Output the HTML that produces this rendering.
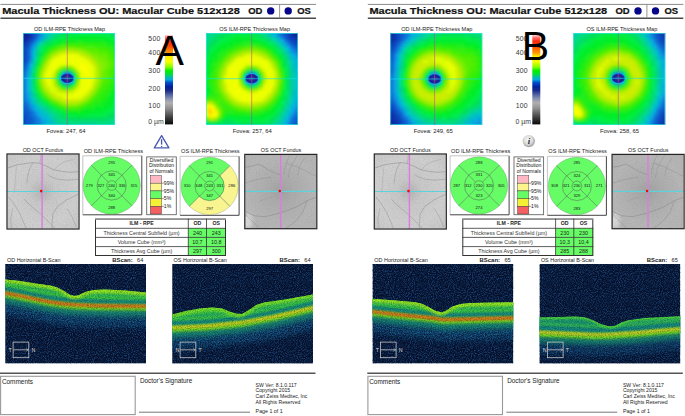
<!DOCTYPE html>
<html><head><meta charset="utf-8"><style>
html,body{margin:0;padding:0;background:#fff;width:685px;height:416px;overflow:hidden}
svg{display:block;font-family:"Liberation Sans", sans-serif}
</style></head><body>
<svg width="685" height="416" viewBox="0 0 685 416">
<rect width="685" height="416" fill="#fff"/>
<g transform="translate(0,0)">
<line x1="0.5" y1="4.4" x2="316" y2="4.4" stroke="#8a8a8a" stroke-width="1"/>
<line x1="0.5" y1="18.3" x2="316" y2="18.3" stroke="#4a4a4a" stroke-width="1.5"/>
<line x1="279.6" y1="4.4" x2="279.6" y2="18.3" stroke="#8a8a8a" stroke-width="0.9"/>
<text x="2.2" y="13.9" font-size="9.7" font-weight="bold" fill="#111" stroke="#111" stroke-width="0.22" textLength="237.6" lengthAdjust="spacingAndGlyphs">Macula Thickness OU: Macular Cube 512x128</text>
<text x="248.2" y="13.9" font-size="9.7" font-weight="bold" fill="#111" stroke="#111" stroke-width="0.22" textLength="14.2" lengthAdjust="spacingAndGlyphs">OD</text>
<circle cx="270.7" cy="10.9" r="3.7" fill="#06068a"/>
<circle cx="288.2" cy="10.9" r="3.7" fill="#06068a"/>
<text x="297.2" y="13.9" font-size="9.7" font-weight="bold" fill="#111" stroke="#111" stroke-width="0.22" textLength="13.6" lengthAdjust="spacingAndGlyphs">OS</text>
<text x="69.5" y="31.1" font-size="5.55" text-anchor="middle" font-weight="normal" fill="#222" >OD ILM-RPE Thickness Map</text>
<text x="254.6" y="31.1" font-size="5.55" text-anchor="middle" font-weight="normal" fill="#222" >OS ILM-RPE Thickness Map</text>
<g transform="translate(23,33)"><defs><clipPath id="cpAa"><rect width="92" height="92"/></clipPath><filter id="blAa" x="-5%" y="-5%" width="110%" height="110%"><feGaussianBlur stdDeviation="1.6"/></filter><filter id="bsAa" x="-50%" y="-50%" width="200%" height="200%"><feGaussianBlur stdDeviation="1.1"/></filter><filter id="btAa" x="-50%" y="-50%" width="200%" height="200%"><feGaussianBlur stdDeviation="0.6"/></filter></defs><g clip-path="url(#cpAa)"><g filter="url(#blAa)" shape-rendering="crispEdges"><rect x="-3" y="-3" width="3" height="3" fill="#13a"/><rect x="0" y="-3" width="3" height="3" fill="#12a"/><rect x="3" y="-3" width="3" height="3" fill="#13a"/><rect x="6" y="-3" width="3" height="3" fill="#14b"/><rect x="9" y="-3" width="3" height="3" fill="#15c"/><rect x="12" y="-3" width="3" height="3" fill="#16c"/><rect x="15" y="-3" width="3" height="3" fill="#17d"/><rect x="18" y="-3" width="3" height="3" fill="#1ad"/><rect x="21" y="-3" width="3" height="3" fill="#0bc"/><rect x="24" y="-3" width="3" height="3" fill="#0bb"/><rect x="27" y="-3" width="3" height="3" fill="#0ca"/><rect x="30" y="-3" width="3" height="3" fill="#0c9"/><rect x="33" y="-3" width="3" height="3" fill="#0d8"/><rect x="36" y="-3" width="3" height="3" fill="#0d7"/><rect x="39" y="-3" width="6" height="3" fill="#0d6"/><rect x="45" y="-3" width="9" height="3" fill="#0d5"/><rect x="54" y="-3" width="18" height="3" fill="#0e5"/><rect x="72" y="-3" width="12" height="3" fill="#0d5"/><rect x="84" y="-3" width="12" height="3" fill="#0d6"/><rect x="-3" y="0" width="9" height="3" fill="#129"/><rect x="6" y="0" width="3" height="3" fill="#13a"/><rect x="9" y="0" width="3" height="3" fill="#14b"/><rect x="12" y="0" width="3" height="3" fill="#15c"/><rect x="15" y="0" width="3" height="3" fill="#17d"/><rect x="18" y="0" width="3" height="3" fill="#19d"/><rect x="21" y="0" width="3" height="3" fill="#0bc"/><rect x="24" y="0" width="3" height="3" fill="#0cb"/><rect x="27" y="0" width="3" height="3" fill="#0ca"/><rect x="30" y="0" width="3" height="3" fill="#0d8"/><rect x="33" y="0" width="3" height="3" fill="#0d7"/><rect x="36" y="0" width="3" height="3" fill="#0d6"/><rect x="39" y="0" width="6" height="3" fill="#0d5"/><rect x="45" y="0" width="39" height="3" fill="#0e4"/><rect x="84" y="0" width="3" height="3" fill="#0e5"/><rect x="87" y="0" width="3" height="3" fill="#0d5"/><rect x="90" y="0" width="6" height="3" fill="#0d6"/><rect x="-3" y="3" width="9" height="3" fill="#129"/><rect x="6" y="3" width="3" height="3" fill="#13a"/><rect x="9" y="3" width="3" height="3" fill="#14b"/><rect x="12" y="3" width="3" height="3" fill="#16c"/><rect x="15" y="3" width="3" height="3" fill="#18d"/><rect x="18" y="3" width="3" height="3" fill="#0ad"/><rect x="21" y="3" width="3" height="3" fill="#0bb"/><rect x="24" y="3" width="3" height="3" fill="#0ca"/><rect x="27" y="3" width="3" height="3" fill="#0d8"/><rect x="30" y="3" width="3" height="3" fill="#0d6"/><rect x="33" y="3" width="3" height="3" fill="#0d5"/><rect x="36" y="3" width="3" height="3" fill="#0e5"/><rect x="39" y="3" width="6" height="3" fill="#0e4"/><rect x="45" y="3" width="12" height="3" fill="#0e3"/><rect x="57" y="3" width="15" height="3" fill="#0e2"/><rect x="72" y="3" width="15" height="3" fill="#0e3"/><rect x="87" y="3" width="3" height="3" fill="#0e4"/><rect x="90" y="3" width="3" height="3" fill="#0e5"/><rect x="93" y="3" width="3" height="3" fill="#0d5"/><rect x="-3" y="6" width="3" height="3" fill="#13a"/><rect x="0" y="6" width="3" height="3" fill="#12a"/><rect x="3" y="6" width="3" height="3" fill="#13a"/><rect x="6" y="6" width="3" height="3" fill="#14b"/><rect x="9" y="6" width="3" height="3" fill="#15c"/><rect x="12" y="6" width="3" height="3" fill="#17d"/><rect x="15" y="6" width="3" height="3" fill="#0ad"/><rect x="18" y="6" width="3" height="3" fill="#0bb"/><rect x="21" y="6" width="3" height="3" fill="#0c9"/><rect x="24" y="6" width="3" height="3" fill="#0d7"/><rect x="27" y="6" width="3" height="3" fill="#0d6"/><rect x="30" y="6" width="3" height="3" fill="#0e5"/><rect x="33" y="6" width="3" height="3" fill="#0e4"/><rect x="36" y="6" width="3" height="3" fill="#0e3"/><rect x="39" y="6" width="6" height="3" fill="#0e2"/><rect x="45" y="6" width="36" height="3" fill="#1e2"/><rect x="81" y="6" width="6" height="3" fill="#0e2"/><rect x="87" y="6" width="6" height="3" fill="#0e3"/><rect x="93" y="6" width="3" height="3" fill="#0e4"/><rect x="-3" y="9" width="6" height="3" fill="#13a"/><rect x="3" y="9" width="3" height="3" fill="#14b"/><rect x="6" y="9" width="3" height="3" fill="#15c"/><rect x="9" y="9" width="3" height="3" fill="#17d"/><rect x="12" y="9" width="3" height="3" fill="#0ad"/><rect x="15" y="9" width="3" height="3" fill="#0cb"/><rect x="18" y="9" width="3" height="3" fill="#0d8"/><rect x="21" y="9" width="3" height="3" fill="#0d6"/><rect x="24" y="9" width="3" height="3" fill="#0d5"/><rect x="27" y="9" width="3" height="3" fill="#0e4"/><rect x="30" y="9" width="3" height="3" fill="#0e3"/><rect x="33" y="9" width="3" height="3" fill="#0e2"/><rect x="36" y="9" width="3" height="3" fill="#1e2"/><rect x="39" y="9" width="3" height="3" fill="#2e2"/><rect x="42" y="9" width="12" height="3" fill="#2e1"/><rect x="54" y="9" width="6" height="3" fill="#3e1"/><rect x="60" y="9" width="21" height="3" fill="#2e1"/><rect x="81" y="9" width="3" height="3" fill="#2e2"/><rect x="84" y="9" width="6" height="3" fill="#1e2"/><rect x="90" y="9" width="3" height="3" fill="#0e2"/><rect x="93" y="9" width="3" height="3" fill="#0e3"/><rect x="-3" y="12" width="9" height="3" fill="#14b"/><rect x="6" y="12" width="3" height="3" fill="#16c"/><rect x="9" y="12" width="3" height="3" fill="#19d"/><rect x="12" y="12" width="3" height="3" fill="#0bb"/><rect x="15" y="12" width="3" height="3" fill="#0d8"/><rect x="18" y="12" width="3" height="3" fill="#0d6"/><rect x="21" y="12" width="3" height="3" fill="#0e4"/><rect x="24" y="12" width="3" height="3" fill="#0e3"/><rect x="27" y="12" width="3" height="3" fill="#0e2"/><rect x="30" y="12" width="3" height="3" fill="#2e1"/><rect x="33" y="12" width="3" height="3" fill="#3e1"/><rect x="36" y="12" width="3" height="3" fill="#4e0"/><rect x="39" y="12" width="15" height="3" fill="#5e0"/><rect x="54" y="12" width="9" height="3" fill="#4e0"/><rect x="63" y="12" width="9" height="3" fill="#4e1"/><rect x="72" y="12" width="12" height="3" fill="#3e1"/><rect x="84" y="12" width="3" height="3" fill="#2e1"/><rect x="87" y="12" width="3" height="3" fill="#2e2"/><rect x="90" y="12" width="3" height="3" fill="#1e2"/><rect x="93" y="12" width="3" height="3" fill="#0e2"/><rect x="-3" y="15" width="6" height="3" fill="#14b"/><rect x="3" y="15" width="3" height="3" fill="#15c"/><rect x="6" y="15" width="3" height="3" fill="#17d"/><rect x="9" y="15" width="3" height="3" fill="#0ad"/><rect x="12" y="15" width="3" height="3" fill="#0ca"/><rect x="15" y="15" width="3" height="3" fill="#0d7"/><rect x="18" y="15" width="3" height="3" fill="#0e5"/><rect x="21" y="15" width="3" height="3" fill="#0e3"/><rect x="24" y="15" width="3" height="3" fill="#1e2"/><rect x="27" y="15" width="3" height="3" fill="#3e1"/><rect x="30" y="15" width="3" height="3" fill="#4e0"/><rect x="33" y="15" width="3" height="3" fill="#6e0"/><rect x="36" y="15" width="3" height="3" fill="#7e0"/><rect x="39" y="15" width="3" height="3" fill="#8e0"/><rect x="42" y="15" width="9" height="3" fill="#9e0"/><rect x="51" y="15" width="6" height="3" fill="#8e0"/><rect x="57" y="15" width="3" height="3" fill="#7e0"/><rect x="60" y="15" width="3" height="3" fill="#6e0"/><rect x="63" y="15" width="12" height="3" fill="#5e0"/><rect x="75" y="15" width="9" height="3" fill="#4e0"/><rect x="84" y="15" width="6" height="3" fill="#3e1"/><rect x="90" y="15" width="3" height="3" fill="#2e2"/><rect x="93" y="15" width="3" height="3" fill="#1e2"/><rect x="-3" y="18" width="6" height="3" fill="#14b"/><rect x="3" y="18" width="3" height="3" fill="#15c"/><rect x="6" y="18" width="3" height="3" fill="#17d"/><rect x="9" y="18" width="3" height="3" fill="#0bd"/><rect x="12" y="18" width="3" height="3" fill="#0c9"/><rect x="15" y="18" width="3" height="3" fill="#0d6"/><rect x="18" y="18" width="3" height="3" fill="#0e4"/><rect x="21" y="18" width="3" height="3" fill="#1e2"/><rect x="24" y="18" width="3" height="3" fill="#3e1"/><rect x="27" y="18" width="3" height="3" fill="#6e0"/><rect x="30" y="18" width="3" height="3" fill="#8e0"/><rect x="33" y="18" width="3" height="3" fill="#9e0"/><rect x="36" y="18" width="6" height="3" fill="#be0"/><rect x="42" y="18" width="9" height="3" fill="#ce0"/><rect x="51" y="18" width="6" height="3" fill="#be0"/><rect x="57" y="18" width="3" height="3" fill="#ae0"/><rect x="60" y="18" width="3" height="3" fill="#9e0"/><rect x="63" y="18" width="3" height="3" fill="#8e0"/><rect x="66" y="18" width="9" height="3" fill="#6e0"/><rect x="75" y="18" width="9" height="3" fill="#5e0"/><rect x="84" y="18" width="3" height="3" fill="#4e0"/><rect x="87" y="18" width="3" height="3" fill="#3e1"/><rect x="90" y="18" width="3" height="3" fill="#2e1"/><rect x="93" y="18" width="3" height="3" fill="#1e2"/><rect x="-3" y="21" width="6" height="3" fill="#14b"/><rect x="3" y="21" width="3" height="3" fill="#15c"/><rect x="6" y="21" width="3" height="3" fill="#17d"/><rect x="9" y="21" width="3" height="3" fill="#0bd"/><rect x="12" y="21" width="3" height="3" fill="#0c9"/><rect x="15" y="21" width="3" height="3" fill="#0d5"/><rect x="18" y="21" width="3" height="3" fill="#0e2"/><rect x="21" y="21" width="3" height="3" fill="#3e1"/><rect x="24" y="21" width="3" height="3" fill="#6e0"/><rect x="27" y="21" width="3" height="3" fill="#9e0"/><rect x="30" y="21" width="3" height="3" fill="#be0"/><rect x="33" y="21" width="3" height="3" fill="#ce0"/><rect x="36" y="21" width="3" height="3" fill="#df0"/><rect x="39" y="21" width="15" height="3" fill="#ef0"/><rect x="54" y="21" width="3" height="3" fill="#df0"/><rect x="57" y="21" width="3" height="3" fill="#ce0"/><rect x="60" y="21" width="3" height="3" fill="#be0"/><rect x="63" y="21" width="3" height="3" fill="#ae0"/><rect x="66" y="21" width="3" height="3" fill="#9e0"/><rect x="69" y="21" width="6" height="3" fill="#7e0"/><rect x="75" y="21" width="9" height="3" fill="#6e0"/><rect x="84" y="21" width="3" height="3" fill="#5e0"/><rect x="87" y="21" width="3" height="3" fill="#4e0"/><rect x="90" y="21" width="3" height="3" fill="#3e1"/><rect x="93" y="21" width="3" height="3" fill="#2e1"/><rect x="-3" y="24" width="6" height="3" fill="#14b"/><rect x="3" y="24" width="3" height="3" fill="#15c"/><rect x="6" y="24" width="3" height="3" fill="#17d"/><rect x="9" y="24" width="3" height="3" fill="#0bc"/><rect x="12" y="24" width="3" height="3" fill="#0d8"/><rect x="15" y="24" width="3" height="3" fill="#0e4"/><rect x="18" y="24" width="3" height="3" fill="#2e2"/><rect x="21" y="24" width="3" height="3" fill="#5e0"/><rect x="24" y="24" width="3" height="3" fill="#8e0"/><rect x="27" y="24" width="3" height="3" fill="#be0"/><rect x="30" y="24" width="3" height="3" fill="#df0"/><rect x="33" y="24" width="27" height="3" fill="#ef0"/><rect x="60" y="24" width="3" height="3" fill="#df0"/><rect x="63" y="24" width="3" height="3" fill="#ce0"/><rect x="66" y="24" width="3" height="3" fill="#be0"/><rect x="69" y="24" width="3" height="3" fill="#9e0"/><rect x="72" y="24" width="3" height="3" fill="#8e0"/><rect x="75" y="24" width="6" height="3" fill="#7e0"/><rect x="81" y="24" width="3" height="3" fill="#6e0"/><rect x="84" y="24" width="3" height="3" fill="#5e0"/><rect x="87" y="24" width="3" height="3" fill="#4e0"/><rect x="90" y="24" width="3" height="3" fill="#3e1"/><rect x="93" y="24" width="3" height="3" fill="#2e1"/><rect x="-3" y="27" width="6" height="3" fill="#14b"/><rect x="3" y="27" width="3" height="3" fill="#15c"/><rect x="6" y="27" width="3" height="3" fill="#18d"/><rect x="9" y="27" width="3" height="3" fill="#0bb"/><rect x="12" y="27" width="3" height="3" fill="#0d7"/><rect x="15" y="27" width="3" height="3" fill="#0e3"/><rect x="18" y="27" width="3" height="3" fill="#3e1"/><rect x="21" y="27" width="3" height="3" fill="#7e0"/><rect x="24" y="27" width="3" height="3" fill="#be0"/><rect x="27" y="27" width="3" height="3" fill="#df0"/><rect x="30" y="27" width="36" height="3" fill="#ef0"/><rect x="66" y="27" width="3" height="3" fill="#ce0"/><rect x="69" y="27" width="3" height="3" fill="#be0"/><rect x="72" y="27" width="3" height="3" fill="#9e0"/><rect x="75" y="27" width="3" height="3" fill="#8e0"/><rect x="78" y="27" width="6" height="3" fill="#7e0"/><rect x="84" y="27" width="3" height="3" fill="#6e0"/><rect x="87" y="27" width="3" height="3" fill="#5e0"/><rect x="90" y="27" width="3" height="3" fill="#4e1"/><rect x="93" y="27" width="3" height="3" fill="#2e1"/><rect x="-3" y="30" width="3" height="3" fill="#14b"/><rect x="0" y="30" width="3" height="3" fill="#15c"/><rect x="3" y="30" width="3" height="3" fill="#16c"/><rect x="6" y="30" width="3" height="3" fill="#1ad"/><rect x="9" y="30" width="3" height="3" fill="#0ca"/><rect x="12" y="30" width="3" height="3" fill="#0d5"/><rect x="15" y="30" width="3" height="3" fill="#1e2"/><rect x="18" y="30" width="3" height="3" fill="#5e0"/><rect x="21" y="30" width="3" height="3" fill="#ae0"/><rect x="24" y="30" width="3" height="3" fill="#ce0"/><rect x="27" y="30" width="12" height="3" fill="#ef0"/><rect x="39" y="30" width="9" height="3" fill="#df0"/><rect x="48" y="30" width="9" height="3" fill="#ef0"/><rect x="57" y="30" width="3" height="3" fill="#ff0"/><rect x="60" y="30" width="9" height="3" fill="#ef0"/><rect x="69" y="30" width="3" height="3" fill="#ce0"/><rect x="72" y="30" width="3" height="3" fill="#ae0"/><rect x="75" y="30" width="6" height="3" fill="#8e0"/><rect x="81" y="30" width="3" height="3" fill="#7e0"/><rect x="84" y="30" width="3" height="3" fill="#6e0"/><rect x="87" y="30" width="3" height="3" fill="#5e0"/><rect x="90" y="30" width="3" height="3" fill="#4e1"/><rect x="93" y="30" width="3" height="3" fill="#2e1"/><rect x="-3" y="33" width="6" height="3" fill="#15c"/><rect x="3" y="33" width="3" height="3" fill="#17d"/><rect x="6" y="33" width="3" height="3" fill="#0bd"/><rect x="9" y="33" width="3" height="3" fill="#0c9"/><rect x="12" y="33" width="3" height="3" fill="#0e4"/><rect x="15" y="33" width="3" height="3" fill="#3e1"/><rect x="18" y="33" width="3" height="3" fill="#7e0"/><rect x="21" y="33" width="3" height="3" fill="#be0"/><rect x="24" y="33" width="3" height="3" fill="#df0"/><rect x="27" y="33" width="6" height="3" fill="#ef0"/><rect x="33" y="33" width="3" height="3" fill="#df0"/><rect x="36" y="33" width="3" height="3" fill="#ae0"/><rect x="39" y="33" width="3" height="3" fill="#7e0"/><rect x="42" y="33" width="3" height="3" fill="#5e0"/><rect x="45" y="33" width="3" height="3" fill="#6e0"/><rect x="48" y="33" width="3" height="3" fill="#9e0"/><rect x="51" y="33" width="3" height="3" fill="#df0"/><rect x="54" y="33" width="3" height="3" fill="#ef0"/><rect x="57" y="33" width="6" height="3" fill="#ff0"/><rect x="63" y="33" width="6" height="3" fill="#ef0"/><rect x="69" y="33" width="3" height="3" fill="#df0"/><rect x="72" y="33" width="3" height="3" fill="#be0"/><rect x="75" y="33" width="3" height="3" fill="#9e0"/><rect x="78" y="33" width="3" height="3" fill="#8e0"/><rect x="81" y="33" width="3" height="3" fill="#7e0"/><rect x="84" y="33" width="3" height="3" fill="#6e0"/><rect x="87" y="33" width="3" height="3" fill="#5e0"/><rect x="90" y="33" width="3" height="3" fill="#4e1"/><rect x="93" y="33" width="3" height="3" fill="#2e1"/><rect x="-3" y="36" width="3" height="3" fill="#15c"/><rect x="0" y="36" width="3" height="3" fill="#16c"/><rect x="3" y="36" width="3" height="3" fill="#18d"/><rect x="6" y="36" width="3" height="3" fill="#0bc"/><rect x="9" y="36" width="3" height="3" fill="#0d8"/><rect x="12" y="36" width="3" height="3" fill="#0e3"/><rect x="15" y="36" width="3" height="3" fill="#4e0"/><rect x="18" y="36" width="3" height="3" fill="#9e0"/><rect x="21" y="36" width="3" height="3" fill="#ce0"/><rect x="24" y="36" width="6" height="3" fill="#ef0"/><rect x="30" y="36" width="3" height="3" fill="#df0"/><rect x="33" y="36" width="3" height="3" fill="#9e0"/><rect x="36" y="36" width="3" height="3" fill="#3e1"/><rect x="39" y="36" width="3" height="3" fill="#1e2"/><rect x="42" y="36" width="3" height="3" fill="#0e3"/><rect x="45" y="36" width="3" height="3" fill="#0e2"/><rect x="48" y="36" width="3" height="3" fill="#2e1"/><rect x="51" y="36" width="3" height="3" fill="#7e0"/><rect x="54" y="36" width="3" height="3" fill="#df0"/><rect x="57" y="36" width="3" height="3" fill="#ef0"/><rect x="60" y="36" width="3" height="3" fill="#ff0"/><rect x="63" y="36" width="6" height="3" fill="#ef0"/><rect x="69" y="36" width="3" height="3" fill="#df0"/><rect x="72" y="36" width="3" height="3" fill="#be0"/><rect x="75" y="36" width="3" height="3" fill="#9e0"/><rect x="78" y="36" width="3" height="3" fill="#7e0"/><rect x="81" y="36" width="3" height="3" fill="#6e0"/><rect x="84" y="36" width="3" height="3" fill="#5e0"/><rect x="87" y="36" width="3" height="3" fill="#4e0"/><rect x="90" y="36" width="3" height="3" fill="#3e1"/><rect x="93" y="36" width="3" height="3" fill="#2e1"/><rect x="-3" y="39" width="6" height="3" fill="#16c"/><rect x="3" y="39" width="3" height="3" fill="#19d"/><rect x="6" y="39" width="3" height="3" fill="#0bb"/><rect x="9" y="39" width="3" height="3" fill="#0d7"/><rect x="12" y="39" width="3" height="3" fill="#1e2"/><rect x="15" y="39" width="3" height="3" fill="#5e0"/><rect x="18" y="39" width="3" height="3" fill="#ae0"/><rect x="21" y="39" width="3" height="3" fill="#df0"/><rect x="24" y="39" width="6" height="3" fill="#ef0"/><rect x="30" y="39" width="3" height="3" fill="#ce0"/><rect x="33" y="39" width="3" height="3" fill="#4e0"/><rect x="36" y="39" width="3" height="3" fill="#0e3"/><rect x="39" y="39" width="3" height="3" fill="#19d"/><rect x="42" y="39" width="3" height="3" fill="#15c"/><rect x="45" y="39" width="3" height="3" fill="#16c"/><rect x="48" y="39" width="3" height="3" fill="#0d6"/><rect x="51" y="39" width="3" height="3" fill="#2e1"/><rect x="54" y="39" width="3" height="3" fill="#ae0"/><rect x="57" y="39" width="6" height="3" fill="#ef0"/><rect x="63" y="39" width="3" height="3" fill="#ff0"/><rect x="66" y="39" width="3" height="3" fill="#ef0"/><rect x="69" y="39" width="3" height="3" fill="#df0"/><rect x="72" y="39" width="3" height="3" fill="#be0"/><rect x="75" y="39" width="3" height="3" fill="#9e0"/><rect x="78" y="39" width="3" height="3" fill="#7e0"/><rect x="81" y="39" width="3" height="3" fill="#6e0"/><rect x="84" y="39" width="3" height="3" fill="#5e0"/><rect x="87" y="39" width="3" height="3" fill="#4e0"/><rect x="90" y="39" width="3" height="3" fill="#3e1"/><rect x="93" y="39" width="3" height="3" fill="#2e1"/><rect x="-3" y="42" width="3" height="3" fill="#16c"/><rect x="0" y="42" width="3" height="3" fill="#17d"/><rect x="3" y="42" width="3" height="3" fill="#19d"/><rect x="6" y="42" width="3" height="3" fill="#0cb"/><rect x="9" y="42" width="3" height="3" fill="#0d6"/><rect x="12" y="42" width="3" height="3" fill="#1e2"/><rect x="15" y="42" width="3" height="3" fill="#6e0"/><rect x="18" y="42" width="3" height="3" fill="#be0"/><rect x="21" y="42" width="3" height="3" fill="#df0"/><rect x="24" y="42" width="3" height="3" fill="#ef0"/><rect x="27" y="42" width="3" height="3" fill="#df0"/><rect x="30" y="42" width="3" height="3" fill="#ae0"/><rect x="33" y="42" width="3" height="3" fill="#1e2"/><rect x="36" y="42" width="3" height="3" fill="#0d7"/><rect x="39" y="42" width="3" height="3" fill="#13a"/><rect x="42" y="42" width="3" height="3" fill="#12a"/><rect x="45" y="42" width="3" height="3" fill="#13a"/><rect x="48" y="42" width="3" height="3" fill="#17c"/><rect x="51" y="42" width="3" height="3" fill="#1e2"/><rect x="54" y="42" width="3" height="3" fill="#7e0"/><rect x="57" y="42" width="12" height="3" fill="#ef0"/><rect x="69" y="42" width="3" height="3" fill="#df0"/><rect x="72" y="42" width="3" height="3" fill="#be0"/><rect x="75" y="42" width="3" height="3" fill="#9e0"/><rect x="78" y="42" width="6" height="3" fill="#6e0"/><rect x="84" y="42" width="3" height="3" fill="#5e0"/><rect x="87" y="42" width="3" height="3" fill="#4e1"/><rect x="90" y="42" width="3" height="3" fill="#3e1"/><rect x="93" y="42" width="3" height="3" fill="#1e2"/><rect x="-3" y="45" width="3" height="3" fill="#16c"/><rect x="0" y="45" width="3" height="3" fill="#17d"/><rect x="3" y="45" width="3" height="3" fill="#1ad"/><rect x="6" y="45" width="3" height="3" fill="#0cb"/><rect x="9" y="45" width="3" height="3" fill="#0d6"/><rect x="12" y="45" width="3" height="3" fill="#1e2"/><rect x="15" y="45" width="3" height="3" fill="#6e0"/><rect x="18" y="45" width="3" height="3" fill="#be0"/><rect x="21" y="45" width="3" height="3" fill="#df0"/><rect x="24" y="45" width="3" height="3" fill="#ef0"/><rect x="27" y="45" width="3" height="3" fill="#df0"/><rect x="30" y="45" width="3" height="3" fill="#ae0"/><rect x="33" y="45" width="3" height="3" fill="#1e2"/><rect x="36" y="45" width="3" height="3" fill="#0c9"/><rect x="39" y="45" width="3" height="3" fill="#13a"/><rect x="42" y="45" width="3" height="3" fill="#129"/><rect x="45" y="45" width="3" height="3" fill="#13a"/><rect x="48" y="45" width="3" height="3" fill="#16c"/><rect x="51" y="45" width="3" height="3" fill="#0e2"/><rect x="54" y="45" width="3" height="3" fill="#7e0"/><rect x="57" y="45" width="12" height="3" fill="#ef0"/><rect x="69" y="45" width="3" height="3" fill="#df0"/><rect x="72" y="45" width="3" height="3" fill="#be0"/><rect x="75" y="45" width="3" height="3" fill="#8e0"/><rect x="78" y="45" width="3" height="3" fill="#6e0"/><rect x="81" y="45" width="3" height="3" fill="#5e0"/><rect x="84" y="45" width="3" height="3" fill="#4e0"/><rect x="87" y="45" width="3" height="3" fill="#3e1"/><rect x="90" y="45" width="3" height="3" fill="#2e1"/><rect x="93" y="45" width="3" height="3" fill="#1e2"/><rect x="-3" y="48" width="3" height="3" fill="#16c"/><rect x="0" y="48" width="3" height="3" fill="#17d"/><rect x="3" y="48" width="3" height="3" fill="#1ad"/><rect x="6" y="48" width="3" height="3" fill="#0cb"/><rect x="9" y="48" width="3" height="3" fill="#0d6"/><rect x="12" y="48" width="3" height="3" fill="#1e2"/><rect x="15" y="48" width="3" height="3" fill="#5e0"/><rect x="18" y="48" width="3" height="3" fill="#ae0"/><rect x="21" y="48" width="3" height="3" fill="#ce0"/><rect x="24" y="48" width="3" height="3" fill="#ef0"/><rect x="27" y="48" width="3" height="3" fill="#df0"/><rect x="30" y="48" width="3" height="3" fill="#be0"/><rect x="33" y="48" width="3" height="3" fill="#3e1"/><rect x="36" y="48" width="3" height="3" fill="#0e4"/><rect x="39" y="48" width="3" height="3" fill="#16c"/><rect x="42" y="48" width="3" height="3" fill="#13a"/><rect x="45" y="48" width="3" height="3" fill="#14b"/><rect x="48" y="48" width="3" height="3" fill="#0ca"/><rect x="51" y="48" width="3" height="3" fill="#1e2"/><rect x="54" y="48" width="3" height="3" fill="#9e0"/><rect x="57" y="48" width="12" height="3" fill="#ef0"/><rect x="69" y="48" width="3" height="3" fill="#cf0"/><rect x="72" y="48" width="3" height="3" fill="#ae0"/><rect x="75" y="48" width="3" height="3" fill="#8e0"/><rect x="78" y="48" width="3" height="3" fill="#5e0"/><rect x="81" y="48" width="3" height="3" fill="#4e0"/><rect x="84" y="48" width="3" height="3" fill="#4e1"/><rect x="87" y="48" width="3" height="3" fill="#3e1"/><rect x="90" y="48" width="3" height="3" fill="#2e2"/><rect x="93" y="48" width="3" height="3" fill="#0e2"/><rect x="-3" y="51" width="3" height="3" fill="#16c"/><rect x="0" y="51" width="3" height="3" fill="#17d"/><rect x="3" y="51" width="3" height="3" fill="#1ad"/><rect x="6" y="51" width="3" height="3" fill="#0cb"/><rect x="9" y="51" width="3" height="3" fill="#0d7"/><rect x="12" y="51" width="3" height="3" fill="#0e2"/><rect x="15" y="51" width="3" height="3" fill="#4e0"/><rect x="18" y="51" width="3" height="3" fill="#9e0"/><rect x="21" y="51" width="3" height="3" fill="#ce0"/><rect x="24" y="51" width="6" height="3" fill="#df0"/><rect x="30" y="51" width="3" height="3" fill="#ce0"/><rect x="33" y="51" width="3" height="3" fill="#7e0"/><rect x="36" y="51" width="3" height="3" fill="#1e2"/><rect x="39" y="51" width="3" height="3" fill="#0e3"/><rect x="42" y="51" width="3" height="3" fill="#0d7"/><rect x="45" y="51" width="3" height="3" fill="#0d5"/><rect x="48" y="51" width="3" height="3" fill="#0e2"/><rect x="51" y="51" width="3" height="3" fill="#4e0"/><rect x="54" y="51" width="3" height="3" fill="#ce0"/><rect x="57" y="51" width="12" height="3" fill="#ef0"/><rect x="69" y="51" width="3" height="3" fill="#ce0"/><rect x="72" y="51" width="3" height="3" fill="#9e0"/><rect x="75" y="51" width="3" height="3" fill="#7e0"/><rect x="78" y="51" width="6" height="3" fill="#4e0"/><rect x="84" y="51" width="3" height="3" fill="#3e1"/><rect x="87" y="51" width="3" height="3" fill="#2e1"/><rect x="90" y="51" width="3" height="3" fill="#1e2"/><rect x="93" y="51" width="3" height="3" fill="#0e2"/><rect x="-3" y="54" width="6" height="3" fill="#17d"/><rect x="3" y="54" width="3" height="3" fill="#1ad"/><rect x="6" y="54" width="3" height="3" fill="#0cb"/><rect x="9" y="54" width="3" height="3" fill="#0d7"/><rect x="12" y="54" width="3" height="3" fill="#0e3"/><rect x="15" y="54" width="3" height="3" fill="#3e1"/><rect x="18" y="54" width="3" height="3" fill="#7e0"/><rect x="21" y="54" width="3" height="3" fill="#be0"/><rect x="24" y="54" width="3" height="3" fill="#ce0"/><rect x="27" y="54" width="3" height="3" fill="#df0"/><rect x="30" y="54" width="3" height="3" fill="#cf0"/><rect x="33" y="54" width="3" height="3" fill="#ce0"/><rect x="36" y="54" width="3" height="3" fill="#7e0"/><rect x="39" y="54" width="3" height="3" fill="#3e1"/><rect x="42" y="54" width="3" height="3" fill="#2e2"/><rect x="45" y="54" width="3" height="3" fill="#2e1"/><rect x="48" y="54" width="3" height="3" fill="#6e0"/><rect x="51" y="54" width="3" height="3" fill="#be0"/><rect x="54" y="54" width="3" height="3" fill="#df0"/><rect x="57" y="54" width="9" height="3" fill="#ef0"/><rect x="66" y="54" width="3" height="3" fill="#df0"/><rect x="69" y="54" width="3" height="3" fill="#be0"/><rect x="72" y="54" width="3" height="3" fill="#8e0"/><rect x="75" y="54" width="3" height="3" fill="#5e0"/><rect x="78" y="54" width="3" height="3" fill="#4e0"/><rect x="81" y="54" width="6" height="3" fill="#3e1"/><rect x="87" y="54" width="3" height="3" fill="#2e1"/><rect x="90" y="54" width="3" height="3" fill="#1e2"/><rect x="93" y="54" width="3" height="3" fill="#0e3"/><rect x="-3" y="57" width="6" height="3" fill="#17d"/><rect x="3" y="57" width="3" height="3" fill="#1ad"/><rect x="6" y="57" width="3" height="3" fill="#0bb"/><rect x="9" y="57" width="3" height="3" fill="#0d8"/><rect x="12" y="57" width="3" height="3" fill="#0e4"/><rect x="15" y="57" width="3" height="3" fill="#2e2"/><rect x="18" y="57" width="3" height="3" fill="#5e0"/><rect x="21" y="57" width="3" height="3" fill="#9e0"/><rect x="24" y="57" width="3" height="3" fill="#be0"/><rect x="27" y="57" width="3" height="3" fill="#cf0"/><rect x="30" y="57" width="3" height="3" fill="#df0"/><rect x="33" y="57" width="6" height="3" fill="#ce0"/><rect x="39" y="57" width="3" height="3" fill="#be0"/><rect x="42" y="57" width="3" height="3" fill="#ae0"/><rect x="45" y="57" width="3" height="3" fill="#be0"/><rect x="48" y="57" width="3" height="3" fill="#ce0"/><rect x="51" y="57" width="3" height="3" fill="#df0"/><rect x="54" y="57" width="9" height="3" fill="#ef0"/><rect x="63" y="57" width="3" height="3" fill="#df0"/><rect x="66" y="57" width="3" height="3" fill="#be0"/><rect x="69" y="57" width="3" height="3" fill="#9e0"/><rect x="72" y="57" width="3" height="3" fill="#6e0"/><rect x="75" y="57" width="3" height="3" fill="#4e0"/><rect x="78" y="57" width="6" height="3" fill="#3e1"/><rect x="84" y="57" width="3" height="3" fill="#2e1"/><rect x="87" y="57" width="3" height="3" fill="#1e2"/><rect x="90" y="57" width="3" height="3" fill="#0e2"/><rect x="93" y="57" width="3" height="3" fill="#0e3"/><rect x="-3" y="60" width="6" height="3" fill="#17d"/><rect x="3" y="60" width="3" height="3" fill="#19d"/><rect x="6" y="60" width="3" height="3" fill="#0bc"/><rect x="9" y="60" width="3" height="3" fill="#0c9"/><rect x="12" y="60" width="3" height="3" fill="#0d6"/><rect x="15" y="60" width="3" height="3" fill="#0e3"/><rect x="18" y="60" width="3" height="3" fill="#3e1"/><rect x="21" y="60" width="3" height="3" fill="#6e0"/><rect x="24" y="60" width="3" height="3" fill="#9e0"/><rect x="27" y="60" width="3" height="3" fill="#be0"/><rect x="30" y="60" width="3" height="3" fill="#ce0"/><rect x="33" y="60" width="18" height="3" fill="#df0"/><rect x="51" y="60" width="9" height="3" fill="#ef0"/><rect x="60" y="60" width="3" height="3" fill="#df0"/><rect x="63" y="60" width="3" height="3" fill="#ce0"/><rect x="66" y="60" width="3" height="3" fill="#ae0"/><rect x="69" y="60" width="3" height="3" fill="#7e0"/><rect x="72" y="60" width="3" height="3" fill="#5e0"/><rect x="75" y="60" width="6" height="3" fill="#3e1"/><rect x="81" y="60" width="3" height="3" fill="#2e1"/><rect x="84" y="60" width="3" height="3" fill="#2e2"/><rect x="87" y="60" width="3" height="3" fill="#1e2"/><rect x="90" y="60" width="3" height="3" fill="#0e2"/><rect x="93" y="60" width="3" height="3" fill="#0e3"/><rect x="-3" y="63" width="3" height="3" fill="#16c"/><rect x="0" y="63" width="3" height="3" fill="#17d"/><rect x="3" y="63" width="3" height="3" fill="#19d"/><rect x="6" y="63" width="3" height="3" fill="#0bc"/><rect x="9" y="63" width="3" height="3" fill="#0ca"/><rect x="12" y="63" width="3" height="3" fill="#0d7"/><rect x="15" y="63" width="3" height="3" fill="#0e4"/><rect x="18" y="63" width="3" height="3" fill="#1e2"/><rect x="21" y="63" width="3" height="3" fill="#3e1"/><rect x="24" y="63" width="3" height="3" fill="#6e0"/><rect x="27" y="63" width="3" height="3" fill="#9e0"/><rect x="30" y="63" width="3" height="3" fill="#be0"/><rect x="33" y="63" width="6" height="3" fill="#ce0"/><rect x="39" y="63" width="3" height="3" fill="#df0"/><rect x="42" y="63" width="12" height="3" fill="#ef0"/><rect x="54" y="63" width="6" height="3" fill="#df0"/><rect x="60" y="63" width="3" height="3" fill="#be0"/><rect x="63" y="63" width="3" height="3" fill="#ae0"/><rect x="66" y="63" width="3" height="3" fill="#7e0"/><rect x="69" y="63" width="3" height="3" fill="#5e0"/><rect x="72" y="63" width="6" height="3" fill="#3e1"/><rect x="78" y="63" width="6" height="3" fill="#2e1"/><rect x="84" y="63" width="3" height="3" fill="#1e2"/><rect x="87" y="63" width="3" height="3" fill="#0e2"/><rect x="90" y="63" width="3" height="3" fill="#0e3"/><rect x="93" y="63" width="3" height="3" fill="#0e4"/><rect x="-3" y="66" width="3" height="3" fill="#16c"/><rect x="0" y="66" width="3" height="3" fill="#17c"/><rect x="3" y="66" width="3" height="3" fill="#18d"/><rect x="6" y="66" width="3" height="3" fill="#0ad"/><rect x="9" y="66" width="3" height="3" fill="#0cb"/><rect x="12" y="66" width="3" height="3" fill="#0c9"/><rect x="15" y="66" width="3" height="3" fill="#0d6"/><rect x="18" y="66" width="3" height="3" fill="#0e4"/><rect x="21" y="66" width="3" height="3" fill="#0e2"/><rect x="24" y="66" width="3" height="3" fill="#2e1"/><rect x="27" y="66" width="3" height="3" fill="#5e0"/><rect x="30" y="66" width="3" height="3" fill="#7e0"/><rect x="33" y="66" width="3" height="3" fill="#9e0"/><rect x="36" y="66" width="6" height="3" fill="#be0"/><rect x="42" y="66" width="15" height="3" fill="#ce0"/><rect x="57" y="66" width="3" height="3" fill="#be0"/><rect x="60" y="66" width="3" height="3" fill="#9e0"/><rect x="63" y="66" width="3" height="3" fill="#7e0"/><rect x="66" y="66" width="3" height="3" fill="#5e0"/><rect x="69" y="66" width="6" height="3" fill="#3e1"/><rect x="75" y="66" width="6" height="3" fill="#2e1"/><rect x="81" y="66" width="6" height="3" fill="#1e2"/><rect x="87" y="66" width="3" height="3" fill="#0e2"/><rect x="90" y="66" width="3" height="3" fill="#0e3"/><rect x="93" y="66" width="3" height="3" fill="#0e4"/><rect x="-3" y="69" width="6" height="3" fill="#16c"/><rect x="3" y="69" width="3" height="3" fill="#17d"/><rect x="6" y="69" width="3" height="3" fill="#19d"/><rect x="9" y="69" width="3" height="3" fill="#0bc"/><rect x="12" y="69" width="3" height="3" fill="#0ca"/><rect x="15" y="69" width="3" height="3" fill="#0d8"/><rect x="18" y="69" width="3" height="3" fill="#0d7"/><rect x="21" y="69" width="3" height="3" fill="#0e5"/><rect x="24" y="69" width="3" height="3" fill="#0e3"/><rect x="27" y="69" width="3" height="3" fill="#2e2"/><rect x="30" y="69" width="3" height="3" fill="#3e1"/><rect x="33" y="69" width="3" height="3" fill="#5e0"/><rect x="36" y="69" width="3" height="3" fill="#7e0"/><rect x="39" y="69" width="3" height="3" fill="#9e0"/><rect x="42" y="69" width="12" height="3" fill="#ae0"/><rect x="54" y="69" width="3" height="3" fill="#9e0"/><rect x="57" y="69" width="3" height="3" fill="#7e0"/><rect x="60" y="69" width="3" height="3" fill="#6e0"/><rect x="63" y="69" width="3" height="3" fill="#4e0"/><rect x="66" y="69" width="3" height="3" fill="#3e1"/><rect x="69" y="69" width="6" height="3" fill="#2e1"/><rect x="75" y="69" width="3" height="3" fill="#2e2"/><rect x="78" y="69" width="6" height="3" fill="#1e2"/><rect x="84" y="69" width="3" height="3" fill="#0e2"/><rect x="87" y="69" width="3" height="3" fill="#0e3"/><rect x="90" y="69" width="6" height="3" fill="#0e4"/><rect x="-3" y="72" width="3" height="3" fill="#15c"/><rect x="0" y="72" width="6" height="3" fill="#16c"/><rect x="6" y="72" width="3" height="3" fill="#18d"/><rect x="9" y="72" width="3" height="3" fill="#0ad"/><rect x="12" y="72" width="3" height="3" fill="#0bc"/><rect x="15" y="72" width="3" height="3" fill="#0ca"/><rect x="18" y="72" width="3" height="3" fill="#0d9"/><rect x="21" y="72" width="3" height="3" fill="#0d7"/><rect x="24" y="72" width="3" height="3" fill="#0d5"/><rect x="27" y="72" width="3" height="3" fill="#0e4"/><rect x="30" y="72" width="3" height="3" fill="#0e2"/><rect x="33" y="72" width="3" height="3" fill="#2e1"/><rect x="36" y="72" width="3" height="3" fill="#3e1"/><rect x="39" y="72" width="3" height="3" fill="#4e0"/><rect x="42" y="72" width="12" height="3" fill="#6e0"/><rect x="54" y="72" width="3" height="3" fill="#5e0"/><rect x="57" y="72" width="3" height="3" fill="#4e0"/><rect x="60" y="72" width="3" height="3" fill="#3e1"/><rect x="63" y="72" width="6" height="3" fill="#2e1"/><rect x="69" y="72" width="3" height="3" fill="#2e2"/><rect x="72" y="72" width="9" height="3" fill="#1e2"/><rect x="81" y="72" width="3" height="3" fill="#0e2"/><rect x="84" y="72" width="6" height="3" fill="#0e3"/><rect x="90" y="72" width="3" height="3" fill="#0e4"/><rect x="93" y="72" width="3" height="3" fill="#0e5"/><rect x="-3" y="75" width="6" height="3" fill="#15c"/><rect x="3" y="75" width="3" height="3" fill="#16c"/><rect x="6" y="75" width="3" height="3" fill="#17d"/><rect x="9" y="75" width="3" height="3" fill="#19d"/><rect x="12" y="75" width="3" height="3" fill="#0bd"/><rect x="15" y="75" width="3" height="3" fill="#0bc"/><rect x="18" y="75" width="3" height="3" fill="#0ca"/><rect x="21" y="75" width="3" height="3" fill="#0c9"/><rect x="24" y="75" width="3" height="3" fill="#0d8"/><rect x="27" y="75" width="3" height="3" fill="#0d6"/><rect x="30" y="75" width="3" height="3" fill="#0e5"/><rect x="33" y="75" width="3" height="3" fill="#0e3"/><rect x="36" y="75" width="3" height="3" fill="#0e2"/><rect x="39" y="75" width="3" height="3" fill="#2e2"/><rect x="42" y="75" width="3" height="3" fill="#2e1"/><rect x="45" y="75" width="12" height="3" fill="#3e1"/><rect x="57" y="75" width="3" height="3" fill="#2e1"/><rect x="60" y="75" width="12" height="3" fill="#1e2"/><rect x="72" y="75" width="6" height="3" fill="#0e2"/><rect x="78" y="75" width="9" height="3" fill="#0e3"/><rect x="87" y="75" width="3" height="3" fill="#0e4"/><rect x="90" y="75" width="3" height="3" fill="#0e5"/><rect x="93" y="75" width="3" height="3" fill="#0d5"/><rect x="-3" y="78" width="9" height="3" fill="#15c"/><rect x="6" y="78" width="3" height="3" fill="#16c"/><rect x="9" y="78" width="3" height="3" fill="#17d"/><rect x="12" y="78" width="3" height="3" fill="#19d"/><rect x="15" y="78" width="3" height="3" fill="#0bd"/><rect x="18" y="78" width="3" height="3" fill="#0bc"/><rect x="21" y="78" width="3" height="3" fill="#0cb"/><rect x="24" y="78" width="3" height="3" fill="#0c9"/><rect x="27" y="78" width="3" height="3" fill="#0d8"/><rect x="30" y="78" width="3" height="3" fill="#0d7"/><rect x="33" y="78" width="3" height="3" fill="#0d6"/><rect x="36" y="78" width="3" height="3" fill="#0e5"/><rect x="39" y="78" width="6" height="3" fill="#0e3"/><rect x="45" y="78" width="9" height="3" fill="#0e2"/><rect x="54" y="78" width="3" height="3" fill="#1e2"/><rect x="57" y="78" width="12" height="3" fill="#0e2"/><rect x="69" y="78" width="12" height="3" fill="#0e3"/><rect x="81" y="78" width="6" height="3" fill="#0e4"/><rect x="87" y="78" width="3" height="3" fill="#0e5"/><rect x="90" y="78" width="3" height="3" fill="#0d5"/><rect x="93" y="78" width="3" height="3" fill="#0d6"/><rect x="-3" y="81" width="3" height="3" fill="#14b"/><rect x="0" y="81" width="3" height="3" fill="#14c"/><rect x="3" y="81" width="3" height="3" fill="#15c"/><rect x="6" y="81" width="3" height="3" fill="#16c"/><rect x="9" y="81" width="3" height="3" fill="#17d"/><rect x="12" y="81" width="3" height="3" fill="#18d"/><rect x="15" y="81" width="3" height="3" fill="#1ad"/><rect x="18" y="81" width="3" height="3" fill="#0bd"/><rect x="21" y="81" width="3" height="3" fill="#0bc"/><rect x="24" y="81" width="3" height="3" fill="#0cb"/><rect x="27" y="81" width="3" height="3" fill="#0ca"/><rect x="30" y="81" width="3" height="3" fill="#0d8"/><rect x="33" y="81" width="3" height="3" fill="#0d7"/><rect x="36" y="81" width="3" height="3" fill="#0d6"/><rect x="39" y="81" width="3" height="3" fill="#0d5"/><rect x="42" y="81" width="9" height="3" fill="#0e4"/><rect x="51" y="81" width="12" height="3" fill="#0e3"/><rect x="63" y="81" width="18" height="3" fill="#0e4"/><rect x="81" y="81" width="3" height="3" fill="#0e5"/><rect x="84" y="81" width="6" height="3" fill="#0d5"/><rect x="90" y="81" width="3" height="3" fill="#0d6"/><rect x="93" y="81" width="3" height="3" fill="#0d7"/><rect x="-3" y="84" width="6" height="3" fill="#14b"/><rect x="3" y="84" width="6" height="3" fill="#15c"/><rect x="9" y="84" width="3" height="3" fill="#16c"/><rect x="12" y="84" width="3" height="3" fill="#17d"/><rect x="15" y="84" width="3" height="3" fill="#18d"/><rect x="18" y="84" width="3" height="3" fill="#1ad"/><rect x="21" y="84" width="3" height="3" fill="#0bd"/><rect x="24" y="84" width="3" height="3" fill="#0bc"/><rect x="27" y="84" width="3" height="3" fill="#0cb"/><rect x="30" y="84" width="3" height="3" fill="#0c9"/><rect x="33" y="84" width="3" height="3" fill="#0d8"/><rect x="36" y="84" width="3" height="3" fill="#0d7"/><rect x="39" y="84" width="6" height="3" fill="#0d6"/><rect x="45" y="84" width="36" height="3" fill="#0d5"/><rect x="81" y="84" width="9" height="3" fill="#0d6"/><rect x="90" y="84" width="3" height="3" fill="#0d7"/><rect x="93" y="84" width="3" height="3" fill="#0d8"/><rect x="-3" y="87" width="6" height="3" fill="#14b"/><rect x="3" y="87" width="6" height="3" fill="#15c"/><rect x="9" y="87" width="3" height="3" fill="#16c"/><rect x="12" y="87" width="3" height="3" fill="#17d"/><rect x="15" y="87" width="3" height="3" fill="#18d"/><rect x="18" y="87" width="3" height="3" fill="#19d"/><rect x="21" y="87" width="3" height="3" fill="#0ad"/><rect x="24" y="87" width="3" height="3" fill="#0bc"/><rect x="27" y="87" width="3" height="3" fill="#0bb"/><rect x="30" y="87" width="3" height="3" fill="#0ca"/><rect x="33" y="87" width="3" height="3" fill="#0c9"/><rect x="36" y="87" width="6" height="3" fill="#0d8"/><rect x="42" y="87" width="45" height="3" fill="#0d7"/><rect x="87" y="87" width="9" height="3" fill="#0d8"/><rect x="-3" y="90" width="3" height="3" fill="#14c"/><rect x="0" y="90" width="3" height="3" fill="#14b"/><rect x="3" y="90" width="6" height="3" fill="#15c"/><rect x="9" y="90" width="3" height="3" fill="#16c"/><rect x="12" y="90" width="3" height="3" fill="#17c"/><rect x="15" y="90" width="3" height="3" fill="#17d"/><rect x="18" y="90" width="3" height="3" fill="#19d"/><rect x="21" y="90" width="3" height="3" fill="#1ad"/><rect x="24" y="90" width="3" height="3" fill="#0bd"/><rect x="27" y="90" width="3" height="3" fill="#0bc"/><rect x="30" y="90" width="3" height="3" fill="#0cb"/><rect x="33" y="90" width="3" height="3" fill="#0ca"/><rect x="36" y="90" width="6" height="3" fill="#0c9"/><rect x="42" y="90" width="15" height="3" fill="#0d8"/><rect x="57" y="90" width="15" height="3" fill="#0c9"/><rect x="72" y="90" width="15" height="3" fill="#0d8"/><rect x="87" y="90" width="3" height="3" fill="#0c9"/><rect x="90" y="90" width="3" height="3" fill="#0d9"/><rect x="93" y="90" width="3" height="3" fill="#0d8"/><rect x="-3" y="93" width="12" height="3" fill="#15c"/><rect x="9" y="93" width="3" height="3" fill="#16c"/><rect x="12" y="93" width="3" height="3" fill="#17d"/><rect x="15" y="93" width="3" height="3" fill="#18d"/><rect x="18" y="93" width="3" height="3" fill="#19d"/><rect x="21" y="93" width="3" height="3" fill="#1ad"/><rect x="24" y="93" width="3" height="3" fill="#0bd"/><rect x="27" y="93" width="3" height="3" fill="#0bc"/><rect x="30" y="93" width="3" height="3" fill="#0bb"/><rect x="33" y="93" width="3" height="3" fill="#0cb"/><rect x="36" y="93" width="3" height="3" fill="#0ca"/><rect x="39" y="93" width="21" height="3" fill="#0c9"/><rect x="60" y="93" width="9" height="3" fill="#0ca"/><rect x="69" y="93" width="27" height="3" fill="#0c9"/></g><ellipse cx="44.3" cy="45.3" rx="7.3" ry="5.8" fill="#10c8e0" filter="url(#btAa)"/><ellipse cx="44.3" cy="45.3" rx="6.5" ry="5.0" fill="#1448c0" filter="url(#btAa)"/><ellipse cx="44.3" cy="45.3" rx="5.7" ry="4.1" fill="#1c2290" filter="url(#btAa)"/><ellipse cx="44.3" cy="45.3" rx="3" ry="2.2" fill="#3a3aa0" opacity="0.6" filter="url(#btAa)"/><rect x="0.4" y="0.4" width="91.2" height="91.2" fill="none" stroke="#30f0e0" stroke-width="0.8" opacity="0.8"/></g><line x1="44.3" y1="0" x2="44.3" y2="92" stroke="#c03cc0" stroke-width="1" opacity="0.55"/><line x1="0" y1="45.3" x2="92" y2="45.3" stroke="#10e0f0" stroke-width="1" opacity="0.6"/></g>
<g transform="translate(206,33)"><defs><clipPath id="cpAb"><rect width="92" height="92"/></clipPath><filter id="blAb" x="-5%" y="-5%" width="110%" height="110%"><feGaussianBlur stdDeviation="1.6"/></filter><filter id="bsAb" x="-50%" y="-50%" width="200%" height="200%"><feGaussianBlur stdDeviation="1.1"/></filter><filter id="btAb" x="-50%" y="-50%" width="200%" height="200%"><feGaussianBlur stdDeviation="0.6"/></filter></defs><g clip-path="url(#cpAb)"><g filter="url(#blAb)" shape-rendering="crispEdges"><rect x="-3" y="-3" width="6" height="3" fill="#0ca"/><rect x="3" y="-3" width="6" height="3" fill="#0c9"/><rect x="9" y="-3" width="3" height="3" fill="#0d8"/><rect x="12" y="-3" width="6" height="3" fill="#0d7"/><rect x="18" y="-3" width="9" height="3" fill="#0d6"/><rect x="27" y="-3" width="18" height="3" fill="#0d5"/><rect x="45" y="-3" width="6" height="3" fill="#0d6"/><rect x="51" y="-3" width="3" height="3" fill="#0d7"/><rect x="54" y="-3" width="3" height="3" fill="#0d8"/><rect x="57" y="-3" width="3" height="3" fill="#0ca"/><rect x="60" y="-3" width="3" height="3" fill="#0cb"/><rect x="63" y="-3" width="3" height="3" fill="#0bc"/><rect x="66" y="-3" width="3" height="3" fill="#1ad"/><rect x="69" y="-3" width="3" height="3" fill="#18d"/><rect x="72" y="-3" width="3" height="3" fill="#17c"/><rect x="75" y="-3" width="3" height="3" fill="#15c"/><rect x="78" y="-3" width="3" height="3" fill="#14b"/><rect x="81" y="-3" width="6" height="3" fill="#13a"/><rect x="87" y="-3" width="9" height="3" fill="#129"/><rect x="-3" y="0" width="3" height="3" fill="#0ca"/><rect x="0" y="0" width="3" height="3" fill="#0c9"/><rect x="3" y="0" width="6" height="3" fill="#0d8"/><rect x="9" y="0" width="3" height="3" fill="#0d7"/><rect x="12" y="0" width="6" height="3" fill="#0d6"/><rect x="18" y="0" width="6" height="3" fill="#0d5"/><rect x="24" y="0" width="3" height="3" fill="#0e5"/><rect x="27" y="0" width="18" height="3" fill="#0e4"/><rect x="45" y="0" width="3" height="3" fill="#0e5"/><rect x="48" y="0" width="3" height="3" fill="#0d5"/><rect x="51" y="0" width="3" height="3" fill="#0d6"/><rect x="54" y="0" width="3" height="3" fill="#0d7"/><rect x="57" y="0" width="3" height="3" fill="#0d8"/><rect x="60" y="0" width="3" height="3" fill="#0ca"/><rect x="63" y="0" width="3" height="3" fill="#0bb"/><rect x="66" y="0" width="3" height="3" fill="#0bd"/><rect x="69" y="0" width="3" height="3" fill="#19d"/><rect x="72" y="0" width="3" height="3" fill="#17d"/><rect x="75" y="0" width="3" height="3" fill="#16c"/><rect x="78" y="0" width="3" height="3" fill="#15c"/><rect x="81" y="0" width="3" height="3" fill="#14b"/><rect x="84" y="0" width="3" height="3" fill="#13a"/><rect x="87" y="0" width="9" height="3" fill="#129"/><rect x="-3" y="3" width="3" height="3" fill="#0c9"/><rect x="0" y="3" width="6" height="3" fill="#0d8"/><rect x="6" y="3" width="3" height="3" fill="#0d7"/><rect x="9" y="3" width="3" height="3" fill="#0d6"/><rect x="12" y="3" width="6" height="3" fill="#0d5"/><rect x="18" y="3" width="9" height="3" fill="#0e4"/><rect x="27" y="3" width="21" height="3" fill="#0e3"/><rect x="48" y="3" width="3" height="3" fill="#0e4"/><rect x="51" y="3" width="3" height="3" fill="#0e5"/><rect x="54" y="3" width="3" height="3" fill="#0d5"/><rect x="57" y="3" width="3" height="3" fill="#0d6"/><rect x="60" y="3" width="3" height="3" fill="#0d8"/><rect x="63" y="3" width="3" height="3" fill="#0c9"/><rect x="66" y="3" width="3" height="3" fill="#0cb"/><rect x="69" y="3" width="3" height="3" fill="#0bc"/><rect x="72" y="3" width="3" height="3" fill="#19d"/><rect x="75" y="3" width="3" height="3" fill="#17d"/><rect x="78" y="3" width="3" height="3" fill="#15c"/><rect x="81" y="3" width="3" height="3" fill="#14b"/><rect x="84" y="3" width="3" height="3" fill="#13b"/><rect x="87" y="3" width="3" height="3" fill="#13a"/><rect x="90" y="3" width="6" height="3" fill="#129"/><rect x="-3" y="6" width="3" height="3" fill="#0c9"/><rect x="0" y="6" width="3" height="3" fill="#0d8"/><rect x="3" y="6" width="3" height="3" fill="#0d7"/><rect x="6" y="6" width="3" height="3" fill="#0d6"/><rect x="9" y="6" width="3" height="3" fill="#0d5"/><rect x="12" y="6" width="3" height="3" fill="#0e5"/><rect x="15" y="6" width="6" height="3" fill="#0e4"/><rect x="21" y="6" width="6" height="3" fill="#0e3"/><rect x="27" y="6" width="21" height="3" fill="#0e2"/><rect x="48" y="6" width="6" height="3" fill="#0e3"/><rect x="54" y="6" width="3" height="3" fill="#0e4"/><rect x="57" y="6" width="3" height="3" fill="#0e5"/><rect x="60" y="6" width="3" height="3" fill="#0d5"/><rect x="63" y="6" width="3" height="3" fill="#0d7"/><rect x="66" y="6" width="3" height="3" fill="#0d9"/><rect x="69" y="6" width="3" height="3" fill="#0ca"/><rect x="72" y="6" width="3" height="3" fill="#0bc"/><rect x="75" y="6" width="3" height="3" fill="#1ad"/><rect x="78" y="6" width="3" height="3" fill="#17d"/><rect x="81" y="6" width="3" height="3" fill="#15c"/><rect x="84" y="6" width="6" height="3" fill="#14b"/><rect x="90" y="6" width="6" height="3" fill="#13a"/><rect x="-3" y="9" width="3" height="3" fill="#0d8"/><rect x="0" y="9" width="3" height="3" fill="#0d7"/><rect x="3" y="9" width="3" height="3" fill="#0d6"/><rect x="6" y="9" width="3" height="3" fill="#0d5"/><rect x="9" y="9" width="6" height="3" fill="#0e4"/><rect x="15" y="9" width="6" height="3" fill="#0e3"/><rect x="21" y="9" width="6" height="3" fill="#0e2"/><rect x="27" y="9" width="9" height="3" fill="#1e2"/><rect x="36" y="9" width="9" height="3" fill="#2e2"/><rect x="45" y="9" width="9" height="3" fill="#1e2"/><rect x="54" y="9" width="3" height="3" fill="#0e2"/><rect x="57" y="9" width="3" height="3" fill="#0e3"/><rect x="60" y="9" width="3" height="3" fill="#0e4"/><rect x="63" y="9" width="3" height="3" fill="#0e5"/><rect x="66" y="9" width="3" height="3" fill="#0d6"/><rect x="69" y="9" width="3" height="3" fill="#0d8"/><rect x="72" y="9" width="3" height="3" fill="#0ca"/><rect x="75" y="9" width="3" height="3" fill="#0bc"/><rect x="78" y="9" width="3" height="3" fill="#19d"/><rect x="81" y="9" width="3" height="3" fill="#17d"/><rect x="84" y="9" width="3" height="3" fill="#15c"/><rect x="87" y="9" width="9" height="3" fill="#14b"/><rect x="-3" y="12" width="3" height="3" fill="#0d7"/><rect x="0" y="12" width="3" height="3" fill="#0d6"/><rect x="3" y="12" width="3" height="3" fill="#0d5"/><rect x="6" y="12" width="6" height="3" fill="#0e4"/><rect x="12" y="12" width="3" height="3" fill="#0e3"/><rect x="15" y="12" width="6" height="3" fill="#0e2"/><rect x="21" y="12" width="6" height="3" fill="#1e2"/><rect x="27" y="12" width="6" height="3" fill="#2e1"/><rect x="33" y="12" width="6" height="3" fill="#3e1"/><rect x="39" y="12" width="9" height="3" fill="#4e0"/><rect x="48" y="12" width="3" height="3" fill="#4e1"/><rect x="51" y="12" width="3" height="3" fill="#3e1"/><rect x="54" y="12" width="3" height="3" fill="#2e1"/><rect x="57" y="12" width="3" height="3" fill="#1e2"/><rect x="60" y="12" width="3" height="3" fill="#0e2"/><rect x="63" y="12" width="3" height="3" fill="#0e3"/><rect x="66" y="12" width="3" height="3" fill="#0e4"/><rect x="69" y="12" width="3" height="3" fill="#0d6"/><rect x="72" y="12" width="3" height="3" fill="#0d8"/><rect x="75" y="12" width="3" height="3" fill="#0ca"/><rect x="78" y="12" width="3" height="3" fill="#0bc"/><rect x="81" y="12" width="3" height="3" fill="#19d"/><rect x="84" y="12" width="3" height="3" fill="#17d"/><rect x="87" y="12" width="6" height="3" fill="#15c"/><rect x="93" y="12" width="3" height="3" fill="#14b"/><rect x="-3" y="15" width="3" height="3" fill="#0d6"/><rect x="0" y="15" width="3" height="3" fill="#0d5"/><rect x="3" y="15" width="3" height="3" fill="#0e5"/><rect x="6" y="15" width="3" height="3" fill="#0e4"/><rect x="9" y="15" width="3" height="3" fill="#0e3"/><rect x="12" y="15" width="3" height="3" fill="#0e2"/><rect x="15" y="15" width="6" height="3" fill="#1e2"/><rect x="21" y="15" width="6" height="3" fill="#2e1"/><rect x="27" y="15" width="3" height="3" fill="#3e1"/><rect x="30" y="15" width="3" height="3" fill="#4e0"/><rect x="33" y="15" width="3" height="3" fill="#5e0"/><rect x="36" y="15" width="3" height="3" fill="#6e0"/><rect x="39" y="15" width="12" height="3" fill="#7e0"/><rect x="51" y="15" width="3" height="3" fill="#6e0"/><rect x="54" y="15" width="3" height="3" fill="#5e0"/><rect x="57" y="15" width="3" height="3" fill="#4e0"/><rect x="60" y="15" width="3" height="3" fill="#2e1"/><rect x="63" y="15" width="3" height="3" fill="#1e2"/><rect x="66" y="15" width="3" height="3" fill="#0e3"/><rect x="69" y="15" width="3" height="3" fill="#0e4"/><rect x="72" y="15" width="3" height="3" fill="#0d6"/><rect x="75" y="15" width="3" height="3" fill="#0d8"/><rect x="78" y="15" width="3" height="3" fill="#0cb"/><rect x="81" y="15" width="3" height="3" fill="#0bd"/><rect x="84" y="15" width="3" height="3" fill="#18d"/><rect x="87" y="15" width="3" height="3" fill="#17d"/><rect x="90" y="15" width="3" height="3" fill="#16c"/><rect x="93" y="15" width="3" height="3" fill="#15c"/><rect x="-3" y="18" width="3" height="3" fill="#0d6"/><rect x="0" y="18" width="3" height="3" fill="#0d5"/><rect x="3" y="18" width="3" height="3" fill="#0e4"/><rect x="6" y="18" width="3" height="3" fill="#0e3"/><rect x="9" y="18" width="3" height="3" fill="#0e2"/><rect x="12" y="18" width="3" height="3" fill="#1e2"/><rect x="15" y="18" width="3" height="3" fill="#2e2"/><rect x="18" y="18" width="3" height="3" fill="#2e1"/><rect x="21" y="18" width="3" height="3" fill="#3e1"/><rect x="24" y="18" width="3" height="3" fill="#4e0"/><rect x="27" y="18" width="3" height="3" fill="#6e0"/><rect x="30" y="18" width="3" height="3" fill="#7e0"/><rect x="33" y="18" width="3" height="3" fill="#8e0"/><rect x="36" y="18" width="6" height="3" fill="#ae0"/><rect x="42" y="18" width="6" height="3" fill="#be0"/><rect x="48" y="18" width="6" height="3" fill="#ae0"/><rect x="54" y="18" width="3" height="3" fill="#8e0"/><rect x="57" y="18" width="3" height="3" fill="#7e0"/><rect x="60" y="18" width="3" height="3" fill="#5e0"/><rect x="63" y="18" width="3" height="3" fill="#3e1"/><rect x="66" y="18" width="3" height="3" fill="#1e2"/><rect x="69" y="18" width="3" height="3" fill="#0e3"/><rect x="72" y="18" width="3" height="3" fill="#0e5"/><rect x="75" y="18" width="3" height="3" fill="#0d6"/><rect x="78" y="18" width="3" height="3" fill="#0c9"/><rect x="81" y="18" width="3" height="3" fill="#0bb"/><rect x="84" y="18" width="3" height="3" fill="#0ad"/><rect x="87" y="18" width="3" height="3" fill="#18d"/><rect x="90" y="18" width="3" height="3" fill="#17d"/><rect x="93" y="18" width="3" height="3" fill="#16c"/><rect x="-3" y="21" width="3" height="3" fill="#0d5"/><rect x="0" y="21" width="3" height="3" fill="#0e4"/><rect x="3" y="21" width="3" height="3" fill="#0e3"/><rect x="6" y="21" width="3" height="3" fill="#0e2"/><rect x="9" y="21" width="3" height="3" fill="#1e2"/><rect x="12" y="21" width="3" height="3" fill="#2e2"/><rect x="15" y="21" width="3" height="3" fill="#2e1"/><rect x="18" y="21" width="3" height="3" fill="#3e1"/><rect x="21" y="21" width="3" height="3" fill="#5e0"/><rect x="24" y="21" width="3" height="3" fill="#7e0"/><rect x="27" y="21" width="3" height="3" fill="#8e0"/><rect x="30" y="21" width="3" height="3" fill="#ae0"/><rect x="33" y="21" width="3" height="3" fill="#be0"/><rect x="36" y="21" width="3" height="3" fill="#ce0"/><rect x="39" y="21" width="12" height="3" fill="#df0"/><rect x="51" y="21" width="3" height="3" fill="#ce0"/><rect x="54" y="21" width="3" height="3" fill="#be0"/><rect x="57" y="21" width="3" height="3" fill="#ae0"/><rect x="60" y="21" width="3" height="3" fill="#8e0"/><rect x="63" y="21" width="3" height="3" fill="#5e0"/><rect x="66" y="21" width="3" height="3" fill="#3e1"/><rect x="69" y="21" width="3" height="3" fill="#1e2"/><rect x="72" y="21" width="3" height="3" fill="#0e3"/><rect x="75" y="21" width="3" height="3" fill="#0d5"/><rect x="78" y="21" width="3" height="3" fill="#0d7"/><rect x="81" y="21" width="3" height="3" fill="#0ca"/><rect x="84" y="21" width="3" height="3" fill="#0bc"/><rect x="87" y="21" width="3" height="3" fill="#1ad"/><rect x="90" y="21" width="3" height="3" fill="#18d"/><rect x="93" y="21" width="3" height="3" fill="#17d"/><rect x="-3" y="24" width="3" height="3" fill="#0d5"/><rect x="0" y="24" width="3" height="3" fill="#0e4"/><rect x="3" y="24" width="3" height="3" fill="#0e3"/><rect x="6" y="24" width="6" height="3" fill="#1e2"/><rect x="12" y="24" width="3" height="3" fill="#2e1"/><rect x="15" y="24" width="3" height="3" fill="#3e1"/><rect x="18" y="24" width="3" height="3" fill="#5e0"/><rect x="21" y="24" width="3" height="3" fill="#7e0"/><rect x="24" y="24" width="3" height="3" fill="#9e0"/><rect x="27" y="24" width="3" height="3" fill="#be0"/><rect x="30" y="24" width="6" height="3" fill="#df0"/><rect x="36" y="24" width="18" height="3" fill="#ef0"/><rect x="54" y="24" width="3" height="3" fill="#df0"/><rect x="57" y="24" width="3" height="3" fill="#ce0"/><rect x="60" y="24" width="3" height="3" fill="#be0"/><rect x="63" y="24" width="3" height="3" fill="#8e0"/><rect x="66" y="24" width="3" height="3" fill="#5e0"/><rect x="69" y="24" width="3" height="3" fill="#3e1"/><rect x="72" y="24" width="3" height="3" fill="#0e2"/><rect x="75" y="24" width="3" height="3" fill="#0e4"/><rect x="78" y="24" width="3" height="3" fill="#0d6"/><rect x="81" y="24" width="3" height="3" fill="#0c9"/><rect x="84" y="24" width="3" height="3" fill="#0bb"/><rect x="87" y="24" width="3" height="3" fill="#0bd"/><rect x="90" y="24" width="3" height="3" fill="#19d"/><rect x="93" y="24" width="3" height="3" fill="#18d"/><rect x="-3" y="27" width="3" height="3" fill="#0e4"/><rect x="0" y="27" width="3" height="3" fill="#0e3"/><rect x="3" y="27" width="3" height="3" fill="#0e2"/><rect x="6" y="27" width="3" height="3" fill="#1e2"/><rect x="9" y="27" width="3" height="3" fill="#2e1"/><rect x="12" y="27" width="3" height="3" fill="#3e1"/><rect x="15" y="27" width="3" height="3" fill="#4e0"/><rect x="18" y="27" width="3" height="3" fill="#7e0"/><rect x="21" y="27" width="3" height="3" fill="#9e0"/><rect x="24" y="27" width="3" height="3" fill="#be0"/><rect x="27" y="27" width="3" height="3" fill="#df0"/><rect x="30" y="27" width="30" height="3" fill="#ef0"/><rect x="60" y="27" width="3" height="3" fill="#df0"/><rect x="63" y="27" width="3" height="3" fill="#be0"/><rect x="66" y="27" width="3" height="3" fill="#8e0"/><rect x="69" y="27" width="3" height="3" fill="#5e0"/><rect x="72" y="27" width="3" height="3" fill="#2e1"/><rect x="75" y="27" width="3" height="3" fill="#0e3"/><rect x="78" y="27" width="3" height="3" fill="#0d5"/><rect x="81" y="27" width="3" height="3" fill="#0d8"/><rect x="84" y="27" width="3" height="3" fill="#0cb"/><rect x="87" y="27" width="3" height="3" fill="#0bc"/><rect x="90" y="27" width="3" height="3" fill="#1ad"/><rect x="93" y="27" width="3" height="3" fill="#19d"/><rect x="-3" y="30" width="3" height="3" fill="#0e4"/><rect x="0" y="30" width="3" height="3" fill="#0e3"/><rect x="3" y="30" width="3" height="3" fill="#0e2"/><rect x="6" y="30" width="3" height="3" fill="#2e2"/><rect x="9" y="30" width="3" height="3" fill="#3e1"/><rect x="12" y="30" width="3" height="3" fill="#4e1"/><rect x="15" y="30" width="3" height="3" fill="#6e0"/><rect x="18" y="30" width="3" height="3" fill="#9e0"/><rect x="21" y="30" width="3" height="3" fill="#be0"/><rect x="24" y="30" width="3" height="3" fill="#df0"/><rect x="27" y="30" width="12" height="3" fill="#ef0"/><rect x="39" y="30" width="15" height="3" fill="#df0"/><rect x="54" y="30" width="9" height="3" fill="#ef0"/><rect x="63" y="30" width="3" height="3" fill="#cf0"/><rect x="66" y="30" width="3" height="3" fill="#ae0"/><rect x="69" y="30" width="3" height="3" fill="#7e0"/><rect x="72" y="30" width="3" height="3" fill="#3e1"/><rect x="75" y="30" width="3" height="3" fill="#0e2"/><rect x="78" y="30" width="3" height="3" fill="#0d5"/><rect x="81" y="30" width="3" height="3" fill="#0d7"/><rect x="84" y="30" width="3" height="3" fill="#0ca"/><rect x="87" y="30" width="3" height="3" fill="#0bc"/><rect x="90" y="30" width="3" height="3" fill="#0ad"/><rect x="93" y="30" width="3" height="3" fill="#1ad"/><rect x="-3" y="33" width="3" height="3" fill="#0e4"/><rect x="0" y="33" width="3" height="3" fill="#0e3"/><rect x="3" y="33" width="3" height="3" fill="#1e2"/><rect x="6" y="33" width="3" height="3" fill="#2e1"/><rect x="9" y="33" width="3" height="3" fill="#3e1"/><rect x="12" y="33" width="3" height="3" fill="#5e0"/><rect x="15" y="33" width="3" height="3" fill="#7e0"/><rect x="18" y="33" width="3" height="3" fill="#ae0"/><rect x="21" y="33" width="3" height="3" fill="#df0"/><rect x="24" y="33" width="12" height="3" fill="#ef0"/><rect x="36" y="33" width="3" height="3" fill="#df0"/><rect x="39" y="33" width="3" height="3" fill="#9e0"/><rect x="42" y="33" width="3" height="3" fill="#6e0"/><rect x="45" y="33" width="3" height="3" fill="#5e0"/><rect x="48" y="33" width="3" height="3" fill="#7e0"/><rect x="51" y="33" width="3" height="3" fill="#be0"/><rect x="54" y="33" width="3" height="3" fill="#df0"/><rect x="57" y="33" width="6" height="3" fill="#ef0"/><rect x="63" y="33" width="3" height="3" fill="#df0"/><rect x="66" y="33" width="3" height="3" fill="#ce0"/><rect x="69" y="33" width="3" height="3" fill="#8e0"/><rect x="72" y="33" width="3" height="3" fill="#4e0"/><rect x="75" y="33" width="3" height="3" fill="#1e2"/><rect x="78" y="33" width="3" height="3" fill="#0e4"/><rect x="81" y="33" width="3" height="3" fill="#0d7"/><rect x="84" y="33" width="3" height="3" fill="#0ca"/><rect x="87" y="33" width="3" height="3" fill="#0bb"/><rect x="90" y="33" width="3" height="3" fill="#0bd"/><rect x="93" y="33" width="3" height="3" fill="#1ad"/><rect x="-3" y="36" width="3" height="3" fill="#0e4"/><rect x="0" y="36" width="3" height="3" fill="#0e2"/><rect x="3" y="36" width="3" height="3" fill="#1e2"/><rect x="6" y="36" width="3" height="3" fill="#2e1"/><rect x="9" y="36" width="3" height="3" fill="#4e1"/><rect x="12" y="36" width="3" height="3" fill="#6e0"/><rect x="15" y="36" width="3" height="3" fill="#9e0"/><rect x="18" y="36" width="3" height="3" fill="#be0"/><rect x="21" y="36" width="12" height="3" fill="#ef0"/><rect x="33" y="36" width="3" height="3" fill="#df0"/><rect x="36" y="36" width="3" height="3" fill="#7e0"/><rect x="39" y="36" width="3" height="3" fill="#2e1"/><rect x="42" y="36" width="3" height="3" fill="#0e2"/><rect x="45" y="36" width="3" height="3" fill="#0e3"/><rect x="48" y="36" width="3" height="3" fill="#0e2"/><rect x="51" y="36" width="3" height="3" fill="#3e1"/><rect x="54" y="36" width="3" height="3" fill="#ae0"/><rect x="57" y="36" width="3" height="3" fill="#df0"/><rect x="60" y="36" width="6" height="3" fill="#ef0"/><rect x="66" y="36" width="3" height="3" fill="#cf0"/><rect x="69" y="36" width="3" height="3" fill="#ae0"/><rect x="72" y="36" width="3" height="3" fill="#5e0"/><rect x="75" y="36" width="3" height="3" fill="#2e1"/><rect x="78" y="36" width="3" height="3" fill="#0e4"/><rect x="81" y="36" width="3" height="3" fill="#0d6"/><rect x="84" y="36" width="3" height="3" fill="#0c9"/><rect x="87" y="36" width="3" height="3" fill="#0bb"/><rect x="90" y="36" width="3" height="3" fill="#0bd"/><rect x="93" y="36" width="3" height="3" fill="#0ad"/><rect x="-3" y="39" width="3" height="3" fill="#0e3"/><rect x="0" y="39" width="3" height="3" fill="#0e2"/><rect x="3" y="39" width="3" height="3" fill="#1e2"/><rect x="6" y="39" width="3" height="3" fill="#3e1"/><rect x="9" y="39" width="3" height="3" fill="#4e0"/><rect x="12" y="39" width="3" height="3" fill="#6e0"/><rect x="15" y="39" width="3" height="3" fill="#ae0"/><rect x="18" y="39" width="3" height="3" fill="#ce0"/><rect x="21" y="39" width="12" height="3" fill="#ef0"/><rect x="33" y="39" width="3" height="3" fill="#ae0"/><rect x="36" y="39" width="3" height="3" fill="#2e1"/><rect x="39" y="39" width="3" height="3" fill="#0d5"/><rect x="42" y="39" width="3" height="3" fill="#17d"/><rect x="45" y="39" width="3" height="3" fill="#15c"/><rect x="48" y="39" width="3" height="3" fill="#0bc"/><rect x="51" y="39" width="3" height="3" fill="#0e2"/><rect x="54" y="39" width="3" height="3" fill="#4e0"/><rect x="57" y="39" width="3" height="3" fill="#ce0"/><rect x="60" y="39" width="6" height="3" fill="#ef0"/><rect x="66" y="39" width="3" height="3" fill="#df0"/><rect x="69" y="39" width="3" height="3" fill="#be0"/><rect x="72" y="39" width="3" height="3" fill="#6e0"/><rect x="75" y="39" width="3" height="3" fill="#3e1"/><rect x="78" y="39" width="3" height="3" fill="#0e3"/><rect x="81" y="39" width="3" height="3" fill="#0d6"/><rect x="84" y="39" width="3" height="3" fill="#0c9"/><rect x="87" y="39" width="3" height="3" fill="#0cb"/><rect x="90" y="39" width="3" height="3" fill="#0bc"/><rect x="93" y="39" width="3" height="3" fill="#0ad"/><rect x="-3" y="42" width="3" height="3" fill="#0e3"/><rect x="0" y="42" width="3" height="3" fill="#0e2"/><rect x="3" y="42" width="3" height="3" fill="#2e2"/><rect x="6" y="42" width="3" height="3" fill="#3e1"/><rect x="9" y="42" width="3" height="3" fill="#4e0"/><rect x="12" y="42" width="3" height="3" fill="#7e0"/><rect x="15" y="42" width="3" height="3" fill="#ae0"/><rect x="18" y="42" width="3" height="3" fill="#df0"/><rect x="21" y="42" width="12" height="3" fill="#ef0"/><rect x="33" y="42" width="3" height="3" fill="#7e0"/><rect x="36" y="42" width="3" height="3" fill="#1e2"/><rect x="39" y="42" width="3" height="3" fill="#17d"/><rect x="42" y="42" width="6" height="3" fill="#13a"/><rect x="48" y="42" width="3" height="3" fill="#14b"/><rect x="51" y="42" width="3" height="3" fill="#0d7"/><rect x="54" y="42" width="3" height="3" fill="#2e2"/><rect x="57" y="42" width="3" height="3" fill="#ae0"/><rect x="60" y="42" width="3" height="3" fill="#df0"/><rect x="63" y="42" width="3" height="3" fill="#ef0"/><rect x="66" y="42" width="3" height="3" fill="#df0"/><rect x="69" y="42" width="3" height="3" fill="#be0"/><rect x="72" y="42" width="3" height="3" fill="#7e0"/><rect x="75" y="42" width="3" height="3" fill="#3e1"/><rect x="78" y="42" width="3" height="3" fill="#0e3"/><rect x="81" y="42" width="3" height="3" fill="#0d6"/><rect x="84" y="42" width="3" height="3" fill="#0c9"/><rect x="87" y="42" width="3" height="3" fill="#0cb"/><rect x="90" y="42" width="3" height="3" fill="#0bc"/><rect x="93" y="42" width="3" height="3" fill="#0ad"/><rect x="-3" y="45" width="3" height="3" fill="#0e3"/><rect x="0" y="45" width="3" height="3" fill="#0e2"/><rect x="3" y="45" width="3" height="3" fill="#2e1"/><rect x="6" y="45" width="3" height="3" fill="#3e1"/><rect x="9" y="45" width="3" height="3" fill="#4e0"/><rect x="12" y="45" width="3" height="3" fill="#7e0"/><rect x="15" y="45" width="3" height="3" fill="#ae0"/><rect x="18" y="45" width="3" height="3" fill="#df0"/><rect x="21" y="45" width="12" height="3" fill="#ef0"/><rect x="33" y="45" width="3" height="3" fill="#7e0"/><rect x="36" y="45" width="3" height="3" fill="#1e2"/><rect x="39" y="45" width="3" height="3" fill="#16c"/><rect x="42" y="45" width="3" height="3" fill="#13a"/><rect x="45" y="45" width="3" height="3" fill="#129"/><rect x="48" y="45" width="3" height="3" fill="#13a"/><rect x="51" y="45" width="3" height="3" fill="#0c9"/><rect x="54" y="45" width="3" height="3" fill="#1e2"/><rect x="57" y="45" width="3" height="3" fill="#ae0"/><rect x="60" y="45" width="3" height="3" fill="#df0"/><rect x="63" y="45" width="3" height="3" fill="#ef0"/><rect x="66" y="45" width="3" height="3" fill="#df0"/><rect x="69" y="45" width="3" height="3" fill="#be0"/><rect x="72" y="45" width="3" height="3" fill="#7e0"/><rect x="75" y="45" width="3" height="3" fill="#3e1"/><rect x="78" y="45" width="3" height="3" fill="#0e3"/><rect x="81" y="45" width="3" height="3" fill="#0d6"/><rect x="84" y="45" width="3" height="3" fill="#0c9"/><rect x="87" y="45" width="3" height="3" fill="#0cb"/><rect x="90" y="45" width="3" height="3" fill="#0bc"/><rect x="93" y="45" width="3" height="3" fill="#0ad"/><rect x="-3" y="48" width="3" height="3" fill="#0e3"/><rect x="0" y="48" width="3" height="3" fill="#0e2"/><rect x="3" y="48" width="3" height="3" fill="#2e1"/><rect x="6" y="48" width="3" height="3" fill="#3e1"/><rect x="9" y="48" width="3" height="3" fill="#4e0"/><rect x="12" y="48" width="3" height="3" fill="#7e0"/><rect x="15" y="48" width="3" height="3" fill="#ae0"/><rect x="18" y="48" width="3" height="3" fill="#df0"/><rect x="21" y="48" width="12" height="3" fill="#ef0"/><rect x="33" y="48" width="3" height="3" fill="#9e0"/><rect x="36" y="48" width="3" height="3" fill="#2e2"/><rect x="39" y="48" width="3" height="3" fill="#0bb"/><rect x="42" y="48" width="3" height="3" fill="#14b"/><rect x="45" y="48" width="3" height="3" fill="#13a"/><rect x="48" y="48" width="3" height="3" fill="#16c"/><rect x="51" y="48" width="3" height="3" fill="#0e4"/><rect x="54" y="48" width="3" height="3" fill="#3e1"/><rect x="57" y="48" width="3" height="3" fill="#be0"/><rect x="60" y="48" width="3" height="3" fill="#df0"/><rect x="63" y="48" width="3" height="3" fill="#ef0"/><rect x="66" y="48" width="3" height="3" fill="#df0"/><rect x="69" y="48" width="3" height="3" fill="#be0"/><rect x="72" y="48" width="3" height="3" fill="#7e0"/><rect x="75" y="48" width="3" height="3" fill="#3e1"/><rect x="78" y="48" width="3" height="3" fill="#0e3"/><rect x="81" y="48" width="3" height="3" fill="#0d6"/><rect x="84" y="48" width="3" height="3" fill="#0c9"/><rect x="87" y="48" width="3" height="3" fill="#0cb"/><rect x="90" y="48" width="3" height="3" fill="#0bc"/><rect x="93" y="48" width="3" height="3" fill="#0ad"/><rect x="-3" y="51" width="3" height="3" fill="#0e3"/><rect x="0" y="51" width="3" height="3" fill="#0e2"/><rect x="3" y="51" width="3" height="3" fill="#2e2"/><rect x="6" y="51" width="3" height="3" fill="#3e1"/><rect x="9" y="51" width="3" height="3" fill="#4e0"/><rect x="12" y="51" width="3" height="3" fill="#7e0"/><rect x="15" y="51" width="3" height="3" fill="#ae0"/><rect x="18" y="51" width="3" height="3" fill="#ce0"/><rect x="21" y="51" width="6" height="3" fill="#ef0"/><rect x="27" y="51" width="3" height="3" fill="#ff0"/><rect x="30" y="51" width="3" height="3" fill="#ef0"/><rect x="33" y="51" width="3" height="3" fill="#ce0"/><rect x="36" y="51" width="3" height="3" fill="#5e0"/><rect x="39" y="51" width="3" height="3" fill="#1e2"/><rect x="42" y="51" width="3" height="3" fill="#0d6"/><rect x="45" y="51" width="3" height="3" fill="#0d8"/><rect x="48" y="51" width="3" height="3" fill="#0e4"/><rect x="51" y="51" width="3" height="3" fill="#1e2"/><rect x="54" y="51" width="3" height="3" fill="#7e0"/><rect x="57" y="51" width="3" height="3" fill="#df0"/><rect x="60" y="51" width="6" height="3" fill="#ef0"/><rect x="66" y="51" width="3" height="3" fill="#df0"/><rect x="69" y="51" width="3" height="3" fill="#ae0"/><rect x="72" y="51" width="3" height="3" fill="#6e0"/><rect x="75" y="51" width="3" height="3" fill="#2e1"/><rect x="78" y="51" width="3" height="3" fill="#0e4"/><rect x="81" y="51" width="3" height="3" fill="#0d6"/><rect x="84" y="51" width="3" height="3" fill="#0c9"/><rect x="87" y="51" width="3" height="3" fill="#0cb"/><rect x="90" y="51" width="3" height="3" fill="#0bc"/><rect x="93" y="51" width="3" height="3" fill="#0ad"/><rect x="-3" y="54" width="3" height="3" fill="#0e3"/><rect x="0" y="54" width="3" height="3" fill="#0e2"/><rect x="3" y="54" width="3" height="3" fill="#1e2"/><rect x="6" y="54" width="3" height="3" fill="#3e1"/><rect x="9" y="54" width="3" height="3" fill="#4e0"/><rect x="12" y="54" width="3" height="3" fill="#6e0"/><rect x="15" y="54" width="3" height="3" fill="#9e0"/><rect x="18" y="54" width="3" height="3" fill="#ce0"/><rect x="21" y="54" width="15" height="3" fill="#ef0"/><rect x="36" y="54" width="3" height="3" fill="#be0"/><rect x="39" y="54" width="3" height="3" fill="#6e0"/><rect x="42" y="54" width="6" height="3" fill="#2e1"/><rect x="48" y="54" width="3" height="3" fill="#3e1"/><rect x="51" y="54" width="3" height="3" fill="#8e0"/><rect x="54" y="54" width="3" height="3" fill="#ce0"/><rect x="57" y="54" width="3" height="3" fill="#df0"/><rect x="60" y="54" width="6" height="3" fill="#ef0"/><rect x="66" y="54" width="3" height="3" fill="#ce0"/><rect x="69" y="54" width="3" height="3" fill="#9e0"/><rect x="72" y="54" width="3" height="3" fill="#5e0"/><rect x="75" y="54" width="3" height="3" fill="#2e1"/><rect x="78" y="54" width="3" height="3" fill="#0e4"/><rect x="81" y="54" width="3" height="3" fill="#0d6"/><rect x="84" y="54" width="3" height="3" fill="#0c9"/><rect x="87" y="54" width="3" height="3" fill="#0cb"/><rect x="90" y="54" width="3" height="3" fill="#0bc"/><rect x="93" y="54" width="3" height="3" fill="#0ad"/><rect x="-3" y="57" width="3" height="3" fill="#0e4"/><rect x="0" y="57" width="3" height="3" fill="#0e2"/><rect x="3" y="57" width="3" height="3" fill="#1e2"/><rect x="6" y="57" width="3" height="3" fill="#2e1"/><rect x="9" y="57" width="3" height="3" fill="#4e1"/><rect x="12" y="57" width="3" height="3" fill="#5e0"/><rect x="15" y="57" width="3" height="3" fill="#8e0"/><rect x="18" y="57" width="3" height="3" fill="#be0"/><rect x="21" y="57" width="3" height="3" fill="#df0"/><rect x="24" y="57" width="6" height="3" fill="#ef0"/><rect x="30" y="57" width="3" height="3" fill="#ff0"/><rect x="33" y="57" width="6" height="3" fill="#ef0"/><rect x="39" y="57" width="3" height="3" fill="#df0"/><rect x="42" y="57" width="6" height="3" fill="#be0"/><rect x="48" y="57" width="3" height="3" fill="#ce0"/><rect x="51" y="57" width="3" height="3" fill="#df0"/><rect x="54" y="57" width="9" height="3" fill="#ef0"/><rect x="63" y="57" width="3" height="3" fill="#df0"/><rect x="66" y="57" width="3" height="3" fill="#be0"/><rect x="69" y="57" width="3" height="3" fill="#8e0"/><rect x="72" y="57" width="3" height="3" fill="#4e0"/><rect x="75" y="57" width="3" height="3" fill="#1e2"/><rect x="78" y="57" width="3" height="3" fill="#0e4"/><rect x="81" y="57" width="3" height="3" fill="#0d7"/><rect x="84" y="57" width="3" height="3" fill="#0c9"/><rect x="87" y="57" width="3" height="3" fill="#0bb"/><rect x="90" y="57" width="3" height="3" fill="#0bc"/><rect x="93" y="57" width="3" height="3" fill="#0ad"/><rect x="-3" y="60" width="3" height="3" fill="#0e3"/><rect x="0" y="60" width="3" height="3" fill="#0e2"/><rect x="3" y="60" width="3" height="3" fill="#2e2"/><rect x="6" y="60" width="3" height="3" fill="#2e1"/><rect x="9" y="60" width="3" height="3" fill="#3e1"/><rect x="12" y="60" width="3" height="3" fill="#4e0"/><rect x="15" y="60" width="3" height="3" fill="#6e0"/><rect x="18" y="60" width="3" height="3" fill="#9e0"/><rect x="21" y="60" width="3" height="3" fill="#be0"/><rect x="24" y="60" width="3" height="3" fill="#df0"/><rect x="27" y="60" width="33" height="3" fill="#ef0"/><rect x="60" y="60" width="3" height="3" fill="#df0"/><rect x="63" y="60" width="3" height="3" fill="#ce0"/><rect x="66" y="60" width="3" height="3" fill="#9e0"/><rect x="69" y="60" width="3" height="3" fill="#6e0"/><rect x="72" y="60" width="3" height="3" fill="#3e1"/><rect x="75" y="60" width="3" height="3" fill="#0e3"/><rect x="78" y="60" width="3" height="3" fill="#0e5"/><rect x="81" y="60" width="3" height="3" fill="#0d7"/><rect x="84" y="60" width="3" height="3" fill="#0ca"/><rect x="87" y="60" width="3" height="3" fill="#0bb"/><rect x="90" y="60" width="3" height="3" fill="#0bd"/><rect x="93" y="60" width="3" height="3" fill="#0ad"/><rect x="-3" y="63" width="3" height="3" fill="#0e2"/><rect x="0" y="63" width="3" height="3" fill="#2e1"/><rect x="3" y="63" width="9" height="3" fill="#3e1"/><rect x="12" y="63" width="3" height="3" fill="#4e0"/><rect x="15" y="63" width="3" height="3" fill="#5e0"/><rect x="18" y="63" width="3" height="3" fill="#7e0"/><rect x="21" y="63" width="3" height="3" fill="#ae0"/><rect x="24" y="63" width="3" height="3" fill="#ce0"/><rect x="27" y="63" width="3" height="3" fill="#df0"/><rect x="30" y="63" width="27" height="3" fill="#ef0"/><rect x="57" y="63" width="3" height="3" fill="#df0"/><rect x="60" y="63" width="3" height="3" fill="#ce0"/><rect x="63" y="63" width="3" height="3" fill="#ae0"/><rect x="66" y="63" width="3" height="3" fill="#7e0"/><rect x="69" y="63" width="3" height="3" fill="#4e0"/><rect x="72" y="63" width="3" height="3" fill="#1e2"/><rect x="75" y="63" width="3" height="3" fill="#0e3"/><rect x="78" y="63" width="3" height="3" fill="#0d5"/><rect x="81" y="63" width="3" height="3" fill="#0d7"/><rect x="84" y="63" width="3" height="3" fill="#0ca"/><rect x="87" y="63" width="3" height="3" fill="#0bc"/><rect x="90" y="63" width="3" height="3" fill="#0bd"/><rect x="93" y="63" width="3" height="3" fill="#1ad"/><rect x="-3" y="66" width="3" height="3" fill="#3e1"/><rect x="0" y="66" width="6" height="3" fill="#6e0"/><rect x="6" y="66" width="3" height="3" fill="#5e0"/><rect x="9" y="66" width="3" height="3" fill="#4e0"/><rect x="12" y="66" width="3" height="3" fill="#4e1"/><rect x="15" y="66" width="3" height="3" fill="#4e0"/><rect x="18" y="66" width="3" height="3" fill="#5e0"/><rect x="21" y="66" width="3" height="3" fill="#7e0"/><rect x="24" y="66" width="3" height="3" fill="#ae0"/><rect x="27" y="66" width="3" height="3" fill="#be0"/><rect x="30" y="66" width="3" height="3" fill="#cf0"/><rect x="33" y="66" width="3" height="3" fill="#df0"/><rect x="36" y="66" width="15" height="3" fill="#ef0"/><rect x="51" y="66" width="6" height="3" fill="#df0"/><rect x="57" y="66" width="3" height="3" fill="#ce0"/><rect x="60" y="66" width="3" height="3" fill="#ae0"/><rect x="63" y="66" width="3" height="3" fill="#7e0"/><rect x="66" y="66" width="3" height="3" fill="#5e0"/><rect x="69" y="66" width="3" height="3" fill="#2e1"/><rect x="72" y="66" width="3" height="3" fill="#0e2"/><rect x="75" y="66" width="3" height="3" fill="#0e4"/><rect x="78" y="66" width="3" height="3" fill="#0d6"/><rect x="81" y="66" width="3" height="3" fill="#0d8"/><rect x="84" y="66" width="3" height="3" fill="#0cb"/><rect x="87" y="66" width="3" height="3" fill="#0bc"/><rect x="90" y="66" width="3" height="3" fill="#0ad"/><rect x="93" y="66" width="3" height="3" fill="#19d"/><rect x="-3" y="69" width="3" height="3" fill="#7e0"/><rect x="0" y="69" width="6" height="3" fill="#ce0"/><rect x="6" y="69" width="3" height="3" fill="#9e0"/><rect x="9" y="69" width="3" height="3" fill="#5e0"/><rect x="12" y="69" width="3" height="3" fill="#4e1"/><rect x="15" y="69" width="3" height="3" fill="#3e1"/><rect x="18" y="69" width="3" height="3" fill="#4e0"/><rect x="21" y="69" width="3" height="3" fill="#5e0"/><rect x="24" y="69" width="3" height="3" fill="#7e0"/><rect x="27" y="69" width="3" height="3" fill="#9e0"/><rect x="30" y="69" width="3" height="3" fill="#ae0"/><rect x="33" y="69" width="3" height="3" fill="#be0"/><rect x="36" y="69" width="6" height="3" fill="#ce0"/><rect x="42" y="69" width="3" height="3" fill="#cf0"/><rect x="45" y="69" width="6" height="3" fill="#ce0"/><rect x="51" y="69" width="3" height="3" fill="#be0"/><rect x="54" y="69" width="3" height="3" fill="#ae0"/><rect x="57" y="69" width="3" height="3" fill="#9e0"/><rect x="60" y="69" width="3" height="3" fill="#7e0"/><rect x="63" y="69" width="3" height="3" fill="#5e0"/><rect x="66" y="69" width="3" height="3" fill="#3e1"/><rect x="69" y="69" width="3" height="3" fill="#1e2"/><rect x="72" y="69" width="3" height="3" fill="#0e3"/><rect x="75" y="69" width="3" height="3" fill="#0e5"/><rect x="78" y="69" width="3" height="3" fill="#0d7"/><rect x="81" y="69" width="3" height="3" fill="#0c9"/><rect x="84" y="69" width="3" height="3" fill="#0cb"/><rect x="87" y="69" width="3" height="3" fill="#0bd"/><rect x="90" y="69" width="6" height="3" fill="#19d"/><rect x="-3" y="72" width="3" height="3" fill="#ce0"/><rect x="0" y="72" width="6" height="3" fill="#ff0"/><rect x="6" y="72" width="3" height="3" fill="#df0"/><rect x="9" y="72" width="3" height="3" fill="#8e0"/><rect x="12" y="72" width="3" height="3" fill="#5e0"/><rect x="15" y="72" width="9" height="3" fill="#3e1"/><rect x="24" y="72" width="3" height="3" fill="#4e0"/><rect x="27" y="72" width="3" height="3" fill="#6e0"/><rect x="30" y="72" width="3" height="3" fill="#7e0"/><rect x="33" y="72" width="3" height="3" fill="#8e0"/><rect x="36" y="72" width="6" height="3" fill="#9e0"/><rect x="42" y="72" width="3" height="3" fill="#ae0"/><rect x="45" y="72" width="6" height="3" fill="#9e0"/><rect x="51" y="72" width="3" height="3" fill="#8e0"/><rect x="54" y="72" width="3" height="3" fill="#7e0"/><rect x="57" y="72" width="3" height="3" fill="#6e0"/><rect x="60" y="72" width="3" height="3" fill="#4e0"/><rect x="63" y="72" width="3" height="3" fill="#3e1"/><rect x="66" y="72" width="3" height="3" fill="#1e2"/><rect x="69" y="72" width="3" height="3" fill="#0e3"/><rect x="72" y="72" width="3" height="3" fill="#0e4"/><rect x="75" y="72" width="3" height="3" fill="#0d5"/><rect x="78" y="72" width="3" height="3" fill="#0d8"/><rect x="81" y="72" width="3" height="3" fill="#0ca"/><rect x="84" y="72" width="3" height="3" fill="#0bc"/><rect x="87" y="72" width="3" height="3" fill="#1ad"/><rect x="90" y="72" width="3" height="3" fill="#19d"/><rect x="93" y="72" width="3" height="3" fill="#18d"/><rect x="-3" y="75" width="3" height="3" fill="#ef0"/><rect x="0" y="75" width="6" height="3" fill="#fd0"/><rect x="6" y="75" width="3" height="3" fill="#ff0"/><rect x="9" y="75" width="3" height="3" fill="#ce0"/><rect x="12" y="75" width="3" height="3" fill="#7e0"/><rect x="15" y="75" width="3" height="3" fill="#4e0"/><rect x="18" y="75" width="12" height="3" fill="#3e1"/><rect x="30" y="75" width="3" height="3" fill="#4e0"/><rect x="33" y="75" width="6" height="3" fill="#5e0"/><rect x="39" y="75" width="9" height="3" fill="#6e0"/><rect x="48" y="75" width="6" height="3" fill="#5e0"/><rect x="54" y="75" width="3" height="3" fill="#4e0"/><rect x="57" y="75" width="3" height="3" fill="#3e1"/><rect x="60" y="75" width="3" height="3" fill="#2e1"/><rect x="63" y="75" width="3" height="3" fill="#1e2"/><rect x="66" y="75" width="3" height="3" fill="#0e2"/><rect x="69" y="75" width="3" height="3" fill="#0e3"/><rect x="72" y="75" width="3" height="3" fill="#0e5"/><rect x="75" y="75" width="3" height="3" fill="#0d6"/><rect x="78" y="75" width="3" height="3" fill="#0c9"/><rect x="81" y="75" width="3" height="3" fill="#0cb"/><rect x="84" y="75" width="3" height="3" fill="#0bd"/><rect x="87" y="75" width="3" height="3" fill="#19d"/><rect x="90" y="75" width="3" height="3" fill="#18d"/><rect x="93" y="75" width="3" height="3" fill="#17d"/><rect x="-3" y="78" width="3" height="3" fill="#df0"/><rect x="0" y="78" width="3" height="3" fill="#fe0"/><rect x="3" y="78" width="3" height="3" fill="#fc0"/><rect x="6" y="78" width="3" height="3" fill="#fe0"/><rect x="9" y="78" width="3" height="3" fill="#ef0"/><rect x="12" y="78" width="3" height="3" fill="#9e0"/><rect x="15" y="78" width="3" height="3" fill="#4e0"/><rect x="18" y="78" width="3" height="3" fill="#2e1"/><rect x="21" y="78" width="6" height="3" fill="#2e2"/><rect x="27" y="78" width="12" height="3" fill="#2e1"/><rect x="39" y="78" width="12" height="3" fill="#3e1"/><rect x="51" y="78" width="3" height="3" fill="#2e1"/><rect x="54" y="78" width="3" height="3" fill="#2e2"/><rect x="57" y="78" width="6" height="3" fill="#1e2"/><rect x="63" y="78" width="3" height="3" fill="#0e2"/><rect x="66" y="78" width="3" height="3" fill="#0e3"/><rect x="69" y="78" width="3" height="3" fill="#0e4"/><rect x="72" y="78" width="3" height="3" fill="#0d6"/><rect x="75" y="78" width="3" height="3" fill="#0d8"/><rect x="78" y="78" width="3" height="3" fill="#0ca"/><rect x="81" y="78" width="3" height="3" fill="#0bc"/><rect x="84" y="78" width="3" height="3" fill="#1ad"/><rect x="87" y="78" width="3" height="3" fill="#18d"/><rect x="90" y="78" width="3" height="3" fill="#17d"/><rect x="93" y="78" width="3" height="3" fill="#16c"/><rect x="-3" y="81" width="3" height="3" fill="#9e0"/><rect x="0" y="81" width="3" height="3" fill="#ef0"/><rect x="3" y="81" width="3" height="3" fill="#fe0"/><rect x="6" y="81" width="3" height="3" fill="#ff0"/><rect x="9" y="81" width="3" height="3" fill="#ef0"/><rect x="12" y="81" width="3" height="3" fill="#8e0"/><rect x="15" y="81" width="3" height="3" fill="#3e1"/><rect x="18" y="81" width="3" height="3" fill="#1e2"/><rect x="21" y="81" width="9" height="3" fill="#0e2"/><rect x="30" y="81" width="24" height="3" fill="#1e2"/><rect x="54" y="81" width="6" height="3" fill="#0e2"/><rect x="60" y="81" width="6" height="3" fill="#0e3"/><rect x="66" y="81" width="3" height="3" fill="#0e4"/><rect x="69" y="81" width="3" height="3" fill="#0d5"/><rect x="72" y="81" width="3" height="3" fill="#0d7"/><rect x="75" y="81" width="3" height="3" fill="#0c9"/><rect x="78" y="81" width="3" height="3" fill="#0cb"/><rect x="81" y="81" width="3" height="3" fill="#0bd"/><rect x="84" y="81" width="3" height="3" fill="#19d"/><rect x="87" y="81" width="3" height="3" fill="#17d"/><rect x="90" y="81" width="6" height="3" fill="#16c"/><rect x="-3" y="84" width="3" height="3" fill="#2e1"/><rect x="0" y="84" width="3" height="3" fill="#8e0"/><rect x="3" y="84" width="6" height="3" fill="#ce0"/><rect x="9" y="84" width="3" height="3" fill="#9e0"/><rect x="12" y="84" width="3" height="3" fill="#4e0"/><rect x="15" y="84" width="3" height="3" fill="#1e2"/><rect x="18" y="84" width="3" height="3" fill="#0e3"/><rect x="21" y="84" width="6" height="3" fill="#0e4"/><rect x="27" y="84" width="33" height="3" fill="#0e3"/><rect x="60" y="84" width="6" height="3" fill="#0e4"/><rect x="66" y="84" width="3" height="3" fill="#0d5"/><rect x="69" y="84" width="3" height="3" fill="#0d7"/><rect x="72" y="84" width="3" height="3" fill="#0d8"/><rect x="75" y="84" width="3" height="3" fill="#0ca"/><rect x="78" y="84" width="3" height="3" fill="#0bc"/><rect x="81" y="84" width="3" height="3" fill="#1ad"/><rect x="84" y="84" width="3" height="3" fill="#17d"/><rect x="87" y="84" width="3" height="3" fill="#16c"/><rect x="90" y="84" width="6" height="3" fill="#15c"/><rect x="-3" y="87" width="3" height="3" fill="#0d5"/><rect x="0" y="87" width="3" height="3" fill="#0e2"/><rect x="3" y="87" width="3" height="3" fill="#2e1"/><rect x="6" y="87" width="3" height="3" fill="#3e1"/><rect x="9" y="87" width="3" height="3" fill="#1e2"/><rect x="12" y="87" width="3" height="3" fill="#0e3"/><rect x="15" y="87" width="3" height="3" fill="#0e4"/><rect x="18" y="87" width="9" height="3" fill="#0d5"/><rect x="27" y="87" width="3" height="3" fill="#0e5"/><rect x="30" y="87" width="30" height="3" fill="#0e4"/><rect x="60" y="87" width="3" height="3" fill="#0e5"/><rect x="63" y="87" width="3" height="3" fill="#0d5"/><rect x="66" y="87" width="3" height="3" fill="#0d6"/><rect x="69" y="87" width="3" height="3" fill="#0d8"/><rect x="72" y="87" width="3" height="3" fill="#0c9"/><rect x="75" y="87" width="3" height="3" fill="#0cb"/><rect x="78" y="87" width="3" height="3" fill="#0bd"/><rect x="81" y="87" width="3" height="3" fill="#19d"/><rect x="84" y="87" width="3" height="3" fill="#17d"/><rect x="87" y="87" width="3" height="3" fill="#16c"/><rect x="90" y="87" width="6" height="3" fill="#15c"/><rect x="-3" y="90" width="3" height="3" fill="#0c9"/><rect x="0" y="90" width="3" height="3" fill="#0d7"/><rect x="3" y="90" width="3" height="3" fill="#0d6"/><rect x="6" y="90" width="3" height="3" fill="#0d5"/><rect x="9" y="90" width="24" height="3" fill="#0d6"/><rect x="33" y="90" width="27" height="3" fill="#0d5"/><rect x="60" y="90" width="6" height="3" fill="#0d6"/><rect x="66" y="90" width="3" height="3" fill="#0d8"/><rect x="69" y="90" width="3" height="3" fill="#0c9"/><rect x="72" y="90" width="3" height="3" fill="#0ca"/><rect x="75" y="90" width="3" height="3" fill="#0bc"/><rect x="78" y="90" width="3" height="3" fill="#1ad"/><rect x="81" y="90" width="3" height="3" fill="#18d"/><rect x="84" y="90" width="3" height="3" fill="#16c"/><rect x="87" y="90" width="9" height="3" fill="#15c"/><rect x="-3" y="93" width="9" height="3" fill="#0ca"/><rect x="6" y="93" width="6" height="3" fill="#0c9"/><rect x="12" y="93" width="12" height="3" fill="#0d8"/><rect x="24" y="93" width="9" height="3" fill="#0d7"/><rect x="33" y="93" width="27" height="3" fill="#0d6"/><rect x="60" y="93" width="3" height="3" fill="#0d7"/><rect x="63" y="93" width="3" height="3" fill="#0d8"/><rect x="66" y="93" width="3" height="3" fill="#0d9"/><rect x="69" y="93" width="3" height="3" fill="#0ca"/><rect x="72" y="93" width="3" height="3" fill="#0cb"/><rect x="75" y="93" width="3" height="3" fill="#0bc"/><rect x="78" y="93" width="3" height="3" fill="#19d"/><rect x="81" y="93" width="3" height="3" fill="#17d"/><rect x="84" y="93" width="3" height="3" fill="#16c"/><rect x="87" y="93" width="9" height="3" fill="#15c"/></g><ellipse cx="45.7" cy="45.7" rx="7.3" ry="5.8" fill="#10c8e0" filter="url(#btAb)"/><ellipse cx="45.7" cy="45.7" rx="6.5" ry="5.0" fill="#1448c0" filter="url(#btAb)"/><ellipse cx="45.7" cy="45.7" rx="5.7" ry="4.1" fill="#1c2290" filter="url(#btAb)"/><ellipse cx="45.7" cy="45.7" rx="3" ry="2.2" fill="#3a3aa0" opacity="0.6" filter="url(#btAb)"/><rect x="0.4" y="0.4" width="91.2" height="91.2" fill="none" stroke="#30f0e0" stroke-width="0.8" opacity="0.8"/></g><line x1="45.7" y1="0" x2="45.7" y2="92" stroke="#c03cc0" stroke-width="1" opacity="0.55"/><line x1="0" y1="45.7" x2="92" y2="45.7" stroke="#10e0f0" stroke-width="1" opacity="0.6"/></g>
<text x="66" y="132.8" font-size="5.85" text-anchor="middle" font-weight="normal" fill="#222" >Fovea: 247, 64</text>
<text x="252.2" y="132.8" font-size="5.85" text-anchor="middle" font-weight="normal" fill="#222" >Fovea: 257, 64</text>
<defs><linearGradient id="cbA" x1="0" y1="0" x2="0" y2="1"><stop offset="0" stop-color="#ffd8d8"/><stop offset="0.03" stop-color="#ff7070"/><stop offset="0.07" stop-color="#ff2a10"/><stop offset="0.12" stop-color="#ff4400"/><stop offset="0.2" stop-color="#ff9800"/><stop offset="0.24" stop-color="#ffee00"/><stop offset="0.3" stop-color="#f4ff00"/><stop offset="0.36" stop-color="#80ff00"/><stop offset="0.4" stop-color="#00f000"/><stop offset="0.44" stop-color="#00dd40"/><stop offset="0.47" stop-color="#00c0a0"/><stop offset="0.5" stop-color="#00a8e0"/><stop offset="0.53" stop-color="#0050c8"/><stop offset="0.58" stop-color="#0020a0"/><stop offset="0.62" stop-color="#1a2a88"/><stop offset="0.68" stop-color="#6070a8"/><stop offset="0.72" stop-color="#9098b0"/><stop offset="0.76" stop-color="#b0b0b0"/><stop offset="0.82" stop-color="#909090"/><stop offset="0.92" stop-color="#404040"/><stop offset="1" stop-color="#080808"/></linearGradient></defs>
<rect x="165" y="35" width="8" height="89.4" fill="url(#cbA)"/>
<text x="160.6" y="41" font-size="6.9" text-anchor="end" font-weight="normal" fill="#383838" letter-spacing="0.25">500</text>
<text x="160.6" y="55" font-size="6.9" text-anchor="end" font-weight="normal" fill="#383838" letter-spacing="0.25">400</text>
<text x="160.6" y="72.5" font-size="6.9" text-anchor="end" font-weight="normal" fill="#383838" letter-spacing="0.25">300</text>
<text x="160.6" y="90.6" font-size="6.9" text-anchor="end" font-weight="normal" fill="#383838" letter-spacing="0.25">200</text>
<text x="160.6" y="108" font-size="6.9" text-anchor="end" font-weight="normal" fill="#383838" letter-spacing="0.25">100</text>
<text x="148.3" y="123.6" font-size="6.9" text-anchor="start" font-weight="normal" fill="#383838" >0 µm</text>
<text x="155.4" y="64.6" font-size="42.6" fill="#000">A</text>
<path d="M161.6,135.6 L168.9,147.9 L154.3,147.9 Z" fill="#fff" stroke="#4a5ab2" stroke-width="1.35" stroke-linejoin="round"/><line x1="161.6" y1="139.2" x2="161.6" y2="144.6" stroke="#4a5ab2" stroke-width="1.35"/><circle cx="161.6" cy="146.4" r="0.7" fill="#4a5ab2"/>
<text x="43" y="151.8" font-size="5.45" text-anchor="middle" font-weight="normal" fill="#222" >OD OCT Fundus</text>
<g transform="translate(7.5,154.5)"><defs><radialGradient id="fgAfa" cx="34.6" cy="37" r="56.800000000000004" gradientUnits="userSpaceOnUse"><stop offset="0" stop-color="#b4b4b4"/><stop offset="0.22" stop-color="#c8c8c8"/><stop offset="0.6" stop-color="#cfcfcf"/><stop offset="1" stop-color="#c4c4c4"/></radialGradient><clipPath id="fcAfa"><rect width="71" height="74"/></clipPath><filter id="fnAfa" x="0" y="0" width="100%" height="100%" color-interpolation-filters="sRGB"><feTurbulence type="fractalNoise" baseFrequency="0.8" numOctaves="2" seed="5"/><feColorMatrix type="matrix" values="0 0 0 0 0.45  0 0 0 0 0.45  0 0 0 0 0.45  0 0 1.4 0 -0.6"/></filter><filter id="fbAfa" x="-50%" y="-50%" width="200%" height="200%"><feGaussianBlur stdDeviation="2"/></filter></defs><g clip-path="url(#fcAfa)"><rect width="71" height="74" fill="url(#fgAfa)"/><rect width="71" height="74" filter="url(#fnAfa)" opacity="0.22"/><path d="M0,13.6 L0.3,13.4 L8.8,10.6 L16.3,9.1 L25.6,8.2 L32.2,8.8 L40.7,12.5 L46.3,15.3 L53.8,16.8 L63.2,17.8 L71,17.2" fill="none" stroke="#848484" stroke-width="0.60" stroke-linejoin="round" opacity="0.8"/><path d="M25.6,8.2 L22.8,12.5 L21,18.1 L19.6,25.6 L19.4,29" fill="none" stroke="#848484" stroke-width="0.48" stroke-linejoin="round" opacity="0.8"/><path d="M32.2,8.8 L33.1,5 L33.5,0" fill="none" stroke="#848484" stroke-width="0.44" stroke-linejoin="round" opacity="0.8"/><path d="M40,20 L42.5,21.9 L50,24.7 L59.4,25.6 L71,24.7" fill="none" stroke="#848484" stroke-width="0.48" stroke-linejoin="round" opacity="0.8"/><path d="M1.3,42.5 L6.9,50 L12.5,59.4 L18.1,72.5 L18.5,74" fill="none" stroke="#848484" stroke-width="0.48" stroke-linejoin="round" opacity="0.8"/><path d="M16.3,44.4 L23.8,51.9 L33.1,59.4 L40.7,66.9 L46.3,72.5 L47,74" fill="none" stroke="#848484" stroke-width="0.48" stroke-linejoin="round" opacity="0.8"/><path d="M71,39.7 L59.4,45.3 L50,51.9 L45.3,59.4 L44.4,72.5 L44.4,74" fill="none" stroke="#848484" stroke-width="0.52" stroke-linejoin="round" opacity="0.8"/><path d="M5,53.8 L3.1,65 L4.1,72.5 L4.3,74" fill="none" stroke="#848484" stroke-width="0.40" stroke-linejoin="round" opacity="0.8"/><path d="M59.4,53.8 L65,63.2 L68.8,72.5" fill="none" stroke="#848484" stroke-width="0.40" stroke-linejoin="round" opacity="0.8"/><path d="M9,12 L8.2,20 L7.5,30 L7,38" fill="none" stroke="#848484" stroke-width="0.32" stroke-linejoin="round" opacity="0.8"/><path d="M46,15.5 L52,10 L58,7 L66,5" fill="none" stroke="#848484" stroke-width="0.32" stroke-linejoin="round" opacity="0.8"/></g><line x1="34.6" y1="0" x2="34.6" y2="74" stroke="#dc7ce0" stroke-width="1.45"/><line x1="0" y1="37" x2="71" y2="37" stroke="#5ed2da" stroke-width="1.15"/><circle cx="33.7" cy="36.6" r="1.3" fill="#ff0000"/><rect x="-0.5" y="-0.5" width="72" height="75" fill="none" stroke="#262626" stroke-width="1.25"/></g>
<text x="113.4" y="152.5" font-size="5.6" text-anchor="middle" font-weight="normal" fill="#222" >OD ILM-RPE Thickness</text>
<rect x="82.8" y="155.8" width="59" height="59" fill="#fff" stroke="none"/><path d="M82.8,214.8 V155.8 H141.8" fill="none" stroke="#c4c4c4" stroke-width="1"/><path d="M141.8,155.8 V214.8 H82.8" fill="none" stroke="#444" stroke-width="1"/><path d="M91.41,165.21 A28.7,28.7 0 0 1 131.99,165.21 L122.02,175.18 A14.6,14.6 0 0 0 101.38,175.18 Z" fill="#66fc66"/><path d="M101.38,175.18 A14.6,14.6 0 0 1 122.02,175.18 L115.16,182.04 A4.9,4.9 0 0 0 108.24,182.04 Z" fill="#66fc66"/><path d="M131.99,165.21 A28.7,28.7 0 0 1 131.99,205.79 L122.02,195.82 A14.6,14.6 0 0 0 122.02,175.18 Z" fill="#66fc66"/><path d="M122.02,175.18 A14.6,14.6 0 0 1 122.02,195.82 L115.16,188.96 A4.9,4.9 0 0 0 115.16,182.04 Z" fill="#66fc66"/><path d="M131.99,205.79 A28.7,28.7 0 0 1 91.41,205.79 L101.38,195.82 A14.6,14.6 0 0 0 122.02,195.82 Z" fill="#66fc66"/><path d="M122.02,195.82 A14.6,14.6 0 0 1 101.38,195.82 L108.24,188.96 A4.9,4.9 0 0 0 115.16,188.96 Z" fill="#66fc66"/><path d="M91.41,205.79 A28.7,28.7 0 0 1 91.41,165.21 L101.38,175.18 A14.6,14.6 0 0 0 101.38,195.82 Z" fill="#66fc66"/><path d="M101.38,195.82 A14.6,14.6 0 0 1 101.38,175.18 L108.24,182.04 A4.9,4.9 0 0 0 108.24,188.96 Z" fill="#66fc66"/><circle cx="111.69999999999999" cy="185.5" r="4.9" fill="#66fc66"/><circle cx="111.69999999999999" cy="185.5" r="28.7" fill="none" stroke="#2a4a2a" stroke-width="0.35" opacity="0.6"/><circle cx="111.69999999999999" cy="185.5" r="14.6" fill="none" stroke="#2a4a2a" stroke-width="0.45"/><circle cx="111.69999999999999" cy="185.5" r="4.9" fill="none" stroke="#2a4a2a" stroke-width="0.45"/><line x1="115.16" y1="188.96" x2="131.99" y2="205.79" stroke="#2a4a2a" stroke-width="0.45"/><line x1="108.24" y1="188.96" x2="91.41" y2="205.79" stroke="#2a4a2a" stroke-width="0.45"/><line x1="108.24" y1="182.04" x2="91.41" y2="165.21" stroke="#2a4a2a" stroke-width="0.45"/><line x1="115.16" y1="182.04" x2="131.99" y2="165.21" stroke="#2a4a2a" stroke-width="0.45"/><text x="111.70" y="186.95" font-size="4.15" text-anchor="middle" font-weight="normal" fill="#111" >240</text><text x="111.70" y="176.35" font-size="4.15" text-anchor="middle" font-weight="normal" fill="#111" >345</text><text x="122.10" y="186.95" font-size="4.15" text-anchor="middle" font-weight="normal" fill="#111" >336</text><text x="111.70" y="196.95" font-size="4.15" text-anchor="middle" font-weight="normal" fill="#111" >340</text><text x="100.90" y="186.95" font-size="4.15" text-anchor="middle" font-weight="normal" fill="#111" >327</text><text x="111.70" y="163.95" font-size="4.15" text-anchor="middle" font-weight="normal" fill="#111" >295</text><text x="133.90" y="186.95" font-size="4.15" text-anchor="middle" font-weight="normal" fill="#111" >315</text><text x="111.70" y="209.35" font-size="4.15" text-anchor="middle" font-weight="normal" fill="#111" >288</text><text x="89.30" y="186.95" font-size="4.15" text-anchor="middle" font-weight="normal" fill="#111" >279</text>
<rect x="146.7" y="156.9" width="29.6" height="57.8" fill="#fff" stroke="#666" stroke-width="0.9"/><text x="161.5" y="162.0" font-size="5.0" text-anchor="middle" font-weight="normal" fill="#151515" >Diversified</text><text x="161.5" y="167.4" font-size="5.0" text-anchor="middle" font-weight="normal" fill="#151515" >Distribution</text><text x="161.5" y="172.8" font-size="5.0" text-anchor="middle" font-weight="normal" fill="#151515" >of Normals</text><rect x="150.29999999999998" y="175.50" width="11.2" height="7.70" fill="#ffb8c4" stroke="#3a3a3a" stroke-width="0.45"/><rect x="150.29999999999998" y="183.20" width="11.2" height="7.70" fill="#fbf58c" stroke="#3a3a3a" stroke-width="0.45"/><rect x="150.29999999999998" y="190.90" width="11.2" height="7.70" fill="#66fc66" stroke="#3a3a3a" stroke-width="0.45"/><rect x="150.29999999999998" y="198.60" width="11.2" height="7.70" fill="#f4f034" stroke="#3a3a3a" stroke-width="0.45"/><rect x="150.29999999999998" y="206.30" width="11.2" height="7.70" fill="#f46060" stroke="#3a3a3a" stroke-width="0.45"/><line x1="161.49999999999997" y1="183.20" x2="163.89999999999998" y2="183.20" stroke="#333" stroke-width="0.5"/><text x="163.80" y="185.00" font-size="5.1" text-anchor="start" font-weight="normal" fill="#151515" >99%</text><line x1="161.49999999999997" y1="190.90" x2="163.89999999999998" y2="190.90" stroke="#333" stroke-width="0.5"/><text x="163.80" y="192.70" font-size="5.1" text-anchor="start" font-weight="normal" fill="#151515" >95%</text><line x1="161.49999999999997" y1="198.60" x2="163.89999999999998" y2="198.60" stroke="#333" stroke-width="0.5"/><text x="163.80" y="200.40" font-size="5.1" text-anchor="start" font-weight="normal" fill="#151515" >5%</text><line x1="161.49999999999997" y1="206.30" x2="163.89999999999998" y2="206.30" stroke="#333" stroke-width="0.5"/><text x="163.80" y="208.10" font-size="5.1" text-anchor="start" font-weight="normal" fill="#151515" >1%</text>
<text x="210.3" y="152.5" font-size="5.55" text-anchor="middle" font-weight="normal" fill="#222" >OS ILM-RPE Thickness</text>
<rect x="180.1" y="156.3" width="59" height="59" fill="#fff" stroke="none"/><path d="M180.1,215.3 V156.3 H239.1" fill="none" stroke="#c4c4c4" stroke-width="1"/><path d="M239.1,156.3 V215.3 H180.1" fill="none" stroke="#444" stroke-width="1"/><path d="M189.31,165.71 A28.7,28.7 0 0 1 229.89,165.71 L219.92,175.68 A14.6,14.6 0 0 0 199.28,175.68 Z" fill="#66fc66"/><path d="M199.28,175.68 A14.6,14.6 0 0 1 219.92,175.68 L213.06,182.54 A4.9,4.9 0 0 0 206.14,182.54 Z" fill="#66fc66"/><path d="M229.89,165.71 A28.7,28.7 0 0 1 229.89,206.29 L219.92,196.32 A14.6,14.6 0 0 0 219.92,175.68 Z" fill="#f8f490"/><path d="M219.92,175.68 A14.6,14.6 0 0 1 219.92,196.32 L213.06,189.46 A4.9,4.9 0 0 0 213.06,182.54 Z" fill="#66fc66"/><path d="M229.89,206.29 A28.7,28.7 0 0 1 189.31,206.29 L199.28,196.32 A14.6,14.6 0 0 0 219.92,196.32 Z" fill="#f8f490"/><path d="M219.92,196.32 A14.6,14.6 0 0 1 199.28,196.32 L206.14,189.46 A4.9,4.9 0 0 0 213.06,189.46 Z" fill="#66fc66"/><path d="M189.31,206.29 A28.7,28.7 0 0 1 189.31,165.71 L199.28,175.68 A14.6,14.6 0 0 0 199.28,196.32 Z" fill="#66fc66"/><path d="M199.28,196.32 A14.6,14.6 0 0 1 199.28,175.68 L206.14,182.54 A4.9,4.9 0 0 0 206.14,189.46 Z" fill="#66fc66"/><circle cx="209.6" cy="186.0" r="4.9" fill="#66fc66"/><circle cx="209.6" cy="186.0" r="28.7" fill="none" stroke="#2a4a2a" stroke-width="0.35" opacity="0.6"/><circle cx="209.6" cy="186.0" r="14.6" fill="none" stroke="#2a4a2a" stroke-width="0.45"/><circle cx="209.6" cy="186.0" r="4.9" fill="none" stroke="#2a4a2a" stroke-width="0.45"/><line x1="213.06" y1="189.46" x2="229.89" y2="206.29" stroke="#2a4a2a" stroke-width="0.45"/><line x1="206.14" y1="189.46" x2="189.31" y2="206.29" stroke="#2a4a2a" stroke-width="0.45"/><line x1="206.14" y1="182.54" x2="189.31" y2="165.71" stroke="#2a4a2a" stroke-width="0.45"/><line x1="213.06" y1="182.54" x2="229.89" y2="165.71" stroke="#2a4a2a" stroke-width="0.45"/><text x="209.60" y="187.45" font-size="4.15" text-anchor="middle" font-weight="normal" fill="#111" >243</text><text x="209.60" y="176.85" font-size="4.15" text-anchor="middle" font-weight="normal" fill="#111" >341</text><text x="220.00" y="187.45" font-size="4.15" text-anchor="middle" font-weight="normal" fill="#111" >331</text><text x="209.60" y="197.45" font-size="4.15" text-anchor="middle" font-weight="normal" fill="#111" >347</text><text x="198.80" y="187.45" font-size="4.15" text-anchor="middle" font-weight="normal" fill="#111" >348</text><text x="209.60" y="164.45" font-size="4.15" text-anchor="middle" font-weight="normal" fill="#111" >291</text><text x="231.80" y="187.45" font-size="4.15" text-anchor="middle" font-weight="normal" fill="#111" >286</text><text x="209.60" y="209.85" font-size="4.15" text-anchor="middle" font-weight="normal" fill="#111" >297</text><text x="187.20" y="187.45" font-size="4.15" text-anchor="middle" font-weight="normal" fill="#111" >310</text>
<text x="281" y="151.8" font-size="5.45" text-anchor="middle" font-weight="normal" fill="#222" >OS OCT Fundus</text>
<g transform="translate(245.3,154.9)"><defs><radialGradient id="fgAfb" cx="35.4" cy="36.5" r="56.800000000000004" gradientUnits="userSpaceOnUse"><stop offset="0" stop-color="#a2a2a2"/><stop offset="0.22" stop-color="#acacac"/><stop offset="0.6" stop-color="#b6b6b6"/><stop offset="1" stop-color="#b2b2b2"/></radialGradient><clipPath id="fcAfb"><rect width="71" height="73.3"/></clipPath><filter id="fnAfb" x="0" y="0" width="100%" height="100%" color-interpolation-filters="sRGB"><feTurbulence type="fractalNoise" baseFrequency="0.8" numOctaves="2" seed="5"/><feColorMatrix type="matrix" values="0 0 0 0 0.45  0 0 0 0 0.45  0 0 0 0 0.45  0 0 1.4 0 -0.6"/></filter><filter id="fbAfb" x="-50%" y="-50%" width="200%" height="200%"><feGaussianBlur stdDeviation="2"/></filter></defs><g clip-path="url(#fcAfb)"><rect width="71" height="73.3" fill="url(#fgAfb)"/><ellipse cx="2" cy="66" rx="5" ry="8" fill="#e0e0e0" opacity="0.85" filter="url(#fbAfb)"/><rect width="71" height="73.3" filter="url(#fnAfb)" opacity="0.22"/><path d="M0,12.2 L0.5,12.1 L7.1,11.2 L12.7,9.3 L16.5,10.6 L22.1,14.4 L28.7,17.7 L35.2,19.6" fill="none" stroke="#848484" stroke-width="0.56" stroke-linejoin="round" opacity="0.8"/><path d="M0,28.3 L0.5,28.1 L9,25.2 L18.3,23.4 L25.8,22.4" fill="none" stroke="#848484" stroke-width="0.44" stroke-linejoin="round" opacity="0.8"/><path d="M44.6,0 L40.9,8.4 L39,15.9 L38.5,20" fill="none" stroke="#848484" stroke-width="0.40" stroke-linejoin="round" opacity="0.8"/><path d="M52.1,0 L48.4,6.5 L44.6,14 L42.7,23.4" fill="none" stroke="#848484" stroke-width="0.36" stroke-linejoin="round" opacity="0.8"/><path d="M59.6,2.7 L54,12.1 L52.1,21.5" fill="none" stroke="#848484" stroke-width="0.36" stroke-linejoin="round" opacity="0.8"/><path d="M40.9,8.4 L52.1,12.1 L63.4,17.7 L71,21.5" fill="none" stroke="#848484" stroke-width="0.40" stroke-linejoin="round" opacity="0.8"/><path d="M71,42.1 L61.5,45.9 L52.1,51.5 L42.7,55.3 L31.5,59 L20.2,61.8 L9,60.9 L1.5,57.1 L0,56.5" fill="none" stroke="#848484" stroke-width="0.60" stroke-linejoin="round" opacity="0.8"/><path d="M61.5,45.9 L57.7,57.1 L50.2,66.5 L42.7,72.1 L40,73.3" fill="none" stroke="#848484" stroke-width="0.48" stroke-linejoin="round" opacity="0.8"/><path d="M0,59 L1.5,60.9 L9,68.4 L12.7,72.1 L13.5,73.3" fill="none" stroke="#848484" stroke-width="0.48" stroke-linejoin="round" opacity="0.8"/><path d="M14,46 L21,44 L27,42" fill="none" stroke="#848484" stroke-width="0.32" stroke-linejoin="round" opacity="0.8"/></g><line x1="35.4" y1="0" x2="35.4" y2="73.3" stroke="#dc7ce0" stroke-width="1.45"/><line x1="0" y1="36.5" x2="71" y2="36.5" stroke="#5ed2da" stroke-width="1.15"/><circle cx="34.5" cy="36.1" r="1.3" fill="#ff0000"/><rect x="-0.5" y="-0.5" width="72" height="74.3" fill="none" stroke="#262626" stroke-width="1.25"/></g>
<rect x="188.3" y="228.3" width="37.69999999999999" height="9.099999999999994" fill="#66fc66"/><rect x="188.3" y="237.4" width="37.69999999999999" height="9.199999999999989" fill="#66fc66"/><rect x="188.3" y="246.6" width="37.69999999999999" height="9.400000000000006" fill="#66fc66"/><rect x="95.5" y="219.1" width="130" height="36.400000000000006" fill="none" stroke="#333" stroke-width="1"/><line x1="95" y1="219.1" x2="226" y2="219.1" stroke="#999" stroke-width="1.4"/><line x1="95" y1="228.3" x2="226" y2="228.3" stroke="#333" stroke-width="0.8"/><line x1="95" y1="237.4" x2="226" y2="237.4" stroke="#333" stroke-width="0.8"/><line x1="95" y1="246.6" x2="226" y2="246.6" stroke="#333" stroke-width="0.8"/><line x1="188.3" y1="218.6" x2="188.3" y2="256.0" stroke="#333" stroke-width="0.8"/><line x1="206.5" y1="218.6" x2="206.5" y2="256.0" stroke="#333" stroke-width="0.8"/><text x="141.6" y="225.4" font-size="5.2" text-anchor="middle" font-weight="bold" fill="#222" >ILM - RPE</text><text x="197.4" y="225.4" font-size="5.2" text-anchor="middle" font-weight="bold" fill="#222" >OD</text><text x="216.25" y="225.4" font-size="5.2" text-anchor="middle" font-weight="bold" fill="#222" >OS</text><text x="141.6" y="234.70000000000002" font-size="5.35" text-anchor="middle" font-weight="normal" fill="#333" >Thickness Central Subfield (µm)</text><text x="197.4" y="234.70000000000002" font-size="5.35" text-anchor="middle" font-weight="normal" fill="#1a2a1a" >240</text><text x="216.25" y="234.70000000000002" font-size="5.35" text-anchor="middle" font-weight="normal" fill="#1a2a1a" >243</text><text x="141.6" y="243.8" font-size="5.35" text-anchor="middle" font-weight="normal" fill="#333" >Volume Cube (mm³)</text><text x="197.4" y="243.8" font-size="5.35" text-anchor="middle" font-weight="normal" fill="#1a2a1a" >10,7</text><text x="216.25" y="243.8" font-size="5.35" text-anchor="middle" font-weight="normal" fill="#1a2a1a" >10,8</text><text x="141.6" y="253.0" font-size="5.35" text-anchor="middle" font-weight="normal" fill="#333" >Thickness Avg Cube (µm)</text><text x="197.4" y="253.0" font-size="5.35" text-anchor="middle" font-weight="normal" fill="#1a2a1a" >297</text><text x="216.25" y="253.0" font-size="5.35" text-anchor="middle" font-weight="normal" fill="#1a2a1a" >300</text>
<text x="7" y="262.3" font-size="5.45" text-anchor="start" font-weight="normal" fill="#222" >OD Horizontal B-Scan</text>
<text x="112.3" y="262.3" font-size="5.6" font-weight="bold" fill="#222" textLength="20.4" lengthAdjust="spacingAndGlyphs">BScan:</text>
<text x="137.1" y="262.3" font-size="5.6" text-anchor="start" font-weight="normal" fill="#222" >64</text>
<g transform="translate(5.2,264)"><defs><clipPath id="bcAba"><rect width="140.8" height="99.4"/></clipPath><filter id="nzAba" x="0" y="0" width="100%" height="100%" color-interpolation-filters="sRGB"><feTurbulence type="fractalNoise" baseFrequency="0.95" numOctaves="2" seed="3" result="n"/><feColorMatrix type="matrix" values="0 0 0 0 0.12  0 0 0 0 0.30  0 0 0 0 0.52  2.4 0 0 0 -1.0"/></filter><filter id="dkAba" x="0" y="0" width="100%" height="100%" color-interpolation-filters="sRGB"><feTurbulence type="fractalNoise" baseFrequency="0.9" numOctaves="2" seed="14"/><feColorMatrix type="matrix" values="0 0 0 0 0.02  0 0 0 0 0.06  0 0 0 0 0.16  2.6 0 0 0 -1.0"/></filter><filter id="csAba" x="-5%" y="-60%" width="110%" height="220%" color-interpolation-filters="sRGB"><feTurbulence type="fractalNoise" baseFrequency="0.85" numOctaves="2" seed="8" result="n"/><feColorMatrix in="n" type="matrix" values="0 0 0 0 0.10  0 0 0 0 0.44  0 0 0 0 0.62  2.6 0 0 0 -0.95" result="c"/><feGaussianBlur in="SourceAlpha" stdDeviation="3" result="m"/><feComposite in="c" in2="m" operator="in"/></filter><filter id="sbAba" x="-5%" y="-50%" width="110%" height="200%"><feGaussianBlur stdDeviation="0.8"/></filter><filter id="sb2Aba" x="-5%" y="-50%" width="110%" height="200%"><feGaussianBlur stdDeviation="2.4"/></filter></defs><g clip-path="url(#bcAba)"><rect width="140.8" height="99.4" fill="#06112c"/><rect width="140.8" height="99.4" filter="url(#nzAba)"/><path d="M-4.0,34.0 L0.0,34.0 L15.0,36.8 L30.0,40.0 L45.0,43.0 L60.0,45.0 L72.0,45.8 L90.0,46.6 L110.0,47.0 L141.0,47.2 L144.8,47.2 L144.8,62.2 L141.0,62.2 L110.0,62.0 L90.0,61.6 L72.0,60.8 L60.0,60.0 L45.0,58.0 L30.0,55.0 L15.0,51.8 L0.0,49.0 L-4.0,49.0 Z" fill="#1a5a8a" opacity="0.25" filter="url(#sb2Aba)"/><path d="M-4.0,32.0 L0.0,32.0 L15.0,34.8 L30.0,38.0 L45.0,41.0 L60.0,43.0 L72.0,43.8 L90.0,44.6 L110.0,45.0 L141.0,45.2 L144.8,45.2 L144.8,64.2 L141.0,64.2 L110.0,64.0 L90.0,63.6 L72.0,62.8 L60.0,62.0 L45.0,60.0 L30.0,57.0 L15.0,53.8 L0.0,51.0 L-4.0,51.0 Z" fill="#000" opacity="0.85" filter="url(#csAba)"/><path d="M-4.0,31.5 L0.0,31.5 L15.0,34.3 L30.0,37.5 L45.0,40.5 L60.0,42.5 L72.0,43.3 L90.0,44.1 L110.0,44.5 L141.0,44.7 L144.8,44.7 L144.8,52.2 L141.0,52.2 L110.0,52.0 L90.0,51.6 L72.0,50.8 L60.0,50.0 L45.0,48.0 L30.0,45.0 L15.0,41.8 L0.0,39.0 L-4.0,39.0 Z" fill="#1aa878" opacity="0.75" filter="url(#sb2Aba)"/><path d="M-4.0,29.8 L0.0,29.8 L15.0,32.6 L30.0,35.8 L45.0,38.8 L60.0,40.8 L72.0,41.6 L90.0,42.4 L110.0,42.8 L141.0,43.0 L144.8,43.0 L144.8,46.8 L141.0,46.8 L110.0,46.6 L90.0,46.2 L72.0,45.4 L60.0,44.6 L45.0,42.6 L30.0,39.6 L15.0,36.4 L0.0,33.6 L-4.0,33.6 Z" fill="#70dc28" opacity="1" filter="url(#sbAba)"/><clipPath id="rcAba"><path d="M-4.0,15.4 L0.0,15.4 L15.0,17.0 L30.0,19.4 L45.0,21.5 L52.0,23.5 L58.0,26.5 L64.0,30.5 L69.0,32.0 L74.0,31.0 L80.0,28.0 L88.0,26.0 L100.0,25.5 L120.0,26.5 L141.0,28.4 L144.8,28.4 L144.8,43.2 L141.0,43.2 L110.0,43.0 L90.0,42.6 L72.0,41.8 L60.0,41.0 L45.0,39.0 L30.0,36.0 L15.0,32.8 L0.0,30.0 L-4.0,30.0 Z"/></clipPath><g clip-path="url(#rcAba)"><rect x="-5" y="0" width="150.8" height="99.4" fill="#3ccc40"/><path d="M-4.0,17.6 L0.0,17.6 L15.0,20.4 L30.0,23.6 L45.0,26.6 L60.0,28.6 L72.0,29.4 L90.0,30.2 L110.0,30.6 L141.0,30.8 L144.8,30.8 L144.8,33.2 L141.0,33.2 L110.0,33.0 L90.0,32.6 L72.0,31.8 L60.0,31.0 L45.0,29.0 L30.0,26.0 L15.0,22.8 L0.0,20.0 L-4.0,20.0 Z" fill="#1a9c78" opacity="0.7" filter="url(#sbAba)"/><path d="M-4.0,22.2 L0.0,22.2 L15.0,25.0 L30.0,28.2 L45.0,31.2 L60.0,33.2 L72.0,34.0 L90.0,34.8 L110.0,35.2 L141.0,35.4 L144.8,35.4 L144.8,40.8 L141.0,40.8 L110.0,40.6 L90.0,40.2 L72.0,39.4 L60.0,38.6 L45.0,36.6 L30.0,33.6 L15.0,30.4 L0.0,27.6 L-4.0,27.6 Z" fill="#12887e" opacity="0.95" filter="url(#sbAba)"/><path d="M-4.0,19.8 L0.0,19.8 L15.0,22.6 L30.0,25.8 L45.0,28.8 L60.0,30.8 L72.0,31.6 L90.0,32.4 L110.0,32.8 L141.0,33.0 L144.8,33.0 L144.8,34.8 L141.0,34.8 L110.0,34.6 L90.0,34.2 L72.0,33.4 L60.0,32.6 L45.0,30.6 L30.0,27.6 L15.0,24.4 L0.0,21.6 L-4.0,21.6 Z" fill="#48d040" opacity="0.9" filter="url(#sbAba)"/><path d="M-4.0,12.4 L0.0,12.4 L15.0,14.0 L30.0,16.4 L45.0,18.5 L52.0,20.5 L58.0,23.5 L64.0,27.5 L69.0,29.0 L74.0,28.0 L80.0,25.0 L88.0,23.0 L100.0,22.5 L120.0,23.5 L141.0,25.4 L144.8,25.4 L144.8,31.8 L141.0,31.8 L120.0,29.9 L100.0,28.9 L88.0,29.4 L80.0,31.4 L74.0,34.4 L69.0,35.4 L64.0,33.9 L58.0,29.9 L52.0,26.9 L45.0,24.9 L30.0,22.8 L15.0,20.4 L0.0,18.8 L-4.0,18.8 Z" fill="#98e820" opacity="1" filter="url(#sbAba)"/></g><path d="M-4.0,27.5 L0.0,27.5 L15.0,30.3 L30.0,33.5 L45.0,36.5 L60.0,38.5 L72.0,39.3 L90.0,40.1 L110.0,40.5 L141.0,40.7 L144.8,40.7 L144.8,43.7 L141.0,43.7 L110.0,43.5 L90.0,43.1 L72.0,42.3 L60.0,41.5 L45.0,39.5 L30.0,36.5 L15.0,33.3 L0.0,30.5 L-4.0,30.5 Z" fill="#e8c010" opacity="0.8" filter="url(#sbAba)"/><path d="M-4.0,28.1 L0.0,28.1 L15.0,30.9 L30.0,34.1 L45.0,37.1 L60.0,39.1 L72.0,39.9 L90.0,40.7 L110.0,41.1 L141.0,41.3 L144.8,41.3 L144.8,43.1 L141.0,43.1 L110.0,42.9 L90.0,42.5 L72.0,41.7 L60.0,40.9 L45.0,38.9 L30.0,35.9 L15.0,32.7 L0.0,29.9 L-4.0,29.9 Z" fill="#f04810" opacity="1" filter="url(#sbAba)"/><rect width="140.8" height="99.4" filter="url(#dkAba)" opacity="0.3"/></g><rect x="7.9" y="78.1" width="15.7" height="15.6" fill="none" stroke="#c4c4c4" stroke-width="0.8"/><line x1="7.9" y1="85.8" x2="23.6" y2="85.8" stroke="#c4c4c4" stroke-width="0.8"/><path d="M21.1,84.3 L23.1,85.8 L21.1,87.3" fill="none" stroke="#c4c4c4" stroke-width="0.6"/><text x="3.3000000000000007" y="87.69999999999999" font-size="5.3" text-anchor="start" font-weight="normal" fill="#d8d8d8" >T</text><text x="26.299999999999997" y="87.69999999999999" font-size="5.3" text-anchor="start" font-weight="normal" fill="#d8d8d8" >N</text></g>
<text x="173.6" y="262.3" font-size="5.45" text-anchor="start" font-weight="normal" fill="#222" >OS Horizontal B-Scan</text>
<text x="279.5" y="262.3" font-size="5.6" font-weight="bold" fill="#222" textLength="20.4" lengthAdjust="spacingAndGlyphs">BScan:</text>
<text x="304.3" y="262.3" font-size="5.6" text-anchor="start" font-weight="normal" fill="#222" >64</text>
<g transform="translate(172.2,264)"><defs><clipPath id="bcAbb"><rect width="140.8" height="99.6"/></clipPath><filter id="nzAbb" x="0" y="0" width="100%" height="100%" color-interpolation-filters="sRGB"><feTurbulence type="fractalNoise" baseFrequency="0.95" numOctaves="2" seed="7" result="n"/><feColorMatrix type="matrix" values="0 0 0 0 0.12  0 0 0 0 0.30  0 0 0 0 0.52  2.4 0 0 0 -1.0"/></filter><filter id="dkAbb" x="0" y="0" width="100%" height="100%" color-interpolation-filters="sRGB"><feTurbulence type="fractalNoise" baseFrequency="0.9" numOctaves="2" seed="18"/><feColorMatrix type="matrix" values="0 0 0 0 0.02  0 0 0 0 0.06  0 0 0 0 0.16  2.6 0 0 0 -1.0"/></filter><filter id="csAbb" x="-5%" y="-60%" width="110%" height="220%" color-interpolation-filters="sRGB"><feTurbulence type="fractalNoise" baseFrequency="0.85" numOctaves="2" seed="12" result="n"/><feColorMatrix in="n" type="matrix" values="0 0 0 0 0.10  0 0 0 0 0.44  0 0 0 0 0.62  2.6 0 0 0 -0.95" result="c"/><feGaussianBlur in="SourceAlpha" stdDeviation="3" result="m"/><feComposite in="c" in2="m" operator="in"/></filter><filter id="sbAbb" x="-5%" y="-50%" width="110%" height="200%"><feGaussianBlur stdDeviation="0.8"/></filter><filter id="sb2Abb" x="-5%" y="-50%" width="110%" height="200%"><feGaussianBlur stdDeviation="2.4"/></filter></defs><g clip-path="url(#bcAbb)"><rect width="140.8" height="99.6" fill="#06112c"/><rect width="140.8" height="99.6" filter="url(#nzAbb)"/><path d="M-4.0,68.6 L0.0,68.6 L35.0,67.0 L70.0,63.3 L100.0,58.0 L120.0,53.5 L141.0,48.4 L144.8,48.4 L144.8,63.4 L141.0,63.4 L120.0,68.5 L100.0,73.0 L70.0,78.3 L35.0,82.0 L0.0,83.6 L-4.0,83.6 Z" fill="#1a5a8a" opacity="0.25" filter="url(#sb2Abb)"/><path d="M-4.0,66.6 L0.0,66.6 L35.0,65.0 L70.0,61.3 L100.0,56.0 L120.0,51.5 L141.0,46.4 L144.8,46.4 L144.8,65.4 L141.0,65.4 L120.0,70.5 L100.0,75.0 L70.0,80.3 L35.0,84.0 L0.0,85.6 L-4.0,85.6 Z" fill="#000" opacity="0.85" filter="url(#csAbb)"/><path d="M-4.0,66.1 L0.0,66.1 L35.0,64.5 L70.0,60.8 L100.0,55.5 L120.0,51.0 L141.0,45.9 L144.8,45.9 L144.8,53.4 L141.0,53.4 L120.0,58.5 L100.0,63.0 L70.0,68.3 L35.0,72.0 L0.0,73.6 L-4.0,73.6 Z" fill="#1aa878" opacity="0.75" filter="url(#sb2Abb)"/><path d="M-4.0,64.4 L0.0,64.4 L35.0,62.8 L70.0,59.1 L100.0,53.8 L120.0,49.3 L141.0,44.2 L144.8,44.2 L144.8,48.0 L141.0,48.0 L120.0,53.1 L100.0,57.6 L70.0,62.9 L35.0,66.6 L0.0,68.2 L-4.0,68.2 Z" fill="#70dc28" opacity="1" filter="url(#sbAbb)"/><clipPath id="rcAbb"><path d="M-4.0,50.6 L0.0,50.6 L14.0,47.0 L28.0,44.5 L40.0,43.4 L50.0,44.5 L57.0,47.5 L64.0,49.8 L70.0,49.9 L76.0,46.5 L84.0,41.0 L92.0,38.4 L113.0,35.5 L141.0,30.4 L144.8,30.4 L144.8,44.4 L141.0,44.4 L120.0,49.5 L100.0,54.0 L70.0,59.3 L35.0,63.0 L0.0,64.6 L-4.0,64.6 Z"/></clipPath><g clip-path="url(#rcAbb)"><rect x="-5" y="0" width="150.8" height="99.6" fill="#34c448"/><path d="M-4.0,52.2 L0.0,52.2 L35.0,50.6 L70.0,46.9 L100.0,41.6 L120.0,37.1 L141.0,32.0 L144.8,32.0 L144.8,34.4 L141.0,34.4 L120.0,39.5 L100.0,44.0 L70.0,49.3 L35.0,53.0 L0.0,54.6 L-4.0,54.6 Z" fill="#1a9c78" opacity="0.7" filter="url(#sbAbb)"/><path d="M-4.0,56.8 L0.0,56.8 L35.0,55.2 L70.0,51.5 L100.0,46.2 L120.0,41.7 L141.0,36.6 L144.8,36.6 L144.8,42.0 L141.0,42.0 L120.0,47.1 L100.0,51.6 L70.0,56.9 L35.0,60.6 L0.0,62.2 L-4.0,62.2 Z" fill="#12887e" opacity="0.95" filter="url(#sbAbb)"/><path d="M-4.0,54.4 L0.0,54.4 L35.0,52.8 L70.0,49.1 L100.0,43.8 L120.0,39.3 L141.0,34.2 L144.8,34.2 L144.8,36.0 L141.0,36.0 L120.0,41.1 L100.0,45.6 L70.0,50.9 L35.0,54.6 L0.0,56.2 L-4.0,56.2 Z" fill="#48d040" opacity="0.9" filter="url(#sbAbb)"/><path d="M-4.0,47.6 L0.0,47.6 L14.0,44.0 L28.0,41.5 L40.0,40.4 L50.0,41.5 L57.0,44.5 L64.0,46.8 L70.0,46.9 L76.0,43.5 L84.0,38.0 L92.0,35.4 L113.0,32.5 L141.0,27.4 L144.8,27.4 L144.8,33.8 L141.0,33.8 L113.0,38.9 L92.0,41.8 L84.0,44.4 L76.0,49.9 L70.0,53.3 L64.0,53.2 L57.0,50.9 L50.0,47.9 L40.0,46.8 L28.0,47.9 L14.0,50.4 L0.0,54.0 L-4.0,54.0 Z" fill="#78e428" opacity="1" filter="url(#sbAbb)"/></g><path d="M-4.0,62.1 L0.0,62.1 L35.0,60.5 L70.0,56.8 L100.0,51.5 L120.0,47.0 L141.0,41.9 L144.8,41.9 L144.8,44.9 L141.0,44.9 L120.0,50.0 L100.0,54.5 L70.0,59.8 L35.0,63.5 L0.0,65.1 L-4.0,65.1 Z" fill="#c0ec20" opacity="0.8" filter="url(#sbAbb)"/><path d="M-4.0,62.7 L0.0,62.7 L35.0,61.1 L70.0,57.4 L100.0,52.1 L120.0,47.6 L141.0,42.5 L144.8,42.5 L144.8,44.3 L141.0,44.3 L120.0,49.4 L100.0,53.9 L70.0,59.2 L35.0,62.9 L0.0,64.5 L-4.0,64.5 Z" fill="#ecc810" opacity="1" filter="url(#sbAbb)"/><rect width="140.8" height="99.6" filter="url(#dkAbb)" opacity="0.3"/></g><rect x="7.9" y="78.1" width="15.7" height="15.6" fill="none" stroke="#c4c4c4" stroke-width="0.8"/><line x1="7.9" y1="85.8" x2="23.6" y2="85.8" stroke="#c4c4c4" stroke-width="0.8"/><path d="M21.1,84.3 L23.1,85.8 L21.1,87.3" fill="none" stroke="#c4c4c4" stroke-width="0.6"/><text x="3.3000000000000007" y="87.69999999999999" font-size="5.3" text-anchor="start" font-weight="normal" fill="#d8d8d8" >N</text><text x="26.299999999999997" y="87.69999999999999" font-size="5.3" text-anchor="start" font-weight="normal" fill="#d8d8d8" >T</text></g>
<line x1="0" y1="373.3" x2="315.5" y2="373.3" stroke="#555" stroke-width="1.4"/>
<rect x="0.6" y="376.3" width="134.6" height="38.3" fill="none" stroke="#999" stroke-width="1.1"/>
<text x="1.9" y="383.5" font-size="6.45" text-anchor="start" font-weight="normal" fill="#222" >Comments</text>
<text x="139.9" y="382.8" font-size="6.4" text-anchor="start" font-weight="normal" fill="#222" >Doctor's Signature</text>
<line x1="139" y1="412.2" x2="250" y2="412.2" stroke="#555" stroke-width="0.8"/>
<text x="255.6" y="386.7" font-size="5.1" text-anchor="start" font-weight="normal" fill="#222" >SW Ver: 8.1.0.117</text>
<text x="255.6" y="392.3" font-size="5.1" text-anchor="start" font-weight="normal" fill="#222" >Copyright 2015</text>
<text x="255.6" y="397.9" font-size="5.1" text-anchor="start" font-weight="normal" fill="#222" >Carl Zeiss Meditec, Inc</text>
<text x="255.6" y="403.5" font-size="5.1" text-anchor="start" font-weight="normal" fill="#222" >All Rights Reserved</text>
<text x="255.6" y="412.5" font-size="5.3" text-anchor="start" font-weight="normal" fill="#222" >Page 1 of 1</text>
</g>
<g transform="translate(367.3,0)">
<line x1="0.5" y1="4.4" x2="316" y2="4.4" stroke="#8a8a8a" stroke-width="1"/>
<line x1="0.5" y1="18.3" x2="316" y2="18.3" stroke="#4a4a4a" stroke-width="1.5"/>
<line x1="279.6" y1="4.4" x2="279.6" y2="18.3" stroke="#8a8a8a" stroke-width="0.9"/>
<text x="2.2" y="13.9" font-size="9.7" font-weight="bold" fill="#111" stroke="#111" stroke-width="0.22" textLength="237.6" lengthAdjust="spacingAndGlyphs">Macula Thickness OU: Macular Cube 512x128</text>
<text x="248.2" y="13.9" font-size="9.7" font-weight="bold" fill="#111" stroke="#111" stroke-width="0.22" textLength="14.2" lengthAdjust="spacingAndGlyphs">OD</text>
<circle cx="270.7" cy="10.9" r="3.7" fill="#06068a"/>
<circle cx="288.2" cy="10.9" r="3.7" fill="#06068a"/>
<text x="297.2" y="13.9" font-size="9.7" font-weight="bold" fill="#111" stroke="#111" stroke-width="0.22" textLength="13.6" lengthAdjust="spacingAndGlyphs">OS</text>
<text x="69.5" y="31.1" font-size="5.55" text-anchor="middle" font-weight="normal" fill="#222" >OD ILM-RPE Thickness Map</text>
<text x="254.6" y="31.1" font-size="5.55" text-anchor="middle" font-weight="normal" fill="#222" >OS ILM-RPE Thickness Map</text>
<g transform="translate(23,33)"><defs><clipPath id="cpBa"><rect width="92" height="92"/></clipPath><filter id="blBa" x="-5%" y="-5%" width="110%" height="110%"><feGaussianBlur stdDeviation="1.6"/></filter><filter id="bsBa" x="-50%" y="-50%" width="200%" height="200%"><feGaussianBlur stdDeviation="1.1"/></filter><filter id="btBa" x="-50%" y="-50%" width="200%" height="200%"><feGaussianBlur stdDeviation="0.6"/></filter></defs><g clip-path="url(#cpBa)"><g filter="url(#blBa)" shape-rendering="crispEdges"><rect x="-3" y="-3" width="3" height="3" fill="#13b"/><rect x="0" y="-3" width="6" height="3" fill="#13a"/><rect x="6" y="-3" width="3" height="3" fill="#14b"/><rect x="9" y="-3" width="3" height="3" fill="#15c"/><rect x="12" y="-3" width="3" height="3" fill="#16c"/><rect x="15" y="-3" width="3" height="3" fill="#17d"/><rect x="18" y="-3" width="3" height="3" fill="#18d"/><rect x="21" y="-3" width="3" height="3" fill="#1ad"/><rect x="24" y="-3" width="3" height="3" fill="#0bd"/><rect x="27" y="-3" width="3" height="3" fill="#0bc"/><rect x="30" y="-3" width="3" height="3" fill="#0bb"/><rect x="33" y="-3" width="3" height="3" fill="#0cb"/><rect x="36" y="-3" width="3" height="3" fill="#0ca"/><rect x="39" y="-3" width="3" height="3" fill="#0c9"/><rect x="42" y="-3" width="3" height="3" fill="#0d8"/><rect x="45" y="-3" width="6" height="3" fill="#0d7"/><rect x="51" y="-3" width="18" height="3" fill="#0d6"/><rect x="69" y="-3" width="12" height="3" fill="#0d7"/><rect x="81" y="-3" width="15" height="3" fill="#0d8"/><rect x="-3" y="0" width="9" height="3" fill="#13a"/><rect x="6" y="0" width="3" height="3" fill="#14b"/><rect x="9" y="0" width="3" height="3" fill="#15c"/><rect x="12" y="0" width="3" height="3" fill="#16c"/><rect x="15" y="0" width="3" height="3" fill="#17d"/><rect x="18" y="0" width="3" height="3" fill="#18d"/><rect x="21" y="0" width="3" height="3" fill="#1ad"/><rect x="24" y="0" width="3" height="3" fill="#0bd"/><rect x="27" y="0" width="3" height="3" fill="#0bc"/><rect x="30" y="0" width="3" height="3" fill="#0cb"/><rect x="33" y="0" width="3" height="3" fill="#0ca"/><rect x="36" y="0" width="3" height="3" fill="#0d9"/><rect x="39" y="0" width="3" height="3" fill="#0d8"/><rect x="42" y="0" width="3" height="3" fill="#0d7"/><rect x="45" y="0" width="6" height="3" fill="#0d6"/><rect x="51" y="0" width="21" height="3" fill="#0d5"/><rect x="72" y="0" width="12" height="3" fill="#0d6"/><rect x="84" y="0" width="6" height="3" fill="#0d7"/><rect x="90" y="0" width="6" height="3" fill="#0d8"/><rect x="-3" y="3" width="9" height="3" fill="#13a"/><rect x="6" y="3" width="3" height="3" fill="#14b"/><rect x="9" y="3" width="3" height="3" fill="#15c"/><rect x="12" y="3" width="3" height="3" fill="#16c"/><rect x="15" y="3" width="3" height="3" fill="#17d"/><rect x="18" y="3" width="3" height="3" fill="#19d"/><rect x="21" y="3" width="3" height="3" fill="#0bd"/><rect x="24" y="3" width="3" height="3" fill="#0bb"/><rect x="27" y="3" width="3" height="3" fill="#0ca"/><rect x="30" y="3" width="3" height="3" fill="#0c9"/><rect x="33" y="3" width="3" height="3" fill="#0d8"/><rect x="36" y="3" width="3" height="3" fill="#0d7"/><rect x="39" y="3" width="3" height="3" fill="#0d6"/><rect x="42" y="3" width="3" height="3" fill="#0d5"/><rect x="45" y="3" width="3" height="3" fill="#0e5"/><rect x="48" y="3" width="27" height="3" fill="#0e4"/><rect x="75" y="3" width="6" height="3" fill="#0e5"/><rect x="81" y="3" width="6" height="3" fill="#0d5"/><rect x="87" y="3" width="3" height="3" fill="#0d6"/><rect x="90" y="3" width="6" height="3" fill="#0d7"/><rect x="-3" y="6" width="9" height="3" fill="#13a"/><rect x="6" y="6" width="3" height="3" fill="#14b"/><rect x="9" y="6" width="3" height="3" fill="#15c"/><rect x="12" y="6" width="3" height="3" fill="#17d"/><rect x="15" y="6" width="3" height="3" fill="#19d"/><rect x="18" y="6" width="3" height="3" fill="#0bc"/><rect x="21" y="6" width="3" height="3" fill="#0cb"/><rect x="24" y="6" width="3" height="3" fill="#0ca"/><rect x="27" y="6" width="3" height="3" fill="#0d8"/><rect x="30" y="6" width="3" height="3" fill="#0d7"/><rect x="33" y="6" width="3" height="3" fill="#0d6"/><rect x="36" y="6" width="3" height="3" fill="#0d5"/><rect x="39" y="6" width="6" height="3" fill="#0e4"/><rect x="45" y="6" width="33" height="3" fill="#0e3"/><rect x="78" y="6" width="9" height="3" fill="#0e4"/><rect x="87" y="6" width="3" height="3" fill="#0e5"/><rect x="90" y="6" width="3" height="3" fill="#0d5"/><rect x="93" y="6" width="3" height="3" fill="#0d6"/><rect x="-3" y="9" width="6" height="3" fill="#13a"/><rect x="3" y="9" width="3" height="3" fill="#14b"/><rect x="6" y="9" width="3" height="3" fill="#15c"/><rect x="9" y="9" width="3" height="3" fill="#17c"/><rect x="12" y="9" width="3" height="3" fill="#19d"/><rect x="15" y="9" width="3" height="3" fill="#0bc"/><rect x="18" y="9" width="3" height="3" fill="#0cb"/><rect x="21" y="9" width="3" height="3" fill="#0c9"/><rect x="24" y="9" width="3" height="3" fill="#0d7"/><rect x="27" y="9" width="3" height="3" fill="#0d6"/><rect x="30" y="9" width="3" height="3" fill="#0e5"/><rect x="33" y="9" width="3" height="3" fill="#0e4"/><rect x="36" y="9" width="6" height="3" fill="#0e3"/><rect x="42" y="9" width="6" height="3" fill="#0e2"/><rect x="48" y="9" width="24" height="3" fill="#1e2"/><rect x="72" y="9" width="9" height="3" fill="#0e2"/><rect x="81" y="9" width="6" height="3" fill="#0e3"/><rect x="87" y="9" width="6" height="3" fill="#0e4"/><rect x="93" y="9" width="3" height="3" fill="#0d5"/><rect x="-3" y="12" width="6" height="3" fill="#14b"/><rect x="3" y="12" width="3" height="3" fill="#14c"/><rect x="6" y="12" width="3" height="3" fill="#16c"/><rect x="9" y="12" width="3" height="3" fill="#18d"/><rect x="12" y="12" width="3" height="3" fill="#0bc"/><rect x="15" y="12" width="3" height="3" fill="#0ca"/><rect x="18" y="12" width="3" height="3" fill="#0d8"/><rect x="21" y="12" width="3" height="3" fill="#0d6"/><rect x="24" y="12" width="3" height="3" fill="#0d5"/><rect x="27" y="12" width="3" height="3" fill="#0e4"/><rect x="30" y="12" width="3" height="3" fill="#0e3"/><rect x="33" y="12" width="3" height="3" fill="#0e2"/><rect x="36" y="12" width="3" height="3" fill="#1e2"/><rect x="39" y="12" width="6" height="3" fill="#2e1"/><rect x="45" y="12" width="6" height="3" fill="#3e1"/><rect x="51" y="12" width="15" height="3" fill="#2e1"/><rect x="66" y="12" width="9" height="3" fill="#2e2"/><rect x="75" y="12" width="9" height="3" fill="#1e2"/><rect x="84" y="12" width="3" height="3" fill="#0e2"/><rect x="87" y="12" width="6" height="3" fill="#0e3"/><rect x="93" y="12" width="3" height="3" fill="#0e4"/><rect x="-3" y="15" width="6" height="3" fill="#14b"/><rect x="3" y="15" width="3" height="3" fill="#15c"/><rect x="6" y="15" width="3" height="3" fill="#17d"/><rect x="9" y="15" width="3" height="3" fill="#0ad"/><rect x="12" y="15" width="3" height="3" fill="#0cb"/><rect x="15" y="15" width="3" height="3" fill="#0d8"/><rect x="18" y="15" width="3" height="3" fill="#0d6"/><rect x="21" y="15" width="3" height="3" fill="#0e5"/><rect x="24" y="15" width="3" height="3" fill="#0e3"/><rect x="27" y="15" width="3" height="3" fill="#0e2"/><rect x="30" y="15" width="3" height="3" fill="#2e2"/><rect x="33" y="15" width="6" height="3" fill="#3e1"/><rect x="39" y="15" width="6" height="3" fill="#4e0"/><rect x="45" y="15" width="6" height="3" fill="#5e0"/><rect x="51" y="15" width="6" height="3" fill="#4e0"/><rect x="57" y="15" width="3" height="3" fill="#4e1"/><rect x="60" y="15" width="15" height="3" fill="#3e1"/><rect x="75" y="15" width="9" height="3" fill="#2e1"/><rect x="84" y="15" width="6" height="3" fill="#1e2"/><rect x="90" y="15" width="3" height="3" fill="#0e3"/><rect x="93" y="15" width="3" height="3" fill="#0e4"/><rect x="-3" y="18" width="3" height="3" fill="#14b"/><rect x="0" y="18" width="3" height="3" fill="#15c"/><rect x="3" y="18" width="3" height="3" fill="#16c"/><rect x="6" y="18" width="3" height="3" fill="#18d"/><rect x="9" y="18" width="3" height="3" fill="#0bc"/><rect x="12" y="18" width="3" height="3" fill="#0c9"/><rect x="15" y="18" width="3" height="3" fill="#0d6"/><rect x="18" y="18" width="3" height="3" fill="#0e5"/><rect x="21" y="18" width="3" height="3" fill="#0e3"/><rect x="24" y="18" width="3" height="3" fill="#1e2"/><rect x="27" y="18" width="3" height="3" fill="#3e1"/><rect x="30" y="18" width="3" height="3" fill="#4e0"/><rect x="33" y="18" width="3" height="3" fill="#5e0"/><rect x="36" y="18" width="3" height="3" fill="#7e0"/><rect x="39" y="18" width="12" height="3" fill="#8e0"/><rect x="51" y="18" width="3" height="3" fill="#7e0"/><rect x="54" y="18" width="6" height="3" fill="#6e0"/><rect x="60" y="18" width="3" height="3" fill="#5e0"/><rect x="63" y="18" width="3" height="3" fill="#4e0"/><rect x="66" y="18" width="6" height="3" fill="#4e1"/><rect x="72" y="18" width="12" height="3" fill="#3e1"/><rect x="84" y="18" width="3" height="3" fill="#2e1"/><rect x="87" y="18" width="3" height="3" fill="#2e2"/><rect x="90" y="18" width="3" height="3" fill="#1e2"/><rect x="93" y="18" width="3" height="3" fill="#0e3"/><rect x="-3" y="21" width="6" height="3" fill="#15c"/><rect x="3" y="21" width="3" height="3" fill="#17d"/><rect x="6" y="21" width="3" height="3" fill="#1ad"/><rect x="9" y="21" width="3" height="3" fill="#0cb"/><rect x="12" y="21" width="3" height="3" fill="#0d8"/><rect x="15" y="21" width="3" height="3" fill="#0d5"/><rect x="18" y="21" width="3" height="3" fill="#0e3"/><rect x="21" y="21" width="3" height="3" fill="#1e2"/><rect x="24" y="21" width="3" height="3" fill="#3e1"/><rect x="27" y="21" width="3" height="3" fill="#5e0"/><rect x="30" y="21" width="3" height="3" fill="#7e0"/><rect x="33" y="21" width="3" height="3" fill="#9e0"/><rect x="36" y="21" width="3" height="3" fill="#ae0"/><rect x="39" y="21" width="15" height="3" fill="#be0"/><rect x="54" y="21" width="3" height="3" fill="#ae0"/><rect x="57" y="21" width="3" height="3" fill="#9e0"/><rect x="60" y="21" width="3" height="3" fill="#7e0"/><rect x="63" y="21" width="3" height="3" fill="#6e0"/><rect x="66" y="21" width="3" height="3" fill="#5e0"/><rect x="69" y="21" width="12" height="3" fill="#4e0"/><rect x="81" y="21" width="3" height="3" fill="#4e1"/><rect x="84" y="21" width="3" height="3" fill="#3e1"/><rect x="87" y="21" width="3" height="3" fill="#2e1"/><rect x="90" y="21" width="3" height="3" fill="#1e2"/><rect x="93" y="21" width="3" height="3" fill="#0e2"/><rect x="-3" y="24" width="6" height="3" fill="#15c"/><rect x="3" y="24" width="3" height="3" fill="#17d"/><rect x="6" y="24" width="3" height="3" fill="#0ad"/><rect x="9" y="24" width="3" height="3" fill="#0cb"/><rect x="12" y="24" width="3" height="3" fill="#0d7"/><rect x="15" y="24" width="3" height="3" fill="#0e4"/><rect x="18" y="24" width="3" height="3" fill="#1e2"/><rect x="21" y="24" width="3" height="3" fill="#3e1"/><rect x="24" y="24" width="3" height="3" fill="#5e0"/><rect x="27" y="24" width="3" height="3" fill="#8e0"/><rect x="30" y="24" width="3" height="3" fill="#ae0"/><rect x="33" y="24" width="3" height="3" fill="#be0"/><rect x="36" y="24" width="6" height="3" fill="#ce0"/><rect x="42" y="24" width="9" height="3" fill="#df0"/><rect x="51" y="24" width="3" height="3" fill="#cf0"/><rect x="54" y="24" width="6" height="3" fill="#ce0"/><rect x="60" y="24" width="3" height="3" fill="#ae0"/><rect x="63" y="24" width="3" height="3" fill="#8e0"/><rect x="66" y="24" width="3" height="3" fill="#7e0"/><rect x="69" y="24" width="3" height="3" fill="#6e0"/><rect x="72" y="24" width="9" height="3" fill="#5e0"/><rect x="81" y="24" width="3" height="3" fill="#4e0"/><rect x="84" y="24" width="3" height="3" fill="#4e1"/><rect x="87" y="24" width="3" height="3" fill="#3e1"/><rect x="90" y="24" width="3" height="3" fill="#2e1"/><rect x="93" y="24" width="3" height="3" fill="#1e2"/><rect x="-3" y="27" width="3" height="3" fill="#15c"/><rect x="0" y="27" width="3" height="3" fill="#16c"/><rect x="3" y="27" width="3" height="3" fill="#17d"/><rect x="6" y="27" width="3" height="3" fill="#0bd"/><rect x="9" y="27" width="3" height="3" fill="#0ca"/><rect x="12" y="27" width="3" height="3" fill="#0d6"/><rect x="15" y="27" width="3" height="3" fill="#0e3"/><rect x="18" y="27" width="3" height="3" fill="#2e1"/><rect x="21" y="27" width="3" height="3" fill="#5e0"/><rect x="24" y="27" width="3" height="3" fill="#8e0"/><rect x="27" y="27" width="3" height="3" fill="#be0"/><rect x="30" y="27" width="3" height="3" fill="#ce0"/><rect x="33" y="27" width="3" height="3" fill="#df0"/><rect x="36" y="27" width="3" height="3" fill="#cf0"/><rect x="39" y="27" width="6" height="3" fill="#ce0"/><rect x="45" y="27" width="15" height="3" fill="#df0"/><rect x="60" y="27" width="3" height="3" fill="#ce0"/><rect x="63" y="27" width="3" height="3" fill="#be0"/><rect x="66" y="27" width="3" height="3" fill="#8e0"/><rect x="69" y="27" width="3" height="3" fill="#7e0"/><rect x="72" y="27" width="3" height="3" fill="#6e0"/><rect x="75" y="27" width="6" height="3" fill="#5e0"/><rect x="81" y="27" width="6" height="3" fill="#4e0"/><rect x="87" y="27" width="3" height="3" fill="#3e1"/><rect x="90" y="27" width="3" height="3" fill="#2e1"/><rect x="93" y="27" width="3" height="3" fill="#1e2"/><rect x="-3" y="30" width="3" height="3" fill="#15c"/><rect x="0" y="30" width="3" height="3" fill="#16c"/><rect x="3" y="30" width="3" height="3" fill="#18d"/><rect x="6" y="30" width="3" height="3" fill="#0bd"/><rect x="9" y="30" width="3" height="3" fill="#0ca"/><rect x="12" y="30" width="3" height="3" fill="#0d6"/><rect x="15" y="30" width="3" height="3" fill="#0e2"/><rect x="18" y="30" width="3" height="3" fill="#3e1"/><rect x="21" y="30" width="3" height="3" fill="#7e0"/><rect x="24" y="30" width="3" height="3" fill="#ae0"/><rect x="27" y="30" width="15" height="3" fill="#ce0"/><rect x="42" y="30" width="3" height="3" fill="#be0"/><rect x="45" y="30" width="6" height="3" fill="#ce0"/><rect x="51" y="30" width="6" height="3" fill="#df0"/><rect x="57" y="30" width="3" height="3" fill="#ef0"/><rect x="60" y="30" width="3" height="3" fill="#df0"/><rect x="63" y="30" width="3" height="3" fill="#ce0"/><rect x="66" y="30" width="3" height="3" fill="#ae0"/><rect x="69" y="30" width="3" height="3" fill="#8e0"/><rect x="72" y="30" width="3" height="3" fill="#7e0"/><rect x="75" y="30" width="9" height="3" fill="#5e0"/><rect x="84" y="30" width="3" height="3" fill="#4e0"/><rect x="87" y="30" width="3" height="3" fill="#3e1"/><rect x="90" y="30" width="3" height="3" fill="#2e1"/><rect x="93" y="30" width="3" height="3" fill="#1e2"/><rect x="-3" y="33" width="3" height="3" fill="#15c"/><rect x="0" y="33" width="3" height="3" fill="#16c"/><rect x="3" y="33" width="3" height="3" fill="#18d"/><rect x="6" y="33" width="3" height="3" fill="#0bc"/><rect x="9" y="33" width="3" height="3" fill="#0c9"/><rect x="12" y="33" width="3" height="3" fill="#0d5"/><rect x="15" y="33" width="3" height="3" fill="#1e2"/><rect x="18" y="33" width="3" height="3" fill="#4e0"/><rect x="21" y="33" width="3" height="3" fill="#9e0"/><rect x="24" y="33" width="3" height="3" fill="#be0"/><rect x="27" y="33" width="9" height="3" fill="#ce0"/><rect x="36" y="33" width="3" height="3" fill="#9e0"/><rect x="39" y="33" width="3" height="3" fill="#7e0"/><rect x="42" y="33" width="3" height="3" fill="#5e0"/><rect x="45" y="33" width="3" height="3" fill="#6e0"/><rect x="48" y="33" width="3" height="3" fill="#8e0"/><rect x="51" y="33" width="3" height="3" fill="#be0"/><rect x="54" y="33" width="6" height="3" fill="#df0"/><rect x="60" y="33" width="3" height="3" fill="#ef0"/><rect x="63" y="33" width="3" height="3" fill="#df0"/><rect x="66" y="33" width="3" height="3" fill="#ce0"/><rect x="69" y="33" width="3" height="3" fill="#9e0"/><rect x="72" y="33" width="3" height="3" fill="#7e0"/><rect x="75" y="33" width="3" height="3" fill="#6e0"/><rect x="78" y="33" width="3" height="3" fill="#5e0"/><rect x="81" y="33" width="6" height="3" fill="#4e0"/><rect x="87" y="33" width="3" height="3" fill="#3e1"/><rect x="90" y="33" width="3" height="3" fill="#2e1"/><rect x="93" y="33" width="3" height="3" fill="#1e2"/><rect x="-3" y="36" width="6" height="3" fill="#16c"/><rect x="3" y="36" width="3" height="3" fill="#18d"/><rect x="6" y="36" width="3" height="3" fill="#0bc"/><rect x="9" y="36" width="3" height="3" fill="#0c9"/><rect x="12" y="36" width="3" height="3" fill="#0e5"/><rect x="15" y="36" width="3" height="3" fill="#1e2"/><rect x="18" y="36" width="3" height="3" fill="#6e0"/><rect x="21" y="36" width="3" height="3" fill="#ae0"/><rect x="24" y="36" width="9" height="3" fill="#ce0"/><rect x="33" y="36" width="3" height="3" fill="#8e0"/><rect x="36" y="36" width="3" height="3" fill="#3e1"/><rect x="39" y="36" width="3" height="3" fill="#0e2"/><rect x="42" y="36" width="3" height="3" fill="#0e3"/><rect x="45" y="36" width="3" height="3" fill="#0e2"/><rect x="48" y="36" width="3" height="3" fill="#1e2"/><rect x="51" y="36" width="3" height="3" fill="#7e0"/><rect x="54" y="36" width="3" height="3" fill="#be0"/><rect x="57" y="36" width="3" height="3" fill="#df0"/><rect x="60" y="36" width="3" height="3" fill="#ef0"/><rect x="63" y="36" width="3" height="3" fill="#df0"/><rect x="66" y="36" width="3" height="3" fill="#ce0"/><rect x="69" y="36" width="3" height="3" fill="#ae0"/><rect x="72" y="36" width="3" height="3" fill="#8e0"/><rect x="75" y="36" width="3" height="3" fill="#6e0"/><rect x="78" y="36" width="3" height="3" fill="#5e0"/><rect x="81" y="36" width="3" height="3" fill="#4e0"/><rect x="84" y="36" width="3" height="3" fill="#4e1"/><rect x="87" y="36" width="3" height="3" fill="#3e1"/><rect x="90" y="36" width="3" height="3" fill="#2e2"/><rect x="93" y="36" width="3" height="3" fill="#0e2"/><rect x="-3" y="39" width="6" height="3" fill="#16c"/><rect x="3" y="39" width="3" height="3" fill="#19d"/><rect x="6" y="39" width="3" height="3" fill="#0bc"/><rect x="9" y="39" width="3" height="3" fill="#0d8"/><rect x="12" y="39" width="3" height="3" fill="#0e4"/><rect x="15" y="39" width="3" height="3" fill="#2e1"/><rect x="18" y="39" width="3" height="3" fill="#7e0"/><rect x="21" y="39" width="3" height="3" fill="#ae0"/><rect x="24" y="39" width="6" height="3" fill="#ce0"/><rect x="30" y="39" width="3" height="3" fill="#ae0"/><rect x="33" y="39" width="3" height="3" fill="#4e0"/><rect x="36" y="39" width="3" height="3" fill="#0e3"/><rect x="39" y="39" width="3" height="3" fill="#0ca"/><rect x="42" y="39" width="3" height="3" fill="#16c"/><rect x="45" y="39" width="3" height="3" fill="#17d"/><rect x="48" y="39" width="3" height="3" fill="#0e5"/><rect x="51" y="39" width="3" height="3" fill="#1e2"/><rect x="54" y="39" width="3" height="3" fill="#8e0"/><rect x="57" y="39" width="3" height="3" fill="#cf0"/><rect x="60" y="39" width="6" height="3" fill="#df0"/><rect x="66" y="39" width="3" height="3" fill="#ce0"/><rect x="69" y="39" width="3" height="3" fill="#be0"/><rect x="72" y="39" width="3" height="3" fill="#8e0"/><rect x="75" y="39" width="3" height="3" fill="#6e0"/><rect x="78" y="39" width="6" height="3" fill="#4e0"/><rect x="84" y="39" width="3" height="3" fill="#3e1"/><rect x="87" y="39" width="3" height="3" fill="#2e1"/><rect x="90" y="39" width="3" height="3" fill="#1e2"/><rect x="93" y="39" width="3" height="3" fill="#0e2"/><rect x="-3" y="42" width="3" height="3" fill="#16c"/><rect x="0" y="42" width="3" height="3" fill="#17d"/><rect x="3" y="42" width="3" height="3" fill="#19d"/><rect x="6" y="42" width="3" height="3" fill="#0bc"/><rect x="9" y="42" width="3" height="3" fill="#0d8"/><rect x="12" y="42" width="3" height="3" fill="#0e4"/><rect x="15" y="42" width="3" height="3" fill="#2e1"/><rect x="18" y="42" width="3" height="3" fill="#7e0"/><rect x="21" y="42" width="3" height="3" fill="#be0"/><rect x="24" y="42" width="3" height="3" fill="#ce0"/><rect x="27" y="42" width="3" height="3" fill="#be0"/><rect x="30" y="42" width="3" height="3" fill="#8e0"/><rect x="33" y="42" width="3" height="3" fill="#1e2"/><rect x="36" y="42" width="3" height="3" fill="#0d6"/><rect x="39" y="42" width="3" height="3" fill="#14b"/><rect x="42" y="42" width="3" height="3" fill="#129"/><rect x="45" y="42" width="3" height="3" fill="#13a"/><rect x="48" y="42" width="3" height="3" fill="#17d"/><rect x="51" y="42" width="3" height="3" fill="#0e2"/><rect x="54" y="42" width="3" height="3" fill="#5e0"/><rect x="57" y="42" width="3" height="3" fill="#be0"/><rect x="60" y="42" width="3" height="3" fill="#df0"/><rect x="63" y="42" width="3" height="3" fill="#ef0"/><rect x="66" y="42" width="3" height="3" fill="#ce0"/><rect x="69" y="42" width="3" height="3" fill="#be0"/><rect x="72" y="42" width="3" height="3" fill="#7e0"/><rect x="75" y="42" width="3" height="3" fill="#5e0"/><rect x="78" y="42" width="3" height="3" fill="#4e0"/><rect x="81" y="42" width="6" height="3" fill="#3e1"/><rect x="87" y="42" width="3" height="3" fill="#2e1"/><rect x="90" y="42" width="3" height="3" fill="#1e2"/><rect x="93" y="42" width="3" height="3" fill="#0e3"/><rect x="-3" y="45" width="3" height="3" fill="#16c"/><rect x="0" y="45" width="3" height="3" fill="#17d"/><rect x="3" y="45" width="3" height="3" fill="#19d"/><rect x="6" y="45" width="3" height="3" fill="#0bc"/><rect x="9" y="45" width="3" height="3" fill="#0d8"/><rect x="12" y="45" width="3" height="3" fill="#0e4"/><rect x="15" y="45" width="3" height="3" fill="#3e1"/><rect x="18" y="45" width="3" height="3" fill="#7e0"/><rect x="21" y="45" width="3" height="3" fill="#be0"/><rect x="24" y="45" width="3" height="3" fill="#ce0"/><rect x="27" y="45" width="3" height="3" fill="#be0"/><rect x="30" y="45" width="3" height="3" fill="#7e0"/><rect x="33" y="45" width="3" height="3" fill="#1e2"/><rect x="36" y="45" width="3" height="3" fill="#0c9"/><rect x="39" y="45" width="3" height="3" fill="#13a"/><rect x="42" y="45" width="6" height="3" fill="#129"/><rect x="48" y="45" width="3" height="3" fill="#15c"/><rect x="51" y="45" width="3" height="3" fill="#0e3"/><rect x="54" y="45" width="3" height="3" fill="#4e0"/><rect x="57" y="45" width="3" height="3" fill="#be0"/><rect x="60" y="45" width="6" height="3" fill="#df0"/><rect x="66" y="45" width="3" height="3" fill="#ce0"/><rect x="69" y="45" width="3" height="3" fill="#ae0"/><rect x="72" y="45" width="3" height="3" fill="#7e0"/><rect x="75" y="45" width="3" height="3" fill="#5e0"/><rect x="78" y="45" width="6" height="3" fill="#3e1"/><rect x="84" y="45" width="3" height="3" fill="#2e1"/><rect x="87" y="45" width="3" height="3" fill="#1e2"/><rect x="90" y="45" width="3" height="3" fill="#0e2"/><rect x="93" y="45" width="3" height="3" fill="#0e3"/><rect x="-3" y="48" width="3" height="3" fill="#16c"/><rect x="0" y="48" width="3" height="3" fill="#17d"/><rect x="3" y="48" width="3" height="3" fill="#19d"/><rect x="6" y="48" width="3" height="3" fill="#0bc"/><rect x="9" y="48" width="3" height="3" fill="#0d8"/><rect x="12" y="48" width="3" height="3" fill="#0e4"/><rect x="15" y="48" width="3" height="3" fill="#2e1"/><rect x="18" y="48" width="3" height="3" fill="#7e0"/><rect x="21" y="48" width="3" height="3" fill="#ae0"/><rect x="24" y="48" width="3" height="3" fill="#ce0"/><rect x="27" y="48" width="3" height="3" fill="#be0"/><rect x="30" y="48" width="3" height="3" fill="#8e0"/><rect x="33" y="48" width="3" height="3" fill="#2e1"/><rect x="36" y="48" width="3" height="3" fill="#0d5"/><rect x="39" y="48" width="3" height="3" fill="#15c"/><rect x="42" y="48" width="6" height="3" fill="#13a"/><rect x="48" y="48" width="3" height="3" fill="#1ad"/><rect x="51" y="48" width="3" height="3" fill="#0e2"/><rect x="54" y="48" width="3" height="3" fill="#6e0"/><rect x="57" y="48" width="3" height="3" fill="#be0"/><rect x="60" y="48" width="6" height="3" fill="#df0"/><rect x="66" y="48" width="3" height="3" fill="#ce0"/><rect x="69" y="48" width="3" height="3" fill="#ae0"/><rect x="72" y="48" width="3" height="3" fill="#6e0"/><rect x="75" y="48" width="3" height="3" fill="#4e0"/><rect x="78" y="48" width="3" height="3" fill="#3e1"/><rect x="81" y="48" width="3" height="3" fill="#2e1"/><rect x="84" y="48" width="6" height="3" fill="#1e2"/><rect x="90" y="48" width="3" height="3" fill="#0e3"/><rect x="93" y="48" width="3" height="3" fill="#0e4"/><rect x="-3" y="51" width="3" height="3" fill="#16c"/><rect x="0" y="51" width="3" height="3" fill="#17d"/><rect x="3" y="51" width="3" height="3" fill="#19d"/><rect x="6" y="51" width="3" height="3" fill="#0bc"/><rect x="9" y="51" width="3" height="3" fill="#0d8"/><rect x="12" y="51" width="3" height="3" fill="#0e4"/><rect x="15" y="51" width="3" height="3" fill="#2e2"/><rect x="18" y="51" width="3" height="3" fill="#6e0"/><rect x="21" y="51" width="3" height="3" fill="#ae0"/><rect x="24" y="51" width="6" height="3" fill="#ce0"/><rect x="30" y="51" width="3" height="3" fill="#ae0"/><rect x="33" y="51" width="3" height="3" fill="#5e0"/><rect x="36" y="51" width="3" height="3" fill="#0e2"/><rect x="39" y="51" width="3" height="3" fill="#0d5"/><rect x="42" y="51" width="3" height="3" fill="#0bc"/><rect x="45" y="51" width="3" height="3" fill="#0c9"/><rect x="48" y="51" width="3" height="3" fill="#0e3"/><rect x="51" y="51" width="3" height="3" fill="#2e1"/><rect x="54" y="51" width="3" height="3" fill="#8e0"/><rect x="57" y="51" width="3" height="3" fill="#ce0"/><rect x="60" y="51" width="3" height="3" fill="#df0"/><rect x="63" y="51" width="3" height="3" fill="#cf0"/><rect x="66" y="51" width="3" height="3" fill="#be0"/><rect x="69" y="51" width="3" height="3" fill="#9e0"/><rect x="72" y="51" width="3" height="3" fill="#5e0"/><rect x="75" y="51" width="3" height="3" fill="#4e1"/><rect x="78" y="51" width="3" height="3" fill="#2e1"/><rect x="81" y="51" width="3" height="3" fill="#2e2"/><rect x="84" y="51" width="3" height="3" fill="#1e2"/><rect x="87" y="51" width="3" height="3" fill="#0e2"/><rect x="90" y="51" width="3" height="3" fill="#0e3"/><rect x="93" y="51" width="3" height="3" fill="#0e4"/><rect x="-3" y="54" width="3" height="3" fill="#16c"/><rect x="0" y="54" width="3" height="3" fill="#17d"/><rect x="3" y="54" width="3" height="3" fill="#19d"/><rect x="6" y="54" width="3" height="3" fill="#0bc"/><rect x="9" y="54" width="3" height="3" fill="#0c9"/><rect x="12" y="54" width="3" height="3" fill="#0d5"/><rect x="15" y="54" width="3" height="3" fill="#1e2"/><rect x="18" y="54" width="3" height="3" fill="#5e0"/><rect x="21" y="54" width="3" height="3" fill="#9e0"/><rect x="24" y="54" width="3" height="3" fill="#be0"/><rect x="27" y="54" width="3" height="3" fill="#ce0"/><rect x="30" y="54" width="3" height="3" fill="#be0"/><rect x="33" y="54" width="3" height="3" fill="#9e0"/><rect x="36" y="54" width="3" height="3" fill="#5e0"/><rect x="39" y="54" width="3" height="3" fill="#1e2"/><rect x="42" y="54" width="3" height="3" fill="#0e2"/><rect x="45" y="54" width="3" height="3" fill="#1e2"/><rect x="48" y="54" width="3" height="3" fill="#3e1"/><rect x="51" y="54" width="3" height="3" fill="#7e0"/><rect x="54" y="54" width="3" height="3" fill="#be0"/><rect x="57" y="54" width="3" height="3" fill="#ce0"/><rect x="60" y="54" width="3" height="3" fill="#df0"/><rect x="63" y="54" width="3" height="3" fill="#ce0"/><rect x="66" y="54" width="3" height="3" fill="#be0"/><rect x="69" y="54" width="3" height="3" fill="#7e0"/><rect x="72" y="54" width="3" height="3" fill="#4e0"/><rect x="75" y="54" width="3" height="3" fill="#3e1"/><rect x="78" y="54" width="3" height="3" fill="#2e1"/><rect x="81" y="54" width="3" height="3" fill="#1e2"/><rect x="84" y="54" width="3" height="3" fill="#0e2"/><rect x="87" y="54" width="3" height="3" fill="#0e3"/><rect x="90" y="54" width="3" height="3" fill="#0e4"/><rect x="93" y="54" width="3" height="3" fill="#0d5"/><rect x="-3" y="57" width="3" height="3" fill="#16c"/><rect x="0" y="57" width="3" height="3" fill="#17d"/><rect x="3" y="57" width="3" height="3" fill="#19d"/><rect x="6" y="57" width="3" height="3" fill="#0bc"/><rect x="9" y="57" width="3" height="3" fill="#0c9"/><rect x="12" y="57" width="3" height="3" fill="#0d6"/><rect x="15" y="57" width="3" height="3" fill="#0e2"/><rect x="18" y="57" width="3" height="3" fill="#3e1"/><rect x="21" y="57" width="3" height="3" fill="#8e0"/><rect x="24" y="57" width="3" height="3" fill="#ae0"/><rect x="27" y="57" width="6" height="3" fill="#ce0"/><rect x="33" y="57" width="3" height="3" fill="#be0"/><rect x="36" y="57" width="3" height="3" fill="#ae0"/><rect x="39" y="57" width="3" height="3" fill="#8e0"/><rect x="42" y="57" width="6" height="3" fill="#7e0"/><rect x="48" y="57" width="3" height="3" fill="#9e0"/><rect x="51" y="57" width="3" height="3" fill="#be0"/><rect x="54" y="57" width="3" height="3" fill="#ce0"/><rect x="57" y="57" width="3" height="3" fill="#cf0"/><rect x="60" y="57" width="3" height="3" fill="#ce0"/><rect x="63" y="57" width="3" height="3" fill="#be0"/><rect x="66" y="57" width="3" height="3" fill="#9e0"/><rect x="69" y="57" width="3" height="3" fill="#5e0"/><rect x="72" y="57" width="3" height="3" fill="#4e1"/><rect x="75" y="57" width="3" height="3" fill="#2e1"/><rect x="78" y="57" width="3" height="3" fill="#1e2"/><rect x="81" y="57" width="3" height="3" fill="#0e2"/><rect x="84" y="57" width="3" height="3" fill="#0e3"/><rect x="87" y="57" width="3" height="3" fill="#0e4"/><rect x="90" y="57" width="3" height="3" fill="#0e5"/><rect x="93" y="57" width="3" height="3" fill="#0d6"/><rect x="-3" y="60" width="3" height="3" fill="#16c"/><rect x="0" y="60" width="3" height="3" fill="#17d"/><rect x="3" y="60" width="3" height="3" fill="#18d"/><rect x="6" y="60" width="3" height="3" fill="#0bd"/><rect x="9" y="60" width="3" height="3" fill="#0ca"/><rect x="12" y="60" width="3" height="3" fill="#0d7"/><rect x="15" y="60" width="3" height="3" fill="#0e4"/><rect x="18" y="60" width="3" height="3" fill="#2e2"/><rect x="21" y="60" width="3" height="3" fill="#5e0"/><rect x="24" y="60" width="3" height="3" fill="#9e0"/><rect x="27" y="60" width="3" height="3" fill="#be0"/><rect x="30" y="60" width="9" height="3" fill="#ce0"/><rect x="39" y="60" width="6" height="3" fill="#be0"/><rect x="45" y="60" width="15" height="3" fill="#ce0"/><rect x="60" y="60" width="3" height="3" fill="#be0"/><rect x="63" y="60" width="3" height="3" fill="#ae0"/><rect x="66" y="60" width="3" height="3" fill="#6e0"/><rect x="69" y="60" width="3" height="3" fill="#4e0"/><rect x="72" y="60" width="3" height="3" fill="#3e1"/><rect x="75" y="60" width="6" height="3" fill="#1e2"/><rect x="81" y="60" width="3" height="3" fill="#0e2"/><rect x="84" y="60" width="3" height="3" fill="#0e3"/><rect x="87" y="60" width="3" height="3" fill="#0e4"/><rect x="90" y="60" width="3" height="3" fill="#0d5"/><rect x="93" y="60" width="3" height="3" fill="#0d6"/><rect x="-3" y="63" width="6" height="3" fill="#16c"/><rect x="3" y="63" width="3" height="3" fill="#18d"/><rect x="6" y="63" width="3" height="3" fill="#0ad"/><rect x="9" y="63" width="3" height="3" fill="#0cb"/><rect x="12" y="63" width="3" height="3" fill="#0d8"/><rect x="15" y="63" width="3" height="3" fill="#0d5"/><rect x="18" y="63" width="3" height="3" fill="#0e2"/><rect x="21" y="63" width="3" height="3" fill="#3e1"/><rect x="24" y="63" width="3" height="3" fill="#6e0"/><rect x="27" y="63" width="3" height="3" fill="#9e0"/><rect x="30" y="63" width="6" height="3" fill="#be0"/><rect x="36" y="63" width="21" height="3" fill="#ce0"/><rect x="57" y="63" width="3" height="3" fill="#be0"/><rect x="60" y="63" width="3" height="3" fill="#ae0"/><rect x="63" y="63" width="3" height="3" fill="#7e0"/><rect x="66" y="63" width="3" height="3" fill="#4e0"/><rect x="69" y="63" width="3" height="3" fill="#3e1"/><rect x="72" y="63" width="3" height="3" fill="#2e2"/><rect x="75" y="63" width="3" height="3" fill="#1e2"/><rect x="78" y="63" width="3" height="3" fill="#0e2"/><rect x="81" y="63" width="3" height="3" fill="#0e3"/><rect x="84" y="63" width="3" height="3" fill="#0e4"/><rect x="87" y="63" width="3" height="3" fill="#0e5"/><rect x="90" y="63" width="3" height="3" fill="#0d6"/><rect x="93" y="63" width="3" height="3" fill="#0d7"/><rect x="-3" y="66" width="3" height="3" fill="#15c"/><rect x="0" y="66" width="3" height="3" fill="#16c"/><rect x="3" y="66" width="3" height="3" fill="#17d"/><rect x="6" y="66" width="3" height="3" fill="#19d"/><rect x="9" y="66" width="3" height="3" fill="#0bc"/><rect x="12" y="66" width="3" height="3" fill="#0c9"/><rect x="15" y="66" width="3" height="3" fill="#0d7"/><rect x="18" y="66" width="3" height="3" fill="#0e4"/><rect x="21" y="66" width="3" height="3" fill="#1e2"/><rect x="24" y="66" width="3" height="3" fill="#3e1"/><rect x="27" y="66" width="3" height="3" fill="#6e0"/><rect x="30" y="66" width="3" height="3" fill="#8e0"/><rect x="33" y="66" width="3" height="3" fill="#ae0"/><rect x="36" y="66" width="9" height="3" fill="#be0"/><rect x="45" y="66" width="3" height="3" fill="#ce0"/><rect x="48" y="66" width="6" height="3" fill="#be0"/><rect x="54" y="66" width="3" height="3" fill="#ae0"/><rect x="57" y="66" width="3" height="3" fill="#9e0"/><rect x="60" y="66" width="3" height="3" fill="#7e0"/><rect x="63" y="66" width="3" height="3" fill="#4e0"/><rect x="66" y="66" width="3" height="3" fill="#3e1"/><rect x="69" y="66" width="3" height="3" fill="#2e1"/><rect x="72" y="66" width="3" height="3" fill="#1e2"/><rect x="75" y="66" width="3" height="3" fill="#0e2"/><rect x="78" y="66" width="3" height="3" fill="#0e3"/><rect x="81" y="66" width="6" height="3" fill="#0e4"/><rect x="87" y="66" width="3" height="3" fill="#0d5"/><rect x="90" y="66" width="3" height="3" fill="#0d6"/><rect x="93" y="66" width="3" height="3" fill="#0d7"/><rect x="-3" y="69" width="6" height="3" fill="#15c"/><rect x="3" y="69" width="3" height="3" fill="#16c"/><rect x="6" y="69" width="3" height="3" fill="#18d"/><rect x="9" y="69" width="3" height="3" fill="#0bd"/><rect x="12" y="69" width="3" height="3" fill="#0cb"/><rect x="15" y="69" width="3" height="3" fill="#0d8"/><rect x="18" y="69" width="3" height="3" fill="#0d6"/><rect x="21" y="69" width="3" height="3" fill="#0e4"/><rect x="24" y="69" width="3" height="3" fill="#1e2"/><rect x="27" y="69" width="3" height="3" fill="#2e1"/><rect x="30" y="69" width="3" height="3" fill="#4e0"/><rect x="33" y="69" width="3" height="3" fill="#6e0"/><rect x="36" y="69" width="3" height="3" fill="#8e0"/><rect x="39" y="69" width="3" height="3" fill="#9e0"/><rect x="42" y="69" width="9" height="3" fill="#ae0"/><rect x="51" y="69" width="3" height="3" fill="#9e0"/><rect x="54" y="69" width="3" height="3" fill="#7e0"/><rect x="57" y="69" width="3" height="3" fill="#6e0"/><rect x="60" y="69" width="3" height="3" fill="#4e0"/><rect x="63" y="69" width="3" height="3" fill="#3e1"/><rect x="66" y="69" width="3" height="3" fill="#2e1"/><rect x="69" y="69" width="3" height="3" fill="#1e2"/><rect x="72" y="69" width="3" height="3" fill="#0e2"/><rect x="75" y="69" width="3" height="3" fill="#0e3"/><rect x="78" y="69" width="6" height="3" fill="#0e4"/><rect x="84" y="69" width="3" height="3" fill="#0d5"/><rect x="87" y="69" width="3" height="3" fill="#0d6"/><rect x="90" y="69" width="3" height="3" fill="#0d7"/><rect x="93" y="69" width="3" height="3" fill="#0d8"/><rect x="-3" y="72" width="6" height="3" fill="#14b"/><rect x="3" y="72" width="3" height="3" fill="#15c"/><rect x="6" y="72" width="3" height="3" fill="#17d"/><rect x="9" y="72" width="3" height="3" fill="#19d"/><rect x="12" y="72" width="3" height="3" fill="#0bc"/><rect x="15" y="72" width="3" height="3" fill="#0ca"/><rect x="18" y="72" width="3" height="3" fill="#0d8"/><rect x="21" y="72" width="3" height="3" fill="#0d6"/><rect x="24" y="72" width="3" height="3" fill="#0e4"/><rect x="27" y="72" width="3" height="3" fill="#0e2"/><rect x="30" y="72" width="3" height="3" fill="#2e2"/><rect x="33" y="72" width="3" height="3" fill="#3e1"/><rect x="36" y="72" width="3" height="3" fill="#4e0"/><rect x="39" y="72" width="3" height="3" fill="#5e0"/><rect x="42" y="72" width="9" height="3" fill="#6e0"/><rect x="51" y="72" width="3" height="3" fill="#5e0"/><rect x="54" y="72" width="3" height="3" fill="#4e0"/><rect x="57" y="72" width="6" height="3" fill="#3e1"/><rect x="63" y="72" width="6" height="3" fill="#1e2"/><rect x="69" y="72" width="3" height="3" fill="#0e2"/><rect x="72" y="72" width="3" height="3" fill="#0e3"/><rect x="75" y="72" width="3" height="3" fill="#0e4"/><rect x="78" y="72" width="3" height="3" fill="#0e5"/><rect x="81" y="72" width="3" height="3" fill="#0d5"/><rect x="84" y="72" width="3" height="3" fill="#0d6"/><rect x="87" y="72" width="3" height="3" fill="#0d7"/><rect x="90" y="72" width="3" height="3" fill="#0d8"/><rect x="93" y="72" width="3" height="3" fill="#0c9"/><rect x="-3" y="75" width="6" height="3" fill="#14b"/><rect x="3" y="75" width="3" height="3" fill="#14c"/><rect x="6" y="75" width="3" height="3" fill="#16c"/><rect x="9" y="75" width="3" height="3" fill="#17d"/><rect x="12" y="75" width="3" height="3" fill="#0ad"/><rect x="15" y="75" width="3" height="3" fill="#0bb"/><rect x="18" y="75" width="3" height="3" fill="#0c9"/><rect x="21" y="75" width="3" height="3" fill="#0d7"/><rect x="24" y="75" width="3" height="3" fill="#0d6"/><rect x="27" y="75" width="3" height="3" fill="#0e4"/><rect x="30" y="75" width="3" height="3" fill="#0e3"/><rect x="33" y="75" width="3" height="3" fill="#1e2"/><rect x="36" y="75" width="3" height="3" fill="#2e2"/><rect x="39" y="75" width="3" height="3" fill="#2e1"/><rect x="42" y="75" width="12" height="3" fill="#3e1"/><rect x="54" y="75" width="3" height="3" fill="#2e1"/><rect x="57" y="75" width="3" height="3" fill="#2e2"/><rect x="60" y="75" width="3" height="3" fill="#1e2"/><rect x="63" y="75" width="3" height="3" fill="#0e2"/><rect x="66" y="75" width="6" height="3" fill="#0e3"/><rect x="72" y="75" width="3" height="3" fill="#0e4"/><rect x="75" y="75" width="3" height="3" fill="#0d5"/><rect x="78" y="75" width="3" height="3" fill="#0d6"/><rect x="81" y="75" width="3" height="3" fill="#0d7"/><rect x="84" y="75" width="3" height="3" fill="#0d8"/><rect x="87" y="75" width="3" height="3" fill="#0c9"/><rect x="90" y="75" width="6" height="3" fill="#0ca"/><rect x="-3" y="78" width="6" height="3" fill="#13a"/><rect x="3" y="78" width="3" height="3" fill="#14b"/><rect x="6" y="78" width="3" height="3" fill="#15c"/><rect x="9" y="78" width="3" height="3" fill="#16c"/><rect x="12" y="78" width="3" height="3" fill="#18d"/><rect x="15" y="78" width="3" height="3" fill="#0bd"/><rect x="18" y="78" width="3" height="3" fill="#0cb"/><rect x="21" y="78" width="3" height="3" fill="#0c9"/><rect x="24" y="78" width="3" height="3" fill="#0d7"/><rect x="27" y="78" width="3" height="3" fill="#0d6"/><rect x="30" y="78" width="3" height="3" fill="#0e5"/><rect x="33" y="78" width="3" height="3" fill="#0e4"/><rect x="36" y="78" width="3" height="3" fill="#0e3"/><rect x="39" y="78" width="3" height="3" fill="#0e2"/><rect x="42" y="78" width="12" height="3" fill="#1e2"/><rect x="54" y="78" width="6" height="3" fill="#0e2"/><rect x="60" y="78" width="6" height="3" fill="#0e3"/><rect x="66" y="78" width="6" height="3" fill="#0e4"/><rect x="72" y="78" width="3" height="3" fill="#0d5"/><rect x="75" y="78" width="3" height="3" fill="#0d6"/><rect x="78" y="78" width="3" height="3" fill="#0d8"/><rect x="81" y="78" width="3" height="3" fill="#0c9"/><rect x="84" y="78" width="3" height="3" fill="#0ca"/><rect x="87" y="78" width="6" height="3" fill="#0cb"/><rect x="93" y="78" width="3" height="3" fill="#0bb"/><rect x="-3" y="81" width="9" height="3" fill="#13a"/><rect x="6" y="81" width="3" height="3" fill="#14b"/><rect x="9" y="81" width="3" height="3" fill="#15c"/><rect x="12" y="81" width="3" height="3" fill="#17d"/><rect x="15" y="81" width="3" height="3" fill="#19d"/><rect x="18" y="81" width="3" height="3" fill="#0bc"/><rect x="21" y="81" width="3" height="3" fill="#0cb"/><rect x="24" y="81" width="3" height="3" fill="#0c9"/><rect x="27" y="81" width="3" height="3" fill="#0d8"/><rect x="30" y="81" width="3" height="3" fill="#0d6"/><rect x="33" y="81" width="3" height="3" fill="#0d5"/><rect x="36" y="81" width="3" height="3" fill="#0e5"/><rect x="39" y="81" width="6" height="3" fill="#0e4"/><rect x="45" y="81" width="15" height="3" fill="#0e3"/><rect x="60" y="81" width="6" height="3" fill="#0e4"/><rect x="66" y="81" width="3" height="3" fill="#0e5"/><rect x="69" y="81" width="3" height="3" fill="#0d6"/><rect x="72" y="81" width="3" height="3" fill="#0d7"/><rect x="75" y="81" width="3" height="3" fill="#0d8"/><rect x="78" y="81" width="3" height="3" fill="#0ca"/><rect x="81" y="81" width="3" height="3" fill="#0cb"/><rect x="84" y="81" width="3" height="3" fill="#0bb"/><rect x="87" y="81" width="9" height="3" fill="#0bc"/><rect x="-3" y="84" width="9" height="3" fill="#13a"/><rect x="6" y="84" width="6" height="3" fill="#14b"/><rect x="12" y="84" width="3" height="3" fill="#16c"/><rect x="15" y="84" width="3" height="3" fill="#17d"/><rect x="18" y="84" width="3" height="3" fill="#19d"/><rect x="21" y="84" width="3" height="3" fill="#0bc"/><rect x="24" y="84" width="3" height="3" fill="#0cb"/><rect x="27" y="84" width="3" height="3" fill="#0ca"/><rect x="30" y="84" width="3" height="3" fill="#0d9"/><rect x="33" y="84" width="3" height="3" fill="#0d7"/><rect x="36" y="84" width="6" height="3" fill="#0d6"/><rect x="42" y="84" width="9" height="3" fill="#0d5"/><rect x="51" y="84" width="6" height="3" fill="#0e5"/><rect x="57" y="84" width="6" height="3" fill="#0d5"/><rect x="63" y="84" width="6" height="3" fill="#0d6"/><rect x="69" y="84" width="3" height="3" fill="#0d7"/><rect x="72" y="84" width="3" height="3" fill="#0c9"/><rect x="75" y="84" width="3" height="3" fill="#0ca"/><rect x="78" y="84" width="3" height="3" fill="#0bb"/><rect x="81" y="84" width="3" height="3" fill="#0bc"/><rect x="84" y="84" width="3" height="3" fill="#0bd"/><rect x="87" y="84" width="3" height="3" fill="#0ad"/><rect x="90" y="84" width="6" height="3" fill="#1ad"/><rect x="-3" y="87" width="6" height="3" fill="#129"/><rect x="3" y="87" width="6" height="3" fill="#13a"/><rect x="9" y="87" width="3" height="3" fill="#14b"/><rect x="12" y="87" width="3" height="3" fill="#15c"/><rect x="15" y="87" width="3" height="3" fill="#16c"/><rect x="18" y="87" width="3" height="3" fill="#18d"/><rect x="21" y="87" width="3" height="3" fill="#1ad"/><rect x="24" y="87" width="3" height="3" fill="#0bc"/><rect x="27" y="87" width="3" height="3" fill="#0bb"/><rect x="30" y="87" width="3" height="3" fill="#0ca"/><rect x="33" y="87" width="6" height="3" fill="#0c9"/><rect x="39" y="87" width="3" height="3" fill="#0d8"/><rect x="42" y="87" width="12" height="3" fill="#0d7"/><rect x="54" y="87" width="3" height="3" fill="#0d6"/><rect x="57" y="87" width="9" height="3" fill="#0d7"/><rect x="66" y="87" width="3" height="3" fill="#0d8"/><rect x="69" y="87" width="3" height="3" fill="#0c9"/><rect x="72" y="87" width="3" height="3" fill="#0ca"/><rect x="75" y="87" width="3" height="3" fill="#0bb"/><rect x="78" y="87" width="3" height="3" fill="#0bc"/><rect x="81" y="87" width="3" height="3" fill="#0ad"/><rect x="84" y="87" width="3" height="3" fill="#1ad"/><rect x="87" y="87" width="6" height="3" fill="#19d"/><rect x="93" y="87" width="3" height="3" fill="#1ad"/><rect x="-3" y="90" width="3" height="3" fill="#12a"/><rect x="0" y="90" width="3" height="3" fill="#129"/><rect x="3" y="90" width="6" height="3" fill="#13a"/><rect x="9" y="90" width="3" height="3" fill="#14b"/><rect x="12" y="90" width="3" height="3" fill="#15c"/><rect x="15" y="90" width="3" height="3" fill="#16c"/><rect x="18" y="90" width="3" height="3" fill="#17d"/><rect x="21" y="90" width="3" height="3" fill="#18d"/><rect x="24" y="90" width="3" height="3" fill="#1ad"/><rect x="27" y="90" width="6" height="3" fill="#0bc"/><rect x="33" y="90" width="3" height="3" fill="#0cb"/><rect x="36" y="90" width="6" height="3" fill="#0ca"/><rect x="42" y="90" width="6" height="3" fill="#0c9"/><rect x="48" y="90" width="3" height="3" fill="#0d9"/><rect x="51" y="90" width="12" height="3" fill="#0d8"/><rect x="63" y="90" width="6" height="3" fill="#0c9"/><rect x="69" y="90" width="3" height="3" fill="#0ca"/><rect x="72" y="90" width="3" height="3" fill="#0cb"/><rect x="75" y="90" width="3" height="3" fill="#0bc"/><rect x="78" y="90" width="3" height="3" fill="#0bd"/><rect x="81" y="90" width="3" height="3" fill="#1ad"/><rect x="84" y="90" width="9" height="3" fill="#19d"/><rect x="93" y="90" width="3" height="3" fill="#1ad"/><rect x="-3" y="93" width="12" height="3" fill="#13a"/><rect x="9" y="93" width="3" height="3" fill="#14b"/><rect x="12" y="93" width="3" height="3" fill="#15c"/><rect x="15" y="93" width="3" height="3" fill="#16c"/><rect x="18" y="93" width="3" height="3" fill="#17d"/><rect x="21" y="93" width="3" height="3" fill="#18d"/><rect x="24" y="93" width="3" height="3" fill="#19d"/><rect x="27" y="93" width="3" height="3" fill="#0ad"/><rect x="30" y="93" width="6" height="3" fill="#0bc"/><rect x="36" y="93" width="6" height="3" fill="#0cb"/><rect x="42" y="93" width="6" height="3" fill="#0ca"/><rect x="48" y="93" width="15" height="3" fill="#0c9"/><rect x="63" y="93" width="6" height="3" fill="#0ca"/><rect x="69" y="93" width="3" height="3" fill="#0cb"/><rect x="72" y="93" width="3" height="3" fill="#0bb"/><rect x="75" y="93" width="3" height="3" fill="#0bc"/><rect x="78" y="93" width="3" height="3" fill="#0bd"/><rect x="81" y="93" width="3" height="3" fill="#1ad"/><rect x="84" y="93" width="6" height="3" fill="#19d"/><rect x="90" y="93" width="3" height="3" fill="#1ad"/><rect x="93" y="93" width="3" height="3" fill="#0ad"/></g><ellipse cx="44.3" cy="46" rx="7.3" ry="5.8" fill="#10c8e0" filter="url(#btBa)"/><ellipse cx="44.3" cy="46" rx="6.5" ry="5.0" fill="#1448c0" filter="url(#btBa)"/><ellipse cx="44.3" cy="46" rx="5.7" ry="4.1" fill="#1c2290" filter="url(#btBa)"/><ellipse cx="44.3" cy="46" rx="3" ry="2.2" fill="#3a3aa0" opacity="0.6" filter="url(#btBa)"/><rect x="0.4" y="0.4" width="91.2" height="91.2" fill="none" stroke="#30f0e0" stroke-width="0.8" opacity="0.8"/></g><line x1="44.3" y1="0" x2="44.3" y2="92" stroke="#c03cc0" stroke-width="1" opacity="0.55"/><line x1="0" y1="46" x2="92" y2="46" stroke="#10e0f0" stroke-width="1" opacity="0.6"/></g>
<g transform="translate(206,33)"><defs><clipPath id="cpBb"><rect width="92" height="92"/></clipPath><filter id="blBb" x="-5%" y="-5%" width="110%" height="110%"><feGaussianBlur stdDeviation="1.6"/></filter><filter id="bsBb" x="-50%" y="-50%" width="200%" height="200%"><feGaussianBlur stdDeviation="1.1"/></filter><filter id="btBb" x="-50%" y="-50%" width="200%" height="200%"><feGaussianBlur stdDeviation="0.6"/></filter></defs><g clip-path="url(#cpBb)"><g filter="url(#blBb)" shape-rendering="crispEdges"><rect x="-3" y="-3" width="6" height="3" fill="#0cb"/><rect x="3" y="-3" width="3" height="3" fill="#0ca"/><rect x="6" y="-3" width="6" height="3" fill="#0c9"/><rect x="12" y="-3" width="3" height="3" fill="#0d8"/><rect x="15" y="-3" width="6" height="3" fill="#0d7"/><rect x="21" y="-3" width="9" height="3" fill="#0d6"/><rect x="30" y="-3" width="24" height="3" fill="#0d5"/><rect x="54" y="-3" width="3" height="3" fill="#0d6"/><rect x="57" y="-3" width="3" height="3" fill="#0d7"/><rect x="60" y="-3" width="3" height="3" fill="#0d8"/><rect x="63" y="-3" width="3" height="3" fill="#0c9"/><rect x="66" y="-3" width="3" height="3" fill="#0ca"/><rect x="69" y="-3" width="3" height="3" fill="#0bc"/><rect x="72" y="-3" width="3" height="3" fill="#0ad"/><rect x="75" y="-3" width="3" height="3" fill="#18d"/><rect x="78" y="-3" width="3" height="3" fill="#17c"/><rect x="81" y="-3" width="3" height="3" fill="#15c"/><rect x="84" y="-3" width="3" height="3" fill="#14b"/><rect x="87" y="-3" width="9" height="3" fill="#13a"/><rect x="-3" y="0" width="3" height="3" fill="#0cb"/><rect x="0" y="0" width="3" height="3" fill="#0ca"/><rect x="3" y="0" width="3" height="3" fill="#0c9"/><rect x="6" y="0" width="6" height="3" fill="#0d8"/><rect x="12" y="0" width="3" height="3" fill="#0d7"/><rect x="15" y="0" width="6" height="3" fill="#0d6"/><rect x="21" y="0" width="6" height="3" fill="#0d5"/><rect x="27" y="0" width="3" height="3" fill="#0e5"/><rect x="30" y="0" width="24" height="3" fill="#0e4"/><rect x="54" y="0" width="6" height="3" fill="#0d5"/><rect x="60" y="0" width="3" height="3" fill="#0d6"/><rect x="63" y="0" width="3" height="3" fill="#0d8"/><rect x="66" y="0" width="3" height="3" fill="#0c9"/><rect x="69" y="0" width="3" height="3" fill="#0cb"/><rect x="72" y="0" width="3" height="3" fill="#0bc"/><rect x="75" y="0" width="3" height="3" fill="#19d"/><rect x="78" y="0" width="3" height="3" fill="#17d"/><rect x="81" y="0" width="3" height="3" fill="#16c"/><rect x="84" y="0" width="6" height="3" fill="#14b"/><rect x="90" y="0" width="6" height="3" fill="#13a"/><rect x="-3" y="3" width="3" height="3" fill="#0ca"/><rect x="0" y="3" width="3" height="3" fill="#0c9"/><rect x="3" y="3" width="3" height="3" fill="#0d8"/><rect x="6" y="3" width="6" height="3" fill="#0d7"/><rect x="12" y="3" width="3" height="3" fill="#0d6"/><rect x="15" y="3" width="6" height="3" fill="#0d5"/><rect x="21" y="3" width="9" height="3" fill="#0e4"/><rect x="30" y="3" width="21" height="3" fill="#0e3"/><rect x="51" y="3" width="6" height="3" fill="#0e4"/><rect x="57" y="3" width="3" height="3" fill="#0e5"/><rect x="60" y="3" width="3" height="3" fill="#0d5"/><rect x="63" y="3" width="3" height="3" fill="#0d6"/><rect x="66" y="3" width="3" height="3" fill="#0d8"/><rect x="69" y="3" width="3" height="3" fill="#0ca"/><rect x="72" y="3" width="3" height="3" fill="#0bb"/><rect x="75" y="3" width="3" height="3" fill="#0ad"/><rect x="78" y="3" width="3" height="3" fill="#18d"/><rect x="81" y="3" width="3" height="3" fill="#16c"/><rect x="84" y="3" width="3" height="3" fill="#15c"/><rect x="87" y="3" width="3" height="3" fill="#14b"/><rect x="90" y="3" width="6" height="3" fill="#13a"/><rect x="-3" y="6" width="3" height="3" fill="#0c9"/><rect x="0" y="6" width="3" height="3" fill="#0d8"/><rect x="3" y="6" width="3" height="3" fill="#0d7"/><rect x="6" y="6" width="6" height="3" fill="#0d6"/><rect x="12" y="6" width="3" height="3" fill="#0d5"/><rect x="15" y="6" width="6" height="3" fill="#0e4"/><rect x="21" y="6" width="12" height="3" fill="#0e3"/><rect x="33" y="6" width="18" height="3" fill="#0e2"/><rect x="51" y="6" width="6" height="3" fill="#0e3"/><rect x="57" y="6" width="6" height="3" fill="#0e4"/><rect x="63" y="6" width="3" height="3" fill="#0d5"/><rect x="66" y="6" width="3" height="3" fill="#0d6"/><rect x="69" y="6" width="3" height="3" fill="#0d8"/><rect x="72" y="6" width="3" height="3" fill="#0ca"/><rect x="75" y="6" width="3" height="3" fill="#0bc"/><rect x="78" y="6" width="3" height="3" fill="#19d"/><rect x="81" y="6" width="3" height="3" fill="#17d"/><rect x="84" y="6" width="3" height="3" fill="#15c"/><rect x="87" y="6" width="9" height="3" fill="#14b"/><rect x="-3" y="9" width="3" height="3" fill="#0c9"/><rect x="0" y="9" width="3" height="3" fill="#0d7"/><rect x="3" y="9" width="6" height="3" fill="#0d6"/><rect x="9" y="9" width="3" height="3" fill="#0e5"/><rect x="12" y="9" width="6" height="3" fill="#0e4"/><rect x="18" y="9" width="6" height="3" fill="#0e3"/><rect x="24" y="9" width="6" height="3" fill="#0e2"/><rect x="30" y="9" width="24" height="3" fill="#1e2"/><rect x="54" y="9" width="3" height="3" fill="#0e2"/><rect x="57" y="9" width="6" height="3" fill="#0e3"/><rect x="63" y="9" width="3" height="3" fill="#0e4"/><rect x="66" y="9" width="3" height="3" fill="#0d5"/><rect x="69" y="9" width="3" height="3" fill="#0d7"/><rect x="72" y="9" width="3" height="3" fill="#0c9"/><rect x="75" y="9" width="3" height="3" fill="#0cb"/><rect x="78" y="9" width="3" height="3" fill="#0bd"/><rect x="81" y="9" width="3" height="3" fill="#18d"/><rect x="84" y="9" width="3" height="3" fill="#16c"/><rect x="87" y="9" width="3" height="3" fill="#15c"/><rect x="90" y="9" width="6" height="3" fill="#14b"/><rect x="-3" y="12" width="3" height="3" fill="#0d8"/><rect x="0" y="12" width="3" height="3" fill="#0d7"/><rect x="3" y="12" width="3" height="3" fill="#0d6"/><rect x="6" y="12" width="3" height="3" fill="#0e5"/><rect x="9" y="12" width="3" height="3" fill="#0e4"/><rect x="12" y="12" width="6" height="3" fill="#0e3"/><rect x="18" y="12" width="6" height="3" fill="#0e2"/><rect x="24" y="12" width="9" height="3" fill="#1e2"/><rect x="33" y="12" width="3" height="3" fill="#2e1"/><rect x="36" y="12" width="15" height="3" fill="#3e1"/><rect x="51" y="12" width="3" height="3" fill="#2e1"/><rect x="54" y="12" width="6" height="3" fill="#1e2"/><rect x="60" y="12" width="6" height="3" fill="#0e3"/><rect x="66" y="12" width="3" height="3" fill="#0e4"/><rect x="69" y="12" width="3" height="3" fill="#0d6"/><rect x="72" y="12" width="3" height="3" fill="#0d7"/><rect x="75" y="12" width="3" height="3" fill="#0ca"/><rect x="78" y="12" width="3" height="3" fill="#0bc"/><rect x="81" y="12" width="3" height="3" fill="#1ad"/><rect x="84" y="12" width="3" height="3" fill="#17d"/><rect x="87" y="12" width="3" height="3" fill="#16c"/><rect x="90" y="12" width="6" height="3" fill="#15c"/><rect x="-3" y="15" width="3" height="3" fill="#0d7"/><rect x="0" y="15" width="3" height="3" fill="#0d6"/><rect x="3" y="15" width="3" height="3" fill="#0d5"/><rect x="6" y="15" width="3" height="3" fill="#0e4"/><rect x="9" y="15" width="6" height="3" fill="#0e3"/><rect x="15" y="15" width="3" height="3" fill="#0e2"/><rect x="18" y="15" width="6" height="3" fill="#1e2"/><rect x="24" y="15" width="3" height="3" fill="#2e2"/><rect x="27" y="15" width="3" height="3" fill="#2e1"/><rect x="30" y="15" width="3" height="3" fill="#3e1"/><rect x="33" y="15" width="6" height="3" fill="#4e0"/><rect x="39" y="15" width="9" height="3" fill="#5e0"/><rect x="48" y="15" width="6" height="3" fill="#4e0"/><rect x="54" y="15" width="3" height="3" fill="#3e1"/><rect x="57" y="15" width="3" height="3" fill="#2e1"/><rect x="60" y="15" width="3" height="3" fill="#1e2"/><rect x="63" y="15" width="3" height="3" fill="#0e2"/><rect x="66" y="15" width="3" height="3" fill="#0e3"/><rect x="69" y="15" width="3" height="3" fill="#0e5"/><rect x="72" y="15" width="3" height="3" fill="#0d6"/><rect x="75" y="15" width="3" height="3" fill="#0d8"/><rect x="78" y="15" width="3" height="3" fill="#0ca"/><rect x="81" y="15" width="3" height="3" fill="#0bc"/><rect x="84" y="15" width="3" height="3" fill="#19d"/><rect x="87" y="15" width="3" height="3" fill="#17d"/><rect x="90" y="15" width="3" height="3" fill="#16c"/><rect x="93" y="15" width="3" height="3" fill="#15c"/><rect x="-3" y="18" width="3" height="3" fill="#0d6"/><rect x="0" y="18" width="3" height="3" fill="#0d5"/><rect x="3" y="18" width="3" height="3" fill="#0e4"/><rect x="6" y="18" width="6" height="3" fill="#0e3"/><rect x="12" y="18" width="3" height="3" fill="#0e2"/><rect x="15" y="18" width="6" height="3" fill="#1e2"/><rect x="21" y="18" width="3" height="3" fill="#2e1"/><rect x="24" y="18" width="3" height="3" fill="#3e1"/><rect x="27" y="18" width="3" height="3" fill="#4e0"/><rect x="30" y="18" width="3" height="3" fill="#5e0"/><rect x="33" y="18" width="3" height="3" fill="#6e0"/><rect x="36" y="18" width="6" height="3" fill="#8e0"/><rect x="42" y="18" width="6" height="3" fill="#9e0"/><rect x="48" y="18" width="3" height="3" fill="#8e0"/><rect x="51" y="18" width="3" height="3" fill="#7e0"/><rect x="54" y="18" width="3" height="3" fill="#6e0"/><rect x="57" y="18" width="3" height="3" fill="#4e0"/><rect x="60" y="18" width="3" height="3" fill="#3e1"/><rect x="63" y="18" width="3" height="3" fill="#2e2"/><rect x="66" y="18" width="3" height="3" fill="#0e2"/><rect x="69" y="18" width="3" height="3" fill="#0e4"/><rect x="72" y="18" width="3" height="3" fill="#0d5"/><rect x="75" y="18" width="3" height="3" fill="#0d7"/><rect x="78" y="18" width="3" height="3" fill="#0c9"/><rect x="81" y="18" width="3" height="3" fill="#0cb"/><rect x="84" y="18" width="3" height="3" fill="#0ad"/><rect x="87" y="18" width="3" height="3" fill="#18d"/><rect x="90" y="18" width="3" height="3" fill="#17d"/><rect x="93" y="18" width="3" height="3" fill="#16c"/><rect x="-3" y="21" width="3" height="3" fill="#0d6"/><rect x="0" y="21" width="3" height="3" fill="#0e5"/><rect x="3" y="21" width="3" height="3" fill="#0e4"/><rect x="6" y="21" width="3" height="3" fill="#0e3"/><rect x="9" y="21" width="3" height="3" fill="#0e2"/><rect x="12" y="21" width="3" height="3" fill="#1e2"/><rect x="15" y="21" width="3" height="3" fill="#2e2"/><rect x="18" y="21" width="3" height="3" fill="#2e1"/><rect x="21" y="21" width="3" height="3" fill="#4e1"/><rect x="24" y="21" width="3" height="3" fill="#5e0"/><rect x="27" y="21" width="3" height="3" fill="#6e0"/><rect x="30" y="21" width="3" height="3" fill="#8e0"/><rect x="33" y="21" width="3" height="3" fill="#ae0"/><rect x="36" y="21" width="15" height="3" fill="#be0"/><rect x="51" y="21" width="6" height="3" fill="#ae0"/><rect x="57" y="21" width="3" height="3" fill="#8e0"/><rect x="60" y="21" width="3" height="3" fill="#5e0"/><rect x="63" y="21" width="3" height="3" fill="#3e1"/><rect x="66" y="21" width="3" height="3" fill="#2e2"/><rect x="69" y="21" width="3" height="3" fill="#0e2"/><rect x="72" y="21" width="3" height="3" fill="#0e4"/><rect x="75" y="21" width="3" height="3" fill="#0d6"/><rect x="78" y="21" width="3" height="3" fill="#0d8"/><rect x="81" y="21" width="3" height="3" fill="#0ca"/><rect x="84" y="21" width="3" height="3" fill="#0bc"/><rect x="87" y="21" width="3" height="3" fill="#19d"/><rect x="90" y="21" width="3" height="3" fill="#18d"/><rect x="93" y="21" width="3" height="3" fill="#17d"/><rect x="-3" y="24" width="3" height="3" fill="#0d5"/><rect x="0" y="24" width="3" height="3" fill="#0e4"/><rect x="3" y="24" width="3" height="3" fill="#0e3"/><rect x="6" y="24" width="3" height="3" fill="#0e2"/><rect x="9" y="24" width="3" height="3" fill="#1e2"/><rect x="12" y="24" width="3" height="3" fill="#2e2"/><rect x="15" y="24" width="3" height="3" fill="#2e1"/><rect x="18" y="24" width="3" height="3" fill="#4e1"/><rect x="21" y="24" width="3" height="3" fill="#5e0"/><rect x="24" y="24" width="3" height="3" fill="#7e0"/><rect x="27" y="24" width="3" height="3" fill="#9e0"/><rect x="30" y="24" width="3" height="3" fill="#be0"/><rect x="33" y="24" width="6" height="3" fill="#ce0"/><rect x="39" y="24" width="3" height="3" fill="#cf0"/><rect x="42" y="24" width="3" height="3" fill="#df0"/><rect x="45" y="24" width="3" height="3" fill="#cf0"/><rect x="48" y="24" width="6" height="3" fill="#ce0"/><rect x="54" y="24" width="3" height="3" fill="#be0"/><rect x="57" y="24" width="3" height="3" fill="#ae0"/><rect x="60" y="24" width="3" height="3" fill="#8e0"/><rect x="63" y="24" width="3" height="3" fill="#6e0"/><rect x="66" y="24" width="3" height="3" fill="#3e1"/><rect x="69" y="24" width="3" height="3" fill="#1e2"/><rect x="72" y="24" width="3" height="3" fill="#0e3"/><rect x="75" y="24" width="3" height="3" fill="#0e5"/><rect x="78" y="24" width="3" height="3" fill="#0d7"/><rect x="81" y="24" width="3" height="3" fill="#0c9"/><rect x="84" y="24" width="3" height="3" fill="#0bb"/><rect x="87" y="24" width="3" height="3" fill="#0ad"/><rect x="90" y="24" width="3" height="3" fill="#19d"/><rect x="93" y="24" width="3" height="3" fill="#18d"/><rect x="-3" y="27" width="3" height="3" fill="#0d5"/><rect x="0" y="27" width="3" height="3" fill="#0e4"/><rect x="3" y="27" width="3" height="3" fill="#0e3"/><rect x="6" y="27" width="6" height="3" fill="#1e2"/><rect x="12" y="27" width="3" height="3" fill="#2e1"/><rect x="15" y="27" width="3" height="3" fill="#3e1"/><rect x="18" y="27" width="3" height="3" fill="#5e0"/><rect x="21" y="27" width="3" height="3" fill="#7e0"/><rect x="24" y="27" width="3" height="3" fill="#ae0"/><rect x="27" y="27" width="3" height="3" fill="#be0"/><rect x="30" y="27" width="3" height="3" fill="#ce0"/><rect x="33" y="27" width="3" height="3" fill="#df0"/><rect x="36" y="27" width="24" height="3" fill="#ce0"/><rect x="60" y="27" width="3" height="3" fill="#be0"/><rect x="63" y="27" width="3" height="3" fill="#8e0"/><rect x="66" y="27" width="3" height="3" fill="#5e0"/><rect x="69" y="27" width="3" height="3" fill="#3e1"/><rect x="72" y="27" width="3" height="3" fill="#1e2"/><rect x="75" y="27" width="3" height="3" fill="#0e4"/><rect x="78" y="27" width="3" height="3" fill="#0d6"/><rect x="81" y="27" width="3" height="3" fill="#0d8"/><rect x="84" y="27" width="3" height="3" fill="#0cb"/><rect x="87" y="27" width="3" height="3" fill="#0bc"/><rect x="90" y="27" width="3" height="3" fill="#1ad"/><rect x="93" y="27" width="3" height="3" fill="#19d"/><rect x="-3" y="30" width="3" height="3" fill="#0e5"/><rect x="0" y="30" width="3" height="3" fill="#0e3"/><rect x="3" y="30" width="3" height="3" fill="#0e2"/><rect x="6" y="30" width="3" height="3" fill="#1e2"/><rect x="9" y="30" width="3" height="3" fill="#2e1"/><rect x="12" y="30" width="3" height="3" fill="#3e1"/><rect x="15" y="30" width="3" height="3" fill="#4e0"/><rect x="18" y="30" width="3" height="3" fill="#6e0"/><rect x="21" y="30" width="3" height="3" fill="#9e0"/><rect x="24" y="30" width="3" height="3" fill="#be0"/><rect x="27" y="30" width="3" height="3" fill="#ce0"/><rect x="30" y="30" width="3" height="3" fill="#df0"/><rect x="33" y="30" width="6" height="3" fill="#ce0"/><rect x="39" y="30" width="3" height="3" fill="#be0"/><rect x="42" y="30" width="6" height="3" fill="#ae0"/><rect x="48" y="30" width="3" height="3" fill="#be0"/><rect x="51" y="30" width="12" height="3" fill="#ce0"/><rect x="63" y="30" width="3" height="3" fill="#ae0"/><rect x="66" y="30" width="3" height="3" fill="#7e0"/><rect x="69" y="30" width="3" height="3" fill="#4e0"/><rect x="72" y="30" width="3" height="3" fill="#2e2"/><rect x="75" y="30" width="3" height="3" fill="#0e3"/><rect x="78" y="30" width="3" height="3" fill="#0d5"/><rect x="81" y="30" width="3" height="3" fill="#0d7"/><rect x="84" y="30" width="3" height="3" fill="#0ca"/><rect x="87" y="30" width="3" height="3" fill="#0bc"/><rect x="90" y="30" width="3" height="3" fill="#0ad"/><rect x="93" y="30" width="3" height="3" fill="#19d"/><rect x="-3" y="33" width="3" height="3" fill="#0e4"/><rect x="0" y="33" width="3" height="3" fill="#0e3"/><rect x="3" y="33" width="3" height="3" fill="#0e2"/><rect x="6" y="33" width="3" height="3" fill="#1e2"/><rect x="9" y="33" width="3" height="3" fill="#2e1"/><rect x="12" y="33" width="3" height="3" fill="#3e1"/><rect x="15" y="33" width="3" height="3" fill="#5e0"/><rect x="18" y="33" width="3" height="3" fill="#8e0"/><rect x="21" y="33" width="3" height="3" fill="#be0"/><rect x="24" y="33" width="3" height="3" fill="#ce0"/><rect x="27" y="33" width="3" height="3" fill="#df0"/><rect x="30" y="33" width="6" height="3" fill="#ce0"/><rect x="36" y="33" width="3" height="3" fill="#8e0"/><rect x="39" y="33" width="3" height="3" fill="#5e0"/><rect x="42" y="33" width="6" height="3" fill="#3e1"/><rect x="48" y="33" width="3" height="3" fill="#5e0"/><rect x="51" y="33" width="3" height="3" fill="#8e0"/><rect x="54" y="33" width="3" height="3" fill="#be0"/><rect x="57" y="33" width="6" height="3" fill="#ce0"/><rect x="63" y="33" width="3" height="3" fill="#be0"/><rect x="66" y="33" width="3" height="3" fill="#9e0"/><rect x="69" y="33" width="3" height="3" fill="#6e0"/><rect x="72" y="33" width="3" height="3" fill="#3e1"/><rect x="75" y="33" width="3" height="3" fill="#0e2"/><rect x="78" y="33" width="3" height="3" fill="#0e5"/><rect x="81" y="33" width="3" height="3" fill="#0d7"/><rect x="84" y="33" width="3" height="3" fill="#0ca"/><rect x="87" y="33" width="3" height="3" fill="#0bc"/><rect x="90" y="33" width="3" height="3" fill="#0ad"/><rect x="93" y="33" width="3" height="3" fill="#1ad"/><rect x="-3" y="36" width="3" height="3" fill="#0e4"/><rect x="0" y="36" width="3" height="3" fill="#0e3"/><rect x="3" y="36" width="3" height="3" fill="#1e2"/><rect x="6" y="36" width="3" height="3" fill="#2e2"/><rect x="9" y="36" width="3" height="3" fill="#2e1"/><rect x="12" y="36" width="3" height="3" fill="#4e0"/><rect x="15" y="36" width="3" height="3" fill="#6e0"/><rect x="18" y="36" width="3" height="3" fill="#9e0"/><rect x="21" y="36" width="3" height="3" fill="#be0"/><rect x="24" y="36" width="6" height="3" fill="#df0"/><rect x="30" y="36" width="3" height="3" fill="#ce0"/><rect x="33" y="36" width="3" height="3" fill="#8e0"/><rect x="36" y="36" width="3" height="3" fill="#3e1"/><rect x="39" y="36" width="3" height="3" fill="#0e3"/><rect x="42" y="36" width="6" height="3" fill="#0e4"/><rect x="48" y="36" width="3" height="3" fill="#0e3"/><rect x="51" y="36" width="3" height="3" fill="#3e1"/><rect x="54" y="36" width="3" height="3" fill="#8e0"/><rect x="57" y="36" width="9" height="3" fill="#ce0"/><rect x="66" y="36" width="3" height="3" fill="#ae0"/><rect x="69" y="36" width="3" height="3" fill="#7e0"/><rect x="72" y="36" width="3" height="3" fill="#3e1"/><rect x="75" y="36" width="3" height="3" fill="#1e2"/><rect x="78" y="36" width="3" height="3" fill="#0e4"/><rect x="81" y="36" width="3" height="3" fill="#0d7"/><rect x="84" y="36" width="3" height="3" fill="#0c9"/><rect x="87" y="36" width="3" height="3" fill="#0bb"/><rect x="90" y="36" width="3" height="3" fill="#0bd"/><rect x="93" y="36" width="3" height="3" fill="#1ad"/><rect x="-3" y="39" width="3" height="3" fill="#0e4"/><rect x="0" y="39" width="3" height="3" fill="#0e3"/><rect x="3" y="39" width="3" height="3" fill="#1e2"/><rect x="6" y="39" width="3" height="3" fill="#2e1"/><rect x="9" y="39" width="3" height="3" fill="#3e1"/><rect x="12" y="39" width="3" height="3" fill="#4e0"/><rect x="15" y="39" width="3" height="3" fill="#7e0"/><rect x="18" y="39" width="3" height="3" fill="#ae0"/><rect x="21" y="39" width="3" height="3" fill="#ce0"/><rect x="24" y="39" width="3" height="3" fill="#df0"/><rect x="27" y="39" width="3" height="3" fill="#ce0"/><rect x="30" y="39" width="3" height="3" fill="#be0"/><rect x="33" y="39" width="3" height="3" fill="#5e0"/><rect x="36" y="39" width="3" height="3" fill="#0e3"/><rect x="39" y="39" width="3" height="3" fill="#0bb"/><rect x="42" y="39" width="6" height="3" fill="#15c"/><rect x="48" y="39" width="3" height="3" fill="#0bb"/><rect x="51" y="39" width="3" height="3" fill="#0e3"/><rect x="54" y="39" width="3" height="3" fill="#5e0"/><rect x="57" y="39" width="3" height="3" fill="#be0"/><rect x="60" y="39" width="6" height="3" fill="#ce0"/><rect x="66" y="39" width="3" height="3" fill="#be0"/><rect x="69" y="39" width="3" height="3" fill="#8e0"/><rect x="72" y="39" width="3" height="3" fill="#4e0"/><rect x="75" y="39" width="3" height="3" fill="#1e2"/><rect x="78" y="39" width="3" height="3" fill="#0e4"/><rect x="81" y="39" width="3" height="3" fill="#0d6"/><rect x="84" y="39" width="3" height="3" fill="#0c9"/><rect x="87" y="39" width="3" height="3" fill="#0bb"/><rect x="90" y="39" width="3" height="3" fill="#0bd"/><rect x="93" y="39" width="3" height="3" fill="#1ad"/><rect x="-3" y="42" width="3" height="3" fill="#0e4"/><rect x="0" y="42" width="3" height="3" fill="#0e3"/><rect x="3" y="42" width="3" height="3" fill="#1e2"/><rect x="6" y="42" width="3" height="3" fill="#2e1"/><rect x="9" y="42" width="3" height="3" fill="#3e1"/><rect x="12" y="42" width="3" height="3" fill="#5e0"/><rect x="15" y="42" width="3" height="3" fill="#7e0"/><rect x="18" y="42" width="3" height="3" fill="#be0"/><rect x="21" y="42" width="3" height="3" fill="#ce0"/><rect x="24" y="42" width="3" height="3" fill="#df0"/><rect x="27" y="42" width="3" height="3" fill="#ce0"/><rect x="30" y="42" width="3" height="3" fill="#ae0"/><rect x="33" y="42" width="3" height="3" fill="#3e1"/><rect x="36" y="42" width="3" height="3" fill="#0e5"/><rect x="39" y="42" width="3" height="3" fill="#14b"/><rect x="42" y="42" width="6" height="3" fill="#129"/><rect x="48" y="42" width="3" height="3" fill="#14b"/><rect x="51" y="42" width="3" height="3" fill="#0e5"/><rect x="54" y="42" width="3" height="3" fill="#2e1"/><rect x="57" y="42" width="3" height="3" fill="#9e0"/><rect x="60" y="42" width="6" height="3" fill="#ce0"/><rect x="66" y="42" width="3" height="3" fill="#be0"/><rect x="69" y="42" width="3" height="3" fill="#9e0"/><rect x="72" y="42" width="3" height="3" fill="#4e0"/><rect x="75" y="42" width="3" height="3" fill="#1e2"/><rect x="78" y="42" width="3" height="3" fill="#0e4"/><rect x="81" y="42" width="3" height="3" fill="#0d6"/><rect x="84" y="42" width="3" height="3" fill="#0c9"/><rect x="87" y="42" width="3" height="3" fill="#0bb"/><rect x="90" y="42" width="3" height="3" fill="#0bd"/><rect x="93" y="42" width="3" height="3" fill="#1ad"/><rect x="-3" y="45" width="3" height="3" fill="#0e4"/><rect x="0" y="45" width="3" height="3" fill="#0e3"/><rect x="3" y="45" width="3" height="3" fill="#1e2"/><rect x="6" y="45" width="3" height="3" fill="#2e1"/><rect x="9" y="45" width="3" height="3" fill="#3e1"/><rect x="12" y="45" width="3" height="3" fill="#5e0"/><rect x="15" y="45" width="3" height="3" fill="#7e0"/><rect x="18" y="45" width="3" height="3" fill="#be0"/><rect x="21" y="45" width="3" height="3" fill="#ce0"/><rect x="24" y="45" width="3" height="3" fill="#df0"/><rect x="27" y="45" width="3" height="3" fill="#ce0"/><rect x="30" y="45" width="3" height="3" fill="#ae0"/><rect x="33" y="45" width="3" height="3" fill="#2e1"/><rect x="36" y="45" width="3" height="3" fill="#0d5"/><rect x="39" y="45" width="3" height="3" fill="#14b"/><rect x="42" y="45" width="6" height="3" fill="#129"/><rect x="48" y="45" width="3" height="3" fill="#14b"/><rect x="51" y="45" width="3" height="3" fill="#0d5"/><rect x="54" y="45" width="3" height="3" fill="#2e1"/><rect x="57" y="45" width="3" height="3" fill="#9e0"/><rect x="60" y="45" width="6" height="3" fill="#ce0"/><rect x="66" y="45" width="3" height="3" fill="#be0"/><rect x="69" y="45" width="3" height="3" fill="#9e0"/><rect x="72" y="45" width="3" height="3" fill="#4e0"/><rect x="75" y="45" width="3" height="3" fill="#1e2"/><rect x="78" y="45" width="3" height="3" fill="#0e4"/><rect x="81" y="45" width="3" height="3" fill="#0d6"/><rect x="84" y="45" width="3" height="3" fill="#0c9"/><rect x="87" y="45" width="3" height="3" fill="#0bb"/><rect x="90" y="45" width="3" height="3" fill="#0bd"/><rect x="93" y="45" width="3" height="3" fill="#1ad"/><rect x="-3" y="48" width="3" height="3" fill="#0e4"/><rect x="0" y="48" width="3" height="3" fill="#0e3"/><rect x="3" y="48" width="3" height="3" fill="#1e2"/><rect x="6" y="48" width="3" height="3" fill="#2e1"/><rect x="9" y="48" width="3" height="3" fill="#3e1"/><rect x="12" y="48" width="3" height="3" fill="#4e0"/><rect x="15" y="48" width="3" height="3" fill="#7e0"/><rect x="18" y="48" width="3" height="3" fill="#ae0"/><rect x="21" y="48" width="3" height="3" fill="#ce0"/><rect x="24" y="48" width="3" height="3" fill="#df0"/><rect x="27" y="48" width="3" height="3" fill="#ce0"/><rect x="30" y="48" width="3" height="3" fill="#be0"/><rect x="33" y="48" width="3" height="3" fill="#4e0"/><rect x="36" y="48" width="3" height="3" fill="#0e3"/><rect x="39" y="48" width="3" height="3" fill="#19d"/><rect x="42" y="48" width="6" height="3" fill="#13b"/><rect x="48" y="48" width="3" height="3" fill="#19d"/><rect x="51" y="48" width="3" height="3" fill="#0e3"/><rect x="54" y="48" width="3" height="3" fill="#4e0"/><rect x="57" y="48" width="3" height="3" fill="#ae0"/><rect x="60" y="48" width="3" height="3" fill="#ce0"/><rect x="63" y="48" width="3" height="3" fill="#cf0"/><rect x="66" y="48" width="3" height="3" fill="#be0"/><rect x="69" y="48" width="3" height="3" fill="#8e0"/><rect x="72" y="48" width="3" height="3" fill="#4e0"/><rect x="75" y="48" width="3" height="3" fill="#1e2"/><rect x="78" y="48" width="3" height="3" fill="#0e4"/><rect x="81" y="48" width="3" height="3" fill="#0d6"/><rect x="84" y="48" width="3" height="3" fill="#0c9"/><rect x="87" y="48" width="3" height="3" fill="#0bb"/><rect x="90" y="48" width="3" height="3" fill="#0bd"/><rect x="93" y="48" width="3" height="3" fill="#1ad"/><rect x="-3" y="51" width="3" height="3" fill="#0e4"/><rect x="0" y="51" width="3" height="3" fill="#0e3"/><rect x="3" y="51" width="3" height="3" fill="#1e2"/><rect x="6" y="51" width="3" height="3" fill="#2e2"/><rect x="9" y="51" width="3" height="3" fill="#2e1"/><rect x="12" y="51" width="3" height="3" fill="#4e0"/><rect x="15" y="51" width="3" height="3" fill="#6e0"/><rect x="18" y="51" width="3" height="3" fill="#9e0"/><rect x="21" y="51" width="3" height="3" fill="#ce0"/><rect x="24" y="51" width="3" height="3" fill="#df0"/><rect x="27" y="51" width="3" height="3" fill="#cf0"/><rect x="30" y="51" width="3" height="3" fill="#ce0"/><rect x="33" y="51" width="3" height="3" fill="#8e0"/><rect x="36" y="51" width="3" height="3" fill="#2e1"/><rect x="39" y="51" width="3" height="3" fill="#0e3"/><rect x="42" y="51" width="6" height="3" fill="#0d6"/><rect x="48" y="51" width="3" height="3" fill="#0e3"/><rect x="51" y="51" width="3" height="3" fill="#2e1"/><rect x="54" y="51" width="3" height="3" fill="#7e0"/><rect x="57" y="51" width="3" height="3" fill="#be0"/><rect x="60" y="51" width="6" height="3" fill="#ce0"/><rect x="66" y="51" width="3" height="3" fill="#be0"/><rect x="69" y="51" width="3" height="3" fill="#7e0"/><rect x="72" y="51" width="3" height="3" fill="#3e1"/><rect x="75" y="51" width="3" height="3" fill="#1e2"/><rect x="78" y="51" width="3" height="3" fill="#0e4"/><rect x="81" y="51" width="3" height="3" fill="#0d7"/><rect x="84" y="51" width="3" height="3" fill="#0ca"/><rect x="87" y="51" width="3" height="3" fill="#0bc"/><rect x="90" y="51" width="3" height="3" fill="#0ad"/><rect x="93" y="51" width="3" height="3" fill="#19d"/><rect x="-3" y="54" width="3" height="3" fill="#0e4"/><rect x="0" y="54" width="3" height="3" fill="#0e3"/><rect x="3" y="54" width="3" height="3" fill="#0e2"/><rect x="6" y="54" width="3" height="3" fill="#1e2"/><rect x="9" y="54" width="3" height="3" fill="#2e1"/><rect x="12" y="54" width="3" height="3" fill="#4e1"/><rect x="15" y="54" width="3" height="3" fill="#5e0"/><rect x="18" y="54" width="3" height="3" fill="#8e0"/><rect x="21" y="54" width="3" height="3" fill="#be0"/><rect x="24" y="54" width="3" height="3" fill="#ce0"/><rect x="27" y="54" width="3" height="3" fill="#df0"/><rect x="30" y="54" width="3" height="3" fill="#ce0"/><rect x="33" y="54" width="3" height="3" fill="#be0"/><rect x="36" y="54" width="3" height="3" fill="#7e0"/><rect x="39" y="54" width="3" height="3" fill="#4e1"/><rect x="42" y="54" width="6" height="3" fill="#2e2"/><rect x="48" y="54" width="3" height="3" fill="#4e1"/><rect x="51" y="54" width="3" height="3" fill="#7e0"/><rect x="54" y="54" width="3" height="3" fill="#be0"/><rect x="57" y="54" width="6" height="3" fill="#ce0"/><rect x="63" y="54" width="3" height="3" fill="#be0"/><rect x="66" y="54" width="3" height="3" fill="#ae0"/><rect x="69" y="54" width="3" height="3" fill="#6e0"/><rect x="72" y="54" width="3" height="3" fill="#3e1"/><rect x="75" y="54" width="3" height="3" fill="#0e2"/><rect x="78" y="54" width="3" height="3" fill="#0e5"/><rect x="81" y="54" width="3" height="3" fill="#0d7"/><rect x="84" y="54" width="3" height="3" fill="#0ca"/><rect x="87" y="54" width="3" height="3" fill="#0bc"/><rect x="90" y="54" width="3" height="3" fill="#1ad"/><rect x="93" y="54" width="3" height="3" fill="#19d"/><rect x="-3" y="57" width="3" height="3" fill="#0e4"/><rect x="0" y="57" width="3" height="3" fill="#0e3"/><rect x="3" y="57" width="3" height="3" fill="#0e2"/><rect x="6" y="57" width="3" height="3" fill="#1e2"/><rect x="9" y="57" width="3" height="3" fill="#2e1"/><rect x="12" y="57" width="3" height="3" fill="#3e1"/><rect x="15" y="57" width="3" height="3" fill="#4e0"/><rect x="18" y="57" width="3" height="3" fill="#6e0"/><rect x="21" y="57" width="3" height="3" fill="#ae0"/><rect x="24" y="57" width="3" height="3" fill="#be0"/><rect x="27" y="57" width="3" height="3" fill="#ce0"/><rect x="30" y="57" width="3" height="3" fill="#df0"/><rect x="33" y="57" width="6" height="3" fill="#ce0"/><rect x="39" y="57" width="3" height="3" fill="#ae0"/><rect x="42" y="57" width="6" height="3" fill="#9e0"/><rect x="48" y="57" width="3" height="3" fill="#ae0"/><rect x="51" y="57" width="3" height="3" fill="#be0"/><rect x="54" y="57" width="9" height="3" fill="#ce0"/><rect x="63" y="57" width="3" height="3" fill="#be0"/><rect x="66" y="57" width="3" height="3" fill="#8e0"/><rect x="69" y="57" width="3" height="3" fill="#4e0"/><rect x="72" y="57" width="3" height="3" fill="#2e1"/><rect x="75" y="57" width="3" height="3" fill="#0e3"/><rect x="78" y="57" width="3" height="3" fill="#0d5"/><rect x="81" y="57" width="3" height="3" fill="#0d8"/><rect x="84" y="57" width="3" height="3" fill="#0ca"/><rect x="87" y="57" width="3" height="3" fill="#0bc"/><rect x="90" y="57" width="3" height="3" fill="#1ad"/><rect x="93" y="57" width="3" height="3" fill="#19d"/><rect x="-3" y="60" width="3" height="3" fill="#0e4"/><rect x="0" y="60" width="3" height="3" fill="#0e2"/><rect x="3" y="60" width="6" height="3" fill="#1e2"/><rect x="9" y="60" width="3" height="3" fill="#2e2"/><rect x="12" y="60" width="3" height="3" fill="#2e1"/><rect x="15" y="60" width="3" height="3" fill="#4e1"/><rect x="18" y="60" width="3" height="3" fill="#5e0"/><rect x="21" y="60" width="3" height="3" fill="#7e0"/><rect x="24" y="60" width="3" height="3" fill="#ae0"/><rect x="27" y="60" width="3" height="3" fill="#be0"/><rect x="30" y="60" width="3" height="3" fill="#ce0"/><rect x="33" y="60" width="3" height="3" fill="#df0"/><rect x="36" y="60" width="24" height="3" fill="#ce0"/><rect x="60" y="60" width="3" height="3" fill="#be0"/><rect x="63" y="60" width="3" height="3" fill="#9e0"/><rect x="66" y="60" width="3" height="3" fill="#6e0"/><rect x="69" y="60" width="3" height="3" fill="#3e1"/><rect x="72" y="60" width="3" height="3" fill="#1e2"/><rect x="75" y="60" width="3" height="3" fill="#0e4"/><rect x="78" y="60" width="3" height="3" fill="#0d6"/><rect x="81" y="60" width="3" height="3" fill="#0d8"/><rect x="84" y="60" width="3" height="3" fill="#0cb"/><rect x="87" y="60" width="3" height="3" fill="#0bd"/><rect x="90" y="60" width="3" height="3" fill="#19d"/><rect x="93" y="60" width="3" height="3" fill="#18d"/><rect x="-3" y="63" width="3" height="3" fill="#0e2"/><rect x="0" y="63" width="3" height="3" fill="#2e2"/><rect x="3" y="63" width="3" height="3" fill="#2e1"/><rect x="6" y="63" width="6" height="3" fill="#2e2"/><rect x="12" y="63" width="3" height="3" fill="#2e1"/><rect x="15" y="63" width="3" height="3" fill="#3e1"/><rect x="18" y="63" width="3" height="3" fill="#4e0"/><rect x="21" y="63" width="3" height="3" fill="#5e0"/><rect x="24" y="63" width="3" height="3" fill="#8e0"/><rect x="27" y="63" width="3" height="3" fill="#ae0"/><rect x="30" y="63" width="3" height="3" fill="#be0"/><rect x="33" y="63" width="6" height="3" fill="#ce0"/><rect x="39" y="63" width="3" height="3" fill="#df0"/><rect x="42" y="63" width="6" height="3" fill="#ce0"/><rect x="48" y="63" width="3" height="3" fill="#cf0"/><rect x="51" y="63" width="6" height="3" fill="#ce0"/><rect x="57" y="63" width="3" height="3" fill="#be0"/><rect x="60" y="63" width="3" height="3" fill="#9e0"/><rect x="63" y="63" width="3" height="3" fill="#6e0"/><rect x="66" y="63" width="3" height="3" fill="#4e1"/><rect x="69" y="63" width="3" height="3" fill="#2e1"/><rect x="72" y="63" width="3" height="3" fill="#0e3"/><rect x="75" y="63" width="3" height="3" fill="#0e4"/><rect x="78" y="63" width="3" height="3" fill="#0d6"/><rect x="81" y="63" width="3" height="3" fill="#0c9"/><rect x="84" y="63" width="3" height="3" fill="#0bc"/><rect x="87" y="63" width="3" height="3" fill="#1ad"/><rect x="90" y="63" width="3" height="3" fill="#18d"/><rect x="93" y="63" width="3" height="3" fill="#17d"/><rect x="-3" y="66" width="3" height="3" fill="#3e1"/><rect x="0" y="66" width="6" height="3" fill="#5e0"/><rect x="6" y="66" width="3" height="3" fill="#3e1"/><rect x="9" y="66" width="3" height="3" fill="#2e1"/><rect x="12" y="66" width="3" height="3" fill="#2e2"/><rect x="15" y="66" width="3" height="3" fill="#2e1"/><rect x="18" y="66" width="3" height="3" fill="#3e1"/><rect x="21" y="66" width="3" height="3" fill="#4e0"/><rect x="24" y="66" width="3" height="3" fill="#5e0"/><rect x="27" y="66" width="3" height="3" fill="#7e0"/><rect x="30" y="66" width="3" height="3" fill="#9e0"/><rect x="33" y="66" width="3" height="3" fill="#ae0"/><rect x="36" y="66" width="18" height="3" fill="#be0"/><rect x="54" y="66" width="3" height="3" fill="#ae0"/><rect x="57" y="66" width="3" height="3" fill="#8e0"/><rect x="60" y="66" width="3" height="3" fill="#6e0"/><rect x="63" y="66" width="3" height="3" fill="#4e0"/><rect x="66" y="66" width="3" height="3" fill="#2e1"/><rect x="69" y="66" width="3" height="3" fill="#0e2"/><rect x="72" y="66" width="3" height="3" fill="#0e4"/><rect x="75" y="66" width="3" height="3" fill="#0d5"/><rect x="78" y="66" width="3" height="3" fill="#0d7"/><rect x="81" y="66" width="3" height="3" fill="#0ca"/><rect x="84" y="66" width="3" height="3" fill="#0bc"/><rect x="87" y="66" width="3" height="3" fill="#19d"/><rect x="90" y="66" width="6" height="3" fill="#17d"/><rect x="-3" y="69" width="3" height="3" fill="#7e0"/><rect x="0" y="69" width="3" height="3" fill="#be0"/><rect x="3" y="69" width="3" height="3" fill="#9e0"/><rect x="6" y="69" width="3" height="3" fill="#5e0"/><rect x="9" y="69" width="3" height="3" fill="#3e1"/><rect x="12" y="69" width="3" height="3" fill="#2e2"/><rect x="15" y="69" width="3" height="3" fill="#1e2"/><rect x="18" y="69" width="3" height="3" fill="#2e2"/><rect x="21" y="69" width="3" height="3" fill="#2e1"/><rect x="24" y="69" width="3" height="3" fill="#3e1"/><rect x="27" y="69" width="3" height="3" fill="#4e0"/><rect x="30" y="69" width="3" height="3" fill="#6e0"/><rect x="33" y="69" width="3" height="3" fill="#7e0"/><rect x="36" y="69" width="3" height="3" fill="#8e0"/><rect x="39" y="69" width="3" height="3" fill="#9e0"/><rect x="42" y="69" width="6" height="3" fill="#ae0"/><rect x="48" y="69" width="3" height="3" fill="#9e0"/><rect x="51" y="69" width="3" height="3" fill="#8e0"/><rect x="54" y="69" width="3" height="3" fill="#7e0"/><rect x="57" y="69" width="3" height="3" fill="#5e0"/><rect x="60" y="69" width="3" height="3" fill="#3e1"/><rect x="63" y="69" width="3" height="3" fill="#2e1"/><rect x="66" y="69" width="3" height="3" fill="#1e2"/><rect x="69" y="69" width="3" height="3" fill="#0e3"/><rect x="72" y="69" width="3" height="3" fill="#0e5"/><rect x="75" y="69" width="3" height="3" fill="#0d6"/><rect x="78" y="69" width="3" height="3" fill="#0c9"/><rect x="81" y="69" width="3" height="3" fill="#0cb"/><rect x="84" y="69" width="3" height="3" fill="#0ad"/><rect x="87" y="69" width="3" height="3" fill="#18d"/><rect x="90" y="69" width="6" height="3" fill="#16c"/><rect x="-3" y="72" width="3" height="3" fill="#be0"/><rect x="0" y="72" width="3" height="3" fill="#ef0"/><rect x="3" y="72" width="3" height="3" fill="#df0"/><rect x="6" y="72" width="3" height="3" fill="#9e0"/><rect x="9" y="72" width="3" height="3" fill="#4e0"/><rect x="12" y="72" width="3" height="3" fill="#2e1"/><rect x="15" y="72" width="9" height="3" fill="#1e2"/><rect x="24" y="72" width="3" height="3" fill="#2e1"/><rect x="27" y="72" width="3" height="3" fill="#3e1"/><rect x="30" y="72" width="3" height="3" fill="#4e1"/><rect x="33" y="72" width="3" height="3" fill="#4e0"/><rect x="36" y="72" width="6" height="3" fill="#5e0"/><rect x="42" y="72" width="6" height="3" fill="#6e0"/><rect x="48" y="72" width="3" height="3" fill="#5e0"/><rect x="51" y="72" width="6" height="3" fill="#4e0"/><rect x="57" y="72" width="3" height="3" fill="#3e1"/><rect x="60" y="72" width="3" height="3" fill="#2e1"/><rect x="63" y="72" width="3" height="3" fill="#0e2"/><rect x="66" y="72" width="3" height="3" fill="#0e3"/><rect x="69" y="72" width="3" height="3" fill="#0e4"/><rect x="72" y="72" width="3" height="3" fill="#0d6"/><rect x="75" y="72" width="3" height="3" fill="#0d7"/><rect x="78" y="72" width="3" height="3" fill="#0ca"/><rect x="81" y="72" width="3" height="3" fill="#0bc"/><rect x="84" y="72" width="3" height="3" fill="#19d"/><rect x="87" y="72" width="3" height="3" fill="#17d"/><rect x="90" y="72" width="3" height="3" fill="#16c"/><rect x="93" y="72" width="3" height="3" fill="#15c"/><rect x="-3" y="75" width="3" height="3" fill="#df0"/><rect x="0" y="75" width="3" height="3" fill="#ff0"/><rect x="3" y="75" width="3" height="3" fill="#ef0"/><rect x="6" y="75" width="3" height="3" fill="#df0"/><rect x="9" y="75" width="3" height="3" fill="#7e0"/><rect x="12" y="75" width="3" height="3" fill="#3e1"/><rect x="15" y="75" width="3" height="3" fill="#2e2"/><rect x="18" y="75" width="12" height="3" fill="#1e2"/><rect x="30" y="75" width="6" height="3" fill="#2e1"/><rect x="36" y="75" width="18" height="3" fill="#3e1"/><rect x="54" y="75" width="3" height="3" fill="#2e1"/><rect x="57" y="75" width="3" height="3" fill="#1e2"/><rect x="60" y="75" width="3" height="3" fill="#0e2"/><rect x="63" y="75" width="3" height="3" fill="#0e3"/><rect x="66" y="75" width="3" height="3" fill="#0e4"/><rect x="69" y="75" width="3" height="3" fill="#0d5"/><rect x="72" y="75" width="3" height="3" fill="#0d7"/><rect x="75" y="75" width="3" height="3" fill="#0c9"/><rect x="78" y="75" width="3" height="3" fill="#0cb"/><rect x="81" y="75" width="3" height="3" fill="#0ad"/><rect x="84" y="75" width="3" height="3" fill="#17d"/><rect x="87" y="75" width="3" height="3" fill="#16c"/><rect x="90" y="75" width="6" height="3" fill="#15c"/><rect x="-3" y="78" width="3" height="3" fill="#be0"/><rect x="0" y="78" width="6" height="3" fill="#ff0"/><rect x="6" y="78" width="3" height="3" fill="#ef0"/><rect x="9" y="78" width="3" height="3" fill="#ae0"/><rect x="12" y="78" width="3" height="3" fill="#5e0"/><rect x="15" y="78" width="3" height="3" fill="#2e1"/><rect x="18" y="78" width="12" height="3" fill="#0e2"/><rect x="30" y="78" width="24" height="3" fill="#1e2"/><rect x="54" y="78" width="3" height="3" fill="#0e2"/><rect x="57" y="78" width="6" height="3" fill="#0e3"/><rect x="63" y="78" width="3" height="3" fill="#0e4"/><rect x="66" y="78" width="3" height="3" fill="#0d5"/><rect x="69" y="78" width="3" height="3" fill="#0d6"/><rect x="72" y="78" width="3" height="3" fill="#0d8"/><rect x="75" y="78" width="3" height="3" fill="#0ca"/><rect x="78" y="78" width="3" height="3" fill="#0bc"/><rect x="81" y="78" width="3" height="3" fill="#19d"/><rect x="84" y="78" width="3" height="3" fill="#16c"/><rect x="87" y="78" width="3" height="3" fill="#15c"/><rect x="90" y="78" width="6" height="3" fill="#14b"/><rect x="-3" y="81" width="3" height="3" fill="#7e0"/><rect x="0" y="81" width="3" height="3" fill="#df0"/><rect x="3" y="81" width="6" height="3" fill="#ef0"/><rect x="9" y="81" width="3" height="3" fill="#ae0"/><rect x="12" y="81" width="3" height="3" fill="#4e0"/><rect x="15" y="81" width="3" height="3" fill="#1e2"/><rect x="18" y="81" width="12" height="3" fill="#0e3"/><rect x="30" y="81" width="24" height="3" fill="#0e2"/><rect x="54" y="81" width="6" height="3" fill="#0e3"/><rect x="60" y="81" width="3" height="3" fill="#0e4"/><rect x="63" y="81" width="3" height="3" fill="#0d5"/><rect x="66" y="81" width="3" height="3" fill="#0d6"/><rect x="69" y="81" width="3" height="3" fill="#0d8"/><rect x="72" y="81" width="3" height="3" fill="#0ca"/><rect x="75" y="81" width="3" height="3" fill="#0bb"/><rect x="78" y="81" width="3" height="3" fill="#1ad"/><rect x="81" y="81" width="3" height="3" fill="#17d"/><rect x="84" y="81" width="3" height="3" fill="#16c"/><rect x="87" y="81" width="9" height="3" fill="#14b"/><rect x="-3" y="84" width="3" height="3" fill="#1e2"/><rect x="0" y="84" width="3" height="3" fill="#6e0"/><rect x="3" y="84" width="3" height="3" fill="#9e0"/><rect x="6" y="84" width="3" height="3" fill="#8e0"/><rect x="9" y="84" width="3" height="3" fill="#5e0"/><rect x="12" y="84" width="3" height="3" fill="#2e1"/><rect x="15" y="84" width="3" height="3" fill="#0e3"/><rect x="18" y="84" width="12" height="3" fill="#0e4"/><rect x="30" y="84" width="24" height="3" fill="#0e3"/><rect x="54" y="84" width="6" height="3" fill="#0e4"/><rect x="60" y="84" width="3" height="3" fill="#0d5"/><rect x="63" y="84" width="3" height="3" fill="#0d6"/><rect x="66" y="84" width="3" height="3" fill="#0d7"/><rect x="69" y="84" width="3" height="3" fill="#0c9"/><rect x="72" y="84" width="3" height="3" fill="#0cb"/><rect x="75" y="84" width="3" height="3" fill="#0bd"/><rect x="78" y="84" width="3" height="3" fill="#19d"/><rect x="81" y="84" width="3" height="3" fill="#16c"/><rect x="84" y="84" width="3" height="3" fill="#15c"/><rect x="87" y="84" width="3" height="3" fill="#14b"/><rect x="90" y="84" width="6" height="3" fill="#13a"/><rect x="-3" y="87" width="3" height="3" fill="#0d6"/><rect x="0" y="87" width="3" height="3" fill="#0e3"/><rect x="3" y="87" width="6" height="3" fill="#1e2"/><rect x="9" y="87" width="3" height="3" fill="#0e2"/><rect x="12" y="87" width="3" height="3" fill="#0e4"/><rect x="15" y="87" width="3" height="3" fill="#0e5"/><rect x="18" y="87" width="6" height="3" fill="#0d5"/><rect x="24" y="87" width="3" height="3" fill="#0e5"/><rect x="27" y="87" width="27" height="3" fill="#0e4"/><rect x="54" y="87" width="3" height="3" fill="#0e5"/><rect x="57" y="87" width="3" height="3" fill="#0d5"/><rect x="60" y="87" width="3" height="3" fill="#0d6"/><rect x="63" y="87" width="3" height="3" fill="#0d7"/><rect x="66" y="87" width="3" height="3" fill="#0d9"/><rect x="69" y="87" width="3" height="3" fill="#0ca"/><rect x="72" y="87" width="3" height="3" fill="#0bc"/><rect x="75" y="87" width="3" height="3" fill="#1ad"/><rect x="78" y="87" width="3" height="3" fill="#17d"/><rect x="81" y="87" width="3" height="3" fill="#16c"/><rect x="84" y="87" width="6" height="3" fill="#14b"/><rect x="90" y="87" width="6" height="3" fill="#13a"/><rect x="-3" y="90" width="3" height="3" fill="#0ca"/><rect x="0" y="90" width="3" height="3" fill="#0d8"/><rect x="3" y="90" width="3" height="3" fill="#0d7"/><rect x="6" y="90" width="9" height="3" fill="#0d6"/><rect x="15" y="90" width="3" height="3" fill="#0d7"/><rect x="18" y="90" width="9" height="3" fill="#0d6"/><rect x="27" y="90" width="9" height="3" fill="#0d5"/><rect x="36" y="90" width="12" height="3" fill="#0e5"/><rect x="48" y="90" width="6" height="3" fill="#0d5"/><rect x="54" y="90" width="6" height="3" fill="#0d6"/><rect x="60" y="90" width="3" height="3" fill="#0d7"/><rect x="63" y="90" width="3" height="3" fill="#0d8"/><rect x="66" y="90" width="3" height="3" fill="#0ca"/><rect x="69" y="90" width="3" height="3" fill="#0cb"/><rect x="72" y="90" width="3" height="3" fill="#0bd"/><rect x="75" y="90" width="3" height="3" fill="#19d"/><rect x="78" y="90" width="3" height="3" fill="#17d"/><rect x="81" y="90" width="3" height="3" fill="#15c"/><rect x="84" y="90" width="3" height="3" fill="#14b"/><rect x="87" y="90" width="9" height="3" fill="#13a"/><rect x="-3" y="93" width="6" height="3" fill="#0cb"/><rect x="3" y="93" width="3" height="3" fill="#0ca"/><rect x="6" y="93" width="6" height="3" fill="#0c9"/><rect x="12" y="93" width="3" height="3" fill="#0d9"/><rect x="15" y="93" width="6" height="3" fill="#0d8"/><rect x="21" y="93" width="9" height="3" fill="#0d7"/><rect x="30" y="93" width="24" height="3" fill="#0d6"/><rect x="54" y="93" width="6" height="3" fill="#0d7"/><rect x="60" y="93" width="3" height="3" fill="#0d8"/><rect x="63" y="93" width="3" height="3" fill="#0ca"/><rect x="66" y="93" width="3" height="3" fill="#0cb"/><rect x="69" y="93" width="3" height="3" fill="#0bc"/><rect x="72" y="93" width="3" height="3" fill="#0ad"/><rect x="75" y="93" width="3" height="3" fill="#18d"/><rect x="78" y="93" width="3" height="3" fill="#16c"/><rect x="81" y="93" width="3" height="3" fill="#15c"/><rect x="84" y="93" width="3" height="3" fill="#14b"/><rect x="87" y="93" width="3" height="3" fill="#13b"/><rect x="90" y="93" width="6" height="3" fill="#13a"/></g><ellipse cx="45" cy="45.3" rx="7.3" ry="5.8" fill="#10c8e0" filter="url(#btBb)"/><ellipse cx="45" cy="45.3" rx="6.5" ry="5.0" fill="#1448c0" filter="url(#btBb)"/><ellipse cx="45" cy="45.3" rx="5.7" ry="4.1" fill="#1c2290" filter="url(#btBb)"/><ellipse cx="45" cy="45.3" rx="3" ry="2.2" fill="#3a3aa0" opacity="0.6" filter="url(#btBb)"/><rect x="0.4" y="0.4" width="91.2" height="91.2" fill="none" stroke="#30f0e0" stroke-width="0.8" opacity="0.8"/></g><line x1="45" y1="0" x2="45" y2="92" stroke="#c03cc0" stroke-width="1" opacity="0.55"/><line x1="0" y1="45.3" x2="92" y2="45.3" stroke="#10e0f0" stroke-width="1" opacity="0.6"/></g>
<text x="66" y="132.8" font-size="5.85" text-anchor="middle" font-weight="normal" fill="#222" >Fovea: 249, 65</text>
<text x="252.2" y="132.8" font-size="5.85" text-anchor="middle" font-weight="normal" fill="#222" >Fovea: 258, 65</text>
<defs><linearGradient id="cbB" x1="0" y1="0" x2="0" y2="1"><stop offset="0" stop-color="#ffd8d8"/><stop offset="0.03" stop-color="#ff7070"/><stop offset="0.07" stop-color="#ff2a10"/><stop offset="0.12" stop-color="#ff4400"/><stop offset="0.2" stop-color="#ff9800"/><stop offset="0.24" stop-color="#ffee00"/><stop offset="0.3" stop-color="#f4ff00"/><stop offset="0.36" stop-color="#80ff00"/><stop offset="0.4" stop-color="#00f000"/><stop offset="0.44" stop-color="#00dd40"/><stop offset="0.47" stop-color="#00c0a0"/><stop offset="0.5" stop-color="#00a8e0"/><stop offset="0.53" stop-color="#0050c8"/><stop offset="0.58" stop-color="#0020a0"/><stop offset="0.62" stop-color="#1a2a88"/><stop offset="0.68" stop-color="#6070a8"/><stop offset="0.72" stop-color="#9098b0"/><stop offset="0.76" stop-color="#b0b0b0"/><stop offset="0.82" stop-color="#909090"/><stop offset="0.92" stop-color="#404040"/><stop offset="1" stop-color="#080808"/></linearGradient></defs>
<rect x="165" y="35" width="8" height="89.4" fill="url(#cbB)"/>
<text x="160.6" y="41" font-size="6.9" text-anchor="end" font-weight="normal" fill="#383838" letter-spacing="0.25">500</text>
<text x="160.6" y="55" font-size="6.9" text-anchor="end" font-weight="normal" fill="#383838" letter-spacing="0.25">400</text>
<text x="160.6" y="72.5" font-size="6.9" text-anchor="end" font-weight="normal" fill="#383838" letter-spacing="0.25">300</text>
<text x="160.6" y="90.6" font-size="6.9" text-anchor="end" font-weight="normal" fill="#383838" letter-spacing="0.25">200</text>
<text x="160.6" y="108" font-size="6.9" text-anchor="end" font-weight="normal" fill="#383838" letter-spacing="0.25">100</text>
<text x="148.3" y="123.6" font-size="6.9" text-anchor="start" font-weight="normal" fill="#383838" >0 µm</text>
<text x="154.5" y="59.6" font-size="41" fill="#000">B</text>
<defs><radialGradient id="ig" cx="0.45" cy="0.4" r="0.6"><stop offset="0" stop-color="#fafafa"/><stop offset="0.55" stop-color="#dedede"/><stop offset="1" stop-color="#9c9c9c"/></radialGradient></defs><circle cx="161.5" cy="141.1" r="6.2" fill="url(#ig)"/><text x="161.6" y="144.4" font-size="9" font-style="italic" font-weight="bold" text-anchor="middle" fill="#2a2a2a" font-family="Liberation Serif">i</text>
<text x="43" y="151.8" font-size="5.45" text-anchor="middle" font-weight="normal" fill="#222" >OD OCT Fundus</text>
<g transform="translate(7.5,154.5)"><defs><radialGradient id="fgBfa" cx="34.6" cy="37" r="56.800000000000004" gradientUnits="userSpaceOnUse"><stop offset="0" stop-color="#b4b4b4"/><stop offset="0.22" stop-color="#c8c8c8"/><stop offset="0.6" stop-color="#cfcfcf"/><stop offset="1" stop-color="#c4c4c4"/></radialGradient><clipPath id="fcBfa"><rect width="71" height="74"/></clipPath><filter id="fnBfa" x="0" y="0" width="100%" height="100%" color-interpolation-filters="sRGB"><feTurbulence type="fractalNoise" baseFrequency="0.8" numOctaves="2" seed="5"/><feColorMatrix type="matrix" values="0 0 0 0 0.45  0 0 0 0 0.45  0 0 0 0 0.45  0 0 1.4 0 -0.6"/></filter><filter id="fbBfa" x="-50%" y="-50%" width="200%" height="200%"><feGaussianBlur stdDeviation="2"/></filter></defs><g clip-path="url(#fcBfa)"><rect width="71" height="74" fill="url(#fgBfa)"/><rect width="71" height="74" filter="url(#fnBfa)" opacity="0.22"/><path d="M0,13.6 L0.3,13.4 L8.8,10.6 L16.3,9.1 L25.6,8.2 L32.2,8.8 L40.7,12.5 L46.3,15.3 L53.8,16.8 L63.2,17.8 L71,17.2" fill="none" stroke="#848484" stroke-width="0.60" stroke-linejoin="round" opacity="0.8"/><path d="M25.6,8.2 L22.8,12.5 L21,18.1 L19.6,25.6 L19.4,29" fill="none" stroke="#848484" stroke-width="0.48" stroke-linejoin="round" opacity="0.8"/><path d="M32.2,8.8 L33.1,5 L33.5,0" fill="none" stroke="#848484" stroke-width="0.44" stroke-linejoin="round" opacity="0.8"/><path d="M40,20 L42.5,21.9 L50,24.7 L59.4,25.6 L71,24.7" fill="none" stroke="#848484" stroke-width="0.48" stroke-linejoin="round" opacity="0.8"/><path d="M1.3,42.5 L6.9,50 L12.5,59.4 L18.1,72.5 L18.5,74" fill="none" stroke="#848484" stroke-width="0.48" stroke-linejoin="round" opacity="0.8"/><path d="M16.3,44.4 L23.8,51.9 L33.1,59.4 L40.7,66.9 L46.3,72.5 L47,74" fill="none" stroke="#848484" stroke-width="0.48" stroke-linejoin="round" opacity="0.8"/><path d="M71,39.7 L59.4,45.3 L50,51.9 L45.3,59.4 L44.4,72.5 L44.4,74" fill="none" stroke="#848484" stroke-width="0.52" stroke-linejoin="round" opacity="0.8"/><path d="M5,53.8 L3.1,65 L4.1,72.5 L4.3,74" fill="none" stroke="#848484" stroke-width="0.40" stroke-linejoin="round" opacity="0.8"/><path d="M59.4,53.8 L65,63.2 L68.8,72.5" fill="none" stroke="#848484" stroke-width="0.40" stroke-linejoin="round" opacity="0.8"/><path d="M9,12 L8.2,20 L7.5,30 L7,38" fill="none" stroke="#848484" stroke-width="0.32" stroke-linejoin="round" opacity="0.8"/><path d="M46,15.5 L52,10 L58,7 L66,5" fill="none" stroke="#848484" stroke-width="0.32" stroke-linejoin="round" opacity="0.8"/></g><line x1="34.6" y1="0" x2="34.6" y2="74" stroke="#dc7ce0" stroke-width="1.45"/><line x1="0" y1="37" x2="71" y2="37" stroke="#5ed2da" stroke-width="1.15"/><circle cx="33.7" cy="36.6" r="1.3" fill="#ff0000"/><rect x="-0.5" y="-0.5" width="72" height="75" fill="none" stroke="#262626" stroke-width="1.25"/></g>
<text x="113.4" y="152.5" font-size="5.6" text-anchor="middle" font-weight="normal" fill="#222" >OD ILM-RPE Thickness</text>
<rect x="82.8" y="155.8" width="59" height="59" fill="#fff" stroke="none"/><path d="M82.8,214.8 V155.8 H141.8" fill="none" stroke="#c4c4c4" stroke-width="1"/><path d="M141.8,155.8 V214.8 H82.8" fill="none" stroke="#444" stroke-width="1"/><path d="M91.41,165.21 A28.7,28.7 0 0 1 131.99,165.21 L122.02,175.18 A14.6,14.6 0 0 0 101.38,175.18 Z" fill="#66fc66"/><path d="M101.38,175.18 A14.6,14.6 0 0 1 122.02,175.18 L115.16,182.04 A4.9,4.9 0 0 0 108.24,182.04 Z" fill="#66fc66"/><path d="M131.99,165.21 A28.7,28.7 0 0 1 131.99,205.79 L122.02,195.82 A14.6,14.6 0 0 0 122.02,175.18 Z" fill="#66fc66"/><path d="M122.02,175.18 A14.6,14.6 0 0 1 122.02,195.82 L115.16,188.96 A4.9,4.9 0 0 0 115.16,182.04 Z" fill="#66fc66"/><path d="M131.99,205.79 A28.7,28.7 0 0 1 91.41,205.79 L101.38,195.82 A14.6,14.6 0 0 0 122.02,195.82 Z" fill="#66fc66"/><path d="M122.02,195.82 A14.6,14.6 0 0 1 101.38,195.82 L108.24,188.96 A4.9,4.9 0 0 0 115.16,188.96 Z" fill="#66fc66"/><path d="M91.41,205.79 A28.7,28.7 0 0 1 91.41,165.21 L101.38,175.18 A14.6,14.6 0 0 0 101.38,195.82 Z" fill="#66fc66"/><path d="M101.38,195.82 A14.6,14.6 0 0 1 101.38,175.18 L108.24,182.04 A4.9,4.9 0 0 0 108.24,188.96 Z" fill="#66fc66"/><circle cx="111.69999999999999" cy="185.5" r="4.9" fill="#66fc66"/><circle cx="111.69999999999999" cy="185.5" r="28.7" fill="none" stroke="#2a4a2a" stroke-width="0.35" opacity="0.6"/><circle cx="111.69999999999999" cy="185.5" r="14.6" fill="none" stroke="#2a4a2a" stroke-width="0.45"/><circle cx="111.69999999999999" cy="185.5" r="4.9" fill="none" stroke="#2a4a2a" stroke-width="0.45"/><line x1="115.16" y1="188.96" x2="131.99" y2="205.79" stroke="#2a4a2a" stroke-width="0.45"/><line x1="108.24" y1="188.96" x2="91.41" y2="205.79" stroke="#2a4a2a" stroke-width="0.45"/><line x1="108.24" y1="182.04" x2="91.41" y2="165.21" stroke="#2a4a2a" stroke-width="0.45"/><line x1="115.16" y1="182.04" x2="131.99" y2="165.21" stroke="#2a4a2a" stroke-width="0.45"/><text x="111.70" y="186.95" font-size="4.15" text-anchor="middle" font-weight="normal" fill="#111" >230</text><text x="111.70" y="176.35" font-size="4.15" text-anchor="middle" font-weight="normal" fill="#111" >331</text><text x="122.10" y="186.95" font-size="4.15" text-anchor="middle" font-weight="normal" fill="#111" >320</text><text x="111.70" y="196.95" font-size="4.15" text-anchor="middle" font-weight="normal" fill="#111" >323</text><text x="100.90" y="186.95" font-size="4.15" text-anchor="middle" font-weight="normal" fill="#111" >312</text><text x="111.70" y="163.95" font-size="4.15" text-anchor="middle" font-weight="normal" fill="#111" >288</text><text x="133.90" y="186.95" font-size="4.15" text-anchor="middle" font-weight="normal" fill="#111" >305</text><text x="111.70" y="209.35" font-size="4.15" text-anchor="middle" font-weight="normal" fill="#111" >274</text><text x="89.30" y="186.95" font-size="4.15" text-anchor="middle" font-weight="normal" fill="#111" >287</text>
<rect x="146.7" y="156.9" width="29.6" height="57.8" fill="#fff" stroke="#666" stroke-width="0.9"/><text x="161.5" y="162.0" font-size="5.0" text-anchor="middle" font-weight="normal" fill="#151515" >Diversified</text><text x="161.5" y="167.4" font-size="5.0" text-anchor="middle" font-weight="normal" fill="#151515" >Distribution</text><text x="161.5" y="172.8" font-size="5.0" text-anchor="middle" font-weight="normal" fill="#151515" >of Normals</text><rect x="150.29999999999998" y="175.50" width="11.2" height="7.70" fill="#ffb8c4" stroke="#3a3a3a" stroke-width="0.45"/><rect x="150.29999999999998" y="183.20" width="11.2" height="7.70" fill="#fbf58c" stroke="#3a3a3a" stroke-width="0.45"/><rect x="150.29999999999998" y="190.90" width="11.2" height="7.70" fill="#66fc66" stroke="#3a3a3a" stroke-width="0.45"/><rect x="150.29999999999998" y="198.60" width="11.2" height="7.70" fill="#f4f034" stroke="#3a3a3a" stroke-width="0.45"/><rect x="150.29999999999998" y="206.30" width="11.2" height="7.70" fill="#f46060" stroke="#3a3a3a" stroke-width="0.45"/><line x1="161.49999999999997" y1="183.20" x2="163.89999999999998" y2="183.20" stroke="#333" stroke-width="0.5"/><text x="163.80" y="185.00" font-size="5.1" text-anchor="start" font-weight="normal" fill="#151515" >99%</text><line x1="161.49999999999997" y1="190.90" x2="163.89999999999998" y2="190.90" stroke="#333" stroke-width="0.5"/><text x="163.80" y="192.70" font-size="5.1" text-anchor="start" font-weight="normal" fill="#151515" >95%</text><line x1="161.49999999999997" y1="198.60" x2="163.89999999999998" y2="198.60" stroke="#333" stroke-width="0.5"/><text x="163.80" y="200.40" font-size="5.1" text-anchor="start" font-weight="normal" fill="#151515" >5%</text><line x1="161.49999999999997" y1="206.30" x2="163.89999999999998" y2="206.30" stroke="#333" stroke-width="0.5"/><text x="163.80" y="208.10" font-size="5.1" text-anchor="start" font-weight="normal" fill="#151515" >1%</text>
<text x="210.3" y="152.5" font-size="5.55" text-anchor="middle" font-weight="normal" fill="#222" >OS ILM-RPE Thickness</text>
<rect x="180.1" y="156.3" width="59" height="59" fill="#fff" stroke="none"/><path d="M180.1,215.3 V156.3 H239.1" fill="none" stroke="#c4c4c4" stroke-width="1"/><path d="M239.1,156.3 V215.3 H180.1" fill="none" stroke="#444" stroke-width="1"/><path d="M189.31,165.71 A28.7,28.7 0 0 1 229.89,165.71 L219.92,175.68 A14.6,14.6 0 0 0 199.28,175.68 Z" fill="#66fc66"/><path d="M199.28,175.68 A14.6,14.6 0 0 1 219.92,175.68 L213.06,182.54 A4.9,4.9 0 0 0 206.14,182.54 Z" fill="#66fc66"/><path d="M229.89,165.71 A28.7,28.7 0 0 1 229.89,206.29 L219.92,196.32 A14.6,14.6 0 0 0 219.92,175.68 Z" fill="#66fc66"/><path d="M219.92,175.68 A14.6,14.6 0 0 1 219.92,196.32 L213.06,189.46 A4.9,4.9 0 0 0 213.06,182.54 Z" fill="#66fc66"/><path d="M229.89,206.29 A28.7,28.7 0 0 1 189.31,206.29 L199.28,196.32 A14.6,14.6 0 0 0 219.92,196.32 Z" fill="#66fc66"/><path d="M219.92,196.32 A14.6,14.6 0 0 1 199.28,196.32 L206.14,189.46 A4.9,4.9 0 0 0 213.06,189.46 Z" fill="#66fc66"/><path d="M189.31,206.29 A28.7,28.7 0 0 1 189.31,165.71 L199.28,175.68 A14.6,14.6 0 0 0 199.28,196.32 Z" fill="#66fc66"/><path d="M199.28,196.32 A14.6,14.6 0 0 1 199.28,175.68 L206.14,182.54 A4.9,4.9 0 0 0 206.14,189.46 Z" fill="#66fc66"/><circle cx="209.6" cy="186.0" r="4.9" fill="#66fc66"/><circle cx="209.6" cy="186.0" r="28.7" fill="none" stroke="#2a4a2a" stroke-width="0.35" opacity="0.6"/><circle cx="209.6" cy="186.0" r="14.6" fill="none" stroke="#2a4a2a" stroke-width="0.45"/><circle cx="209.6" cy="186.0" r="4.9" fill="none" stroke="#2a4a2a" stroke-width="0.45"/><line x1="213.06" y1="189.46" x2="229.89" y2="206.29" stroke="#2a4a2a" stroke-width="0.45"/><line x1="206.14" y1="189.46" x2="189.31" y2="206.29" stroke="#2a4a2a" stroke-width="0.45"/><line x1="206.14" y1="182.54" x2="189.31" y2="165.71" stroke="#2a4a2a" stroke-width="0.45"/><line x1="213.06" y1="182.54" x2="229.89" y2="165.71" stroke="#2a4a2a" stroke-width="0.45"/><text x="209.60" y="187.45" font-size="4.15" text-anchor="middle" font-weight="normal" fill="#111" >230</text><text x="209.60" y="176.85" font-size="4.15" text-anchor="middle" font-weight="normal" fill="#111" >324</text><text x="220.00" y="187.45" font-size="4.15" text-anchor="middle" font-weight="normal" fill="#111" >311</text><text x="209.60" y="197.45" font-size="4.15" text-anchor="middle" font-weight="normal" fill="#111" >329</text><text x="198.80" y="187.45" font-size="4.15" text-anchor="middle" font-weight="normal" fill="#111" >321</text><text x="209.60" y="164.45" font-size="4.15" text-anchor="middle" font-weight="normal" fill="#111" >285</text><text x="231.80" y="187.45" font-size="4.15" text-anchor="middle" font-weight="normal" fill="#111" >271</text><text x="209.60" y="209.85" font-size="4.15" text-anchor="middle" font-weight="normal" fill="#111" >283</text><text x="187.20" y="187.45" font-size="4.15" text-anchor="middle" font-weight="normal" fill="#111" >308</text>
<text x="281" y="151.8" font-size="5.45" text-anchor="middle" font-weight="normal" fill="#222" >OS OCT Fundus</text>
<g transform="translate(245.3,154.9)"><defs><radialGradient id="fgBfb" cx="35.4" cy="36.5" r="56.800000000000004" gradientUnits="userSpaceOnUse"><stop offset="0" stop-color="#a2a2a2"/><stop offset="0.22" stop-color="#acacac"/><stop offset="0.6" stop-color="#b6b6b6"/><stop offset="1" stop-color="#b2b2b2"/></radialGradient><clipPath id="fcBfb"><rect width="71" height="73.3"/></clipPath><filter id="fnBfb" x="0" y="0" width="100%" height="100%" color-interpolation-filters="sRGB"><feTurbulence type="fractalNoise" baseFrequency="0.8" numOctaves="2" seed="5"/><feColorMatrix type="matrix" values="0 0 0 0 0.45  0 0 0 0 0.45  0 0 0 0 0.45  0 0 1.4 0 -0.6"/></filter><filter id="fbBfb" x="-50%" y="-50%" width="200%" height="200%"><feGaussianBlur stdDeviation="2"/></filter></defs><g clip-path="url(#fcBfb)"><rect width="71" height="73.3" fill="url(#fgBfb)"/><ellipse cx="2" cy="66" rx="5" ry="8" fill="#e0e0e0" opacity="0.85" filter="url(#fbBfb)"/><rect width="71" height="73.3" filter="url(#fnBfb)" opacity="0.22"/><path d="M0,12.2 L0.5,12.1 L7.1,11.2 L12.7,9.3 L16.5,10.6 L22.1,14.4 L28.7,17.7 L35.2,19.6" fill="none" stroke="#848484" stroke-width="0.56" stroke-linejoin="round" opacity="0.8"/><path d="M0,28.3 L0.5,28.1 L9,25.2 L18.3,23.4 L25.8,22.4" fill="none" stroke="#848484" stroke-width="0.44" stroke-linejoin="round" opacity="0.8"/><path d="M44.6,0 L40.9,8.4 L39,15.9 L38.5,20" fill="none" stroke="#848484" stroke-width="0.40" stroke-linejoin="round" opacity="0.8"/><path d="M52.1,0 L48.4,6.5 L44.6,14 L42.7,23.4" fill="none" stroke="#848484" stroke-width="0.36" stroke-linejoin="round" opacity="0.8"/><path d="M59.6,2.7 L54,12.1 L52.1,21.5" fill="none" stroke="#848484" stroke-width="0.36" stroke-linejoin="round" opacity="0.8"/><path d="M40.9,8.4 L52.1,12.1 L63.4,17.7 L71,21.5" fill="none" stroke="#848484" stroke-width="0.40" stroke-linejoin="round" opacity="0.8"/><path d="M71,42.1 L61.5,45.9 L52.1,51.5 L42.7,55.3 L31.5,59 L20.2,61.8 L9,60.9 L1.5,57.1 L0,56.5" fill="none" stroke="#848484" stroke-width="0.60" stroke-linejoin="round" opacity="0.8"/><path d="M61.5,45.9 L57.7,57.1 L50.2,66.5 L42.7,72.1 L40,73.3" fill="none" stroke="#848484" stroke-width="0.48" stroke-linejoin="round" opacity="0.8"/><path d="M0,59 L1.5,60.9 L9,68.4 L12.7,72.1 L13.5,73.3" fill="none" stroke="#848484" stroke-width="0.48" stroke-linejoin="round" opacity="0.8"/><path d="M14,46 L21,44 L27,42" fill="none" stroke="#848484" stroke-width="0.32" stroke-linejoin="round" opacity="0.8"/></g><line x1="35.4" y1="0" x2="35.4" y2="73.3" stroke="#dc7ce0" stroke-width="1.45"/><line x1="0" y1="36.5" x2="71" y2="36.5" stroke="#5ed2da" stroke-width="1.15"/><circle cx="34.5" cy="36.1" r="1.3" fill="#ff0000"/><rect x="-0.5" y="-0.5" width="72" height="74.3" fill="none" stroke="#262626" stroke-width="1.25"/></g>
<rect x="188.3" y="228.3" width="37.69999999999999" height="9.099999999999994" fill="#66fc66"/><rect x="188.3" y="237.4" width="37.69999999999999" height="9.199999999999989" fill="#66fc66"/><rect x="188.3" y="246.6" width="37.69999999999999" height="9.400000000000006" fill="#66fc66"/><rect x="95.5" y="219.1" width="130" height="36.400000000000006" fill="none" stroke="#333" stroke-width="1"/><line x1="95" y1="219.1" x2="226" y2="219.1" stroke="#999" stroke-width="1.4"/><line x1="95" y1="228.3" x2="226" y2="228.3" stroke="#333" stroke-width="0.8"/><line x1="95" y1="237.4" x2="226" y2="237.4" stroke="#333" stroke-width="0.8"/><line x1="95" y1="246.6" x2="226" y2="246.6" stroke="#333" stroke-width="0.8"/><line x1="188.3" y1="218.6" x2="188.3" y2="256.0" stroke="#333" stroke-width="0.8"/><line x1="206.5" y1="218.6" x2="206.5" y2="256.0" stroke="#333" stroke-width="0.8"/><text x="141.6" y="225.4" font-size="5.2" text-anchor="middle" font-weight="bold" fill="#222" >ILM - RPE</text><text x="197.4" y="225.4" font-size="5.2" text-anchor="middle" font-weight="bold" fill="#222" >OD</text><text x="216.25" y="225.4" font-size="5.2" text-anchor="middle" font-weight="bold" fill="#222" >OS</text><text x="141.6" y="234.70000000000002" font-size="5.35" text-anchor="middle" font-weight="normal" fill="#333" >Thickness Central Subfield (µm)</text><text x="197.4" y="234.70000000000002" font-size="5.35" text-anchor="middle" font-weight="normal" fill="#1a2a1a" >230</text><text x="216.25" y="234.70000000000002" font-size="5.35" text-anchor="middle" font-weight="normal" fill="#1a2a1a" >230</text><text x="141.6" y="243.8" font-size="5.35" text-anchor="middle" font-weight="normal" fill="#333" >Volume Cube (mm³)</text><text x="197.4" y="243.8" font-size="5.35" text-anchor="middle" font-weight="normal" fill="#1a2a1a" >10,3</text><text x="216.25" y="243.8" font-size="5.35" text-anchor="middle" font-weight="normal" fill="#1a2a1a" >10,4</text><text x="141.6" y="253.0" font-size="5.35" text-anchor="middle" font-weight="normal" fill="#333" >Thickness Avg Cube (µm)</text><text x="197.4" y="253.0" font-size="5.35" text-anchor="middle" font-weight="normal" fill="#1a2a1a" >285</text><text x="216.25" y="253.0" font-size="5.35" text-anchor="middle" font-weight="normal" fill="#1a2a1a" >288</text>
<text x="7" y="262.3" font-size="5.45" text-anchor="start" font-weight="normal" fill="#222" >OD Horizontal B-Scan</text>
<text x="112.3" y="262.3" font-size="5.6" font-weight="bold" fill="#222" textLength="20.4" lengthAdjust="spacingAndGlyphs">BScan:</text>
<text x="137.1" y="262.3" font-size="5.6" text-anchor="start" font-weight="normal" fill="#222" >65</text>
<g transform="translate(5.2,264)"><defs><clipPath id="bcBba"><rect width="140.8" height="99.4"/></clipPath><filter id="nzBba" x="0" y="0" width="100%" height="100%" color-interpolation-filters="sRGB"><feTurbulence type="fractalNoise" baseFrequency="0.95" numOctaves="2" seed="3" result="n"/><feColorMatrix type="matrix" values="0 0 0 0 0.12  0 0 0 0 0.30  0 0 0 0 0.52  2.4 0 0 0 -1.0"/></filter><filter id="dkBba" x="0" y="0" width="100%" height="100%" color-interpolation-filters="sRGB"><feTurbulence type="fractalNoise" baseFrequency="0.9" numOctaves="2" seed="14"/><feColorMatrix type="matrix" values="0 0 0 0 0.02  0 0 0 0 0.06  0 0 0 0 0.16  2.6 0 0 0 -1.0"/></filter><filter id="csBba" x="-5%" y="-60%" width="110%" height="220%" color-interpolation-filters="sRGB"><feTurbulence type="fractalNoise" baseFrequency="0.85" numOctaves="2" seed="8" result="n"/><feColorMatrix in="n" type="matrix" values="0 0 0 0 0.10  0 0 0 0 0.44  0 0 0 0 0.62  2.6 0 0 0 -0.95" result="c"/><feGaussianBlur in="SourceAlpha" stdDeviation="3" result="m"/><feComposite in="c" in2="m" operator="in"/></filter><filter id="sbBba" x="-5%" y="-50%" width="110%" height="200%"><feGaussianBlur stdDeviation="0.8"/></filter><filter id="sb2Bba" x="-5%" y="-50%" width="110%" height="200%"><feGaussianBlur stdDeviation="2.4"/></filter></defs><g clip-path="url(#bcBba)"><rect width="140.8" height="99.4" fill="#06112c"/><rect width="140.8" height="99.4" filter="url(#nzBba)"/><path d="M-4.0,52.6 L0.0,52.6 L30.0,56.0 L60.0,59.0 L70.0,60.6 L100.0,60.0 L141.0,59.0 L144.8,59.0 L144.8,74.0 L141.0,74.0 L100.0,75.0 L70.0,75.6 L60.0,74.0 L30.0,71.0 L0.0,67.6 L-4.0,67.6 Z" fill="#1a5a8a" opacity="0.25" filter="url(#sb2Bba)"/><path d="M-4.0,50.6 L0.0,50.6 L30.0,54.0 L60.0,57.0 L70.0,58.6 L100.0,58.0 L141.0,57.0 L144.8,57.0 L144.8,76.0 L141.0,76.0 L100.0,77.0 L70.0,77.6 L60.0,76.0 L30.0,73.0 L0.0,69.6 L-4.0,69.6 Z" fill="#000" opacity="0.85" filter="url(#csBba)"/><path d="M-4.0,50.1 L0.0,50.1 L30.0,53.5 L60.0,56.5 L70.0,58.1 L100.0,57.5 L141.0,56.5 L144.8,56.5 L144.8,64.0 L141.0,64.0 L100.0,65.0 L70.0,65.6 L60.0,64.0 L30.0,61.0 L0.0,57.6 L-4.0,57.6 Z" fill="#1aa878" opacity="0.75" filter="url(#sb2Bba)"/><path d="M-4.0,48.4 L0.0,48.4 L30.0,51.8 L60.0,54.8 L70.0,56.4 L100.0,55.8 L141.0,54.8 L144.8,54.8 L144.8,58.6 L141.0,58.6 L100.0,59.6 L70.0,60.2 L60.0,58.6 L30.0,55.6 L0.0,52.2 L-4.0,52.2 Z" fill="#70dc28" opacity="1" filter="url(#sbBba)"/><clipPath id="rcBba"><path d="M-4.0,34.7 L0.0,34.7 L20.0,36.2 L43.0,38.3 L50.0,40.0 L55.0,42.6 L62.0,46.5 L69.0,48.4 L74.0,46.5 L80.0,42.5 L88.0,40.0 L98.0,39.0 L141.0,38.3 L144.8,38.3 L144.8,55.0 L141.0,55.0 L100.0,56.0 L70.0,56.6 L60.0,55.0 L30.0,52.0 L0.0,48.6 L-4.0,48.6 Z"/></clipPath><g clip-path="url(#rcBba)"><rect x="-5" y="0" width="150.8" height="99.4" fill="#3ccc40"/><path d="M-4.0,36.2 L0.0,36.2 L30.0,39.6 L60.0,42.6 L70.0,44.2 L100.0,43.6 L141.0,42.6 L144.8,42.6 L144.8,45.0 L141.0,45.0 L100.0,46.0 L70.0,46.6 L60.0,45.0 L30.0,42.0 L0.0,38.6 L-4.0,38.6 Z" fill="#1a9c78" opacity="0.7" filter="url(#sbBba)"/><path d="M-4.0,40.8 L0.0,40.8 L30.0,44.2 L60.0,47.2 L70.0,48.8 L100.0,48.2 L141.0,47.2 L144.8,47.2 L144.8,52.6 L141.0,52.6 L100.0,53.6 L70.0,54.2 L60.0,52.6 L30.0,49.6 L0.0,46.2 L-4.0,46.2 Z" fill="#12887e" opacity="0.95" filter="url(#sbBba)"/><path d="M-4.0,38.4 L0.0,38.4 L30.0,41.8 L60.0,44.8 L70.0,46.4 L100.0,45.8 L141.0,44.8 L144.8,44.8 L144.8,46.6 L141.0,46.6 L100.0,47.6 L70.0,48.2 L60.0,46.6 L30.0,43.6 L0.0,40.2 L-4.0,40.2 Z" fill="#48d040" opacity="0.9" filter="url(#sbBba)"/><path d="M-4.0,31.7 L0.0,31.7 L20.0,33.2 L43.0,35.3 L50.0,37.0 L55.0,39.6 L62.0,43.5 L69.0,45.4 L74.0,43.5 L80.0,39.5 L88.0,37.0 L98.0,36.0 L141.0,35.3 L144.8,35.3 L144.8,41.7 L141.0,41.7 L98.0,42.4 L88.0,43.4 L80.0,45.9 L74.0,49.9 L69.0,51.8 L62.0,49.9 L55.0,46.0 L50.0,43.4 L43.0,41.7 L20.0,39.6 L0.0,38.1 L-4.0,38.1 Z" fill="#98e820" opacity="1" filter="url(#sbBba)"/></g><path d="M-4.0,46.1 L0.0,46.1 L30.0,49.5 L60.0,52.5 L70.0,54.1 L100.0,53.5 L141.0,52.5 L144.8,52.5 L144.8,55.5 L141.0,55.5 L100.0,56.5 L70.0,57.1 L60.0,55.5 L30.0,52.5 L0.0,49.1 L-4.0,49.1 Z" fill="#e8c010" opacity="0.8" filter="url(#sbBba)"/><path d="M-4.0,46.7 L0.0,46.7 L30.0,50.1 L60.0,53.1 L70.0,54.7 L100.0,54.1 L141.0,53.1 L144.8,53.1 L144.8,54.9 L141.0,54.9 L100.0,55.9 L70.0,56.5 L60.0,54.9 L30.0,51.9 L0.0,48.5 L-4.0,48.5 Z" fill="#f04810" opacity="1" filter="url(#sbBba)"/><rect width="140.8" height="99.4" filter="url(#dkBba)" opacity="0.3"/></g><rect x="7.9" y="78.1" width="15.7" height="15.6" fill="none" stroke="#c4c4c4" stroke-width="0.8"/><line x1="7.9" y1="85.8" x2="23.6" y2="85.8" stroke="#c4c4c4" stroke-width="0.8"/><path d="M21.1,84.3 L23.1,85.8 L21.1,87.3" fill="none" stroke="#c4c4c4" stroke-width="0.6"/><text x="3.3000000000000007" y="87.69999999999999" font-size="5.3" text-anchor="start" font-weight="normal" fill="#d8d8d8" >T</text><text x="26.299999999999997" y="87.69999999999999" font-size="5.3" text-anchor="start" font-weight="normal" fill="#d8d8d8" >N</text></g>
<text x="173.6" y="262.3" font-size="5.45" text-anchor="start" font-weight="normal" fill="#222" >OS Horizontal B-Scan</text>
<text x="279.5" y="262.3" font-size="5.6" font-weight="bold" fill="#222" textLength="20.4" lengthAdjust="spacingAndGlyphs">BScan:</text>
<text x="304.3" y="262.3" font-size="5.6" text-anchor="start" font-weight="normal" fill="#222" >65</text>
<g transform="translate(172.2,264)"><defs><clipPath id="bcBbb"><rect width="140.8" height="99.6"/></clipPath><filter id="nzBbb" x="0" y="0" width="100%" height="100%" color-interpolation-filters="sRGB"><feTurbulence type="fractalNoise" baseFrequency="0.95" numOctaves="2" seed="7" result="n"/><feColorMatrix type="matrix" values="0 0 0 0 0.12  0 0 0 0 0.30  0 0 0 0 0.52  2.4 0 0 0 -1.0"/></filter><filter id="dkBbb" x="0" y="0" width="100%" height="100%" color-interpolation-filters="sRGB"><feTurbulence type="fractalNoise" baseFrequency="0.9" numOctaves="2" seed="18"/><feColorMatrix type="matrix" values="0 0 0 0 0.02  0 0 0 0 0.06  0 0 0 0 0.16  2.6 0 0 0 -1.0"/></filter><filter id="csBbb" x="-5%" y="-60%" width="110%" height="220%" color-interpolation-filters="sRGB"><feTurbulence type="fractalNoise" baseFrequency="0.85" numOctaves="2" seed="12" result="n"/><feColorMatrix in="n" type="matrix" values="0 0 0 0 0.10  0 0 0 0 0.44  0 0 0 0 0.62  2.6 0 0 0 -0.95" result="c"/><feGaussianBlur in="SourceAlpha" stdDeviation="3" result="m"/><feComposite in="c" in2="m" operator="in"/></filter><filter id="sbBbb" x="-5%" y="-50%" width="110%" height="200%"><feGaussianBlur stdDeviation="0.8"/></filter><filter id="sb2Bbb" x="-5%" y="-50%" width="110%" height="200%"><feGaussianBlur stdDeviation="2.4"/></filter></defs><g clip-path="url(#bcBbb)"><rect width="140.8" height="99.6" fill="#06112c"/><rect width="140.8" height="99.6" filter="url(#nzBbb)"/><path d="M-4.0,73.2 L0.0,73.2 L30.0,74.5 L55.0,75.6 L70.0,75.3 L100.0,73.5 L120.0,71.5 L141.0,69.8 L144.8,69.8 L144.8,84.8 L141.0,84.8 L120.0,86.5 L100.0,88.5 L70.0,90.3 L55.0,90.6 L30.0,89.5 L0.0,88.2 L-4.0,88.2 Z" fill="#1a5a8a" opacity="0.25" filter="url(#sb2Bbb)"/><path d="M-4.0,71.2 L0.0,71.2 L30.0,72.5 L55.0,73.6 L70.0,73.3 L100.0,71.5 L120.0,69.5 L141.0,67.8 L144.8,67.8 L144.8,86.8 L141.0,86.8 L120.0,88.5 L100.0,90.5 L70.0,92.3 L55.0,92.6 L30.0,91.5 L0.0,90.2 L-4.0,90.2 Z" fill="#000" opacity="0.55" filter="url(#csBbb)"/><path d="M-4.0,70.7 L0.0,70.7 L30.0,72.0 L55.0,73.1 L70.0,72.8 L100.0,71.0 L120.0,69.0 L141.0,67.3 L144.8,67.3 L144.8,74.8 L141.0,74.8 L120.0,76.5 L100.0,78.5 L70.0,80.3 L55.0,80.6 L30.0,79.5 L0.0,78.2 L-4.0,78.2 Z" fill="#1aa878" opacity="0.75" filter="url(#sb2Bbb)"/><path d="M-4.0,69.0 L0.0,69.0 L30.0,70.3 L55.0,71.4 L70.0,71.1 L100.0,69.3 L120.0,67.3 L141.0,65.6 L144.8,65.6 L144.8,69.4 L141.0,69.4 L120.0,71.1 L100.0,73.1 L70.0,74.9 L55.0,75.2 L30.0,74.1 L0.0,72.8 L-4.0,72.8 Z" fill="#70dc28" opacity="1" filter="url(#sbBbb)"/><clipPath id="rcBbb"><path d="M-4.0,53.4 L0.0,53.4 L20.0,53.0 L36.0,52.6 L46.0,53.5 L54.0,56.4 L62.0,60.5 L70.0,62.4 L76.0,61.8 L82.0,58.5 L88.0,56.4 L106.0,54.0 L141.0,52.2 L144.8,52.2 L144.8,65.8 L141.0,65.8 L120.0,67.5 L100.0,69.5 L70.0,71.3 L55.0,71.6 L30.0,70.5 L0.0,69.2 L-4.0,69.2 Z"/></clipPath><g clip-path="url(#rcBbb)"><rect x="-5" y="0" width="150.8" height="99.6" fill="#1c9870"/><path d="M-4.0,56.8 L0.0,56.8 L30.0,58.1 L55.0,59.2 L70.0,58.9 L100.0,57.1 L120.0,55.1 L141.0,53.4 L144.8,53.4 L144.8,55.8 L141.0,55.8 L120.0,57.5 L100.0,59.5 L70.0,61.3 L55.0,61.6 L30.0,60.5 L0.0,59.2 L-4.0,59.2 Z" fill="#1a9c78" opacity="0.7" filter="url(#sbBbb)"/><path d="M-4.0,61.4 L0.0,61.4 L30.0,62.7 L55.0,63.8 L70.0,63.5 L100.0,61.7 L120.0,59.7 L141.0,58.0 L144.8,58.0 L144.8,63.4 L141.0,63.4 L120.0,65.1 L100.0,67.1 L70.0,68.9 L55.0,69.2 L30.0,68.1 L0.0,66.8 L-4.0,66.8 Z" fill="#12887e" opacity="0.95" filter="url(#sbBbb)"/><path d="M-4.0,59.0 L0.0,59.0 L30.0,60.3 L55.0,61.4 L70.0,61.1 L100.0,59.3 L120.0,57.3 L141.0,55.6 L144.8,55.6 L144.8,57.4 L141.0,57.4 L120.0,59.1 L100.0,61.1 L70.0,62.9 L55.0,63.2 L30.0,62.1 L0.0,60.8 L-4.0,60.8 Z" fill="#48d040" opacity="0.9" filter="url(#sbBbb)"/><path d="M-4.0,50.4 L0.0,50.4 L20.0,50.0 L36.0,49.6 L46.0,50.5 L54.0,53.4 L62.0,57.5 L70.0,59.4 L76.0,58.8 L82.0,55.5 L88.0,53.4 L106.0,51.0 L141.0,49.2 L144.8,49.2 L144.8,54.4 L141.0,54.4 L106.0,56.2 L88.0,58.6 L82.0,60.7 L76.0,64.0 L70.0,64.6 L62.0,62.7 L54.0,58.6 L46.0,55.7 L36.0,54.8 L20.0,55.2 L0.0,55.6 L-4.0,55.6 Z" fill="#50d838" opacity="1" filter="url(#sbBbb)"/></g><path d="M-4.0,66.7 L0.0,66.7 L30.0,68.0 L55.0,69.1 L70.0,68.8 L100.0,67.0 L120.0,65.0 L141.0,63.3 L144.8,63.3 L144.8,66.3 L141.0,66.3 L120.0,68.0 L100.0,70.0 L70.0,71.8 L55.0,72.1 L30.0,71.0 L0.0,69.7 L-4.0,69.7 Z" fill="#b8ec20" opacity="0.8" filter="url(#sbBbb)"/><path d="M-4.0,67.3 L0.0,67.3 L30.0,68.6 L55.0,69.7 L70.0,69.4 L100.0,67.6 L120.0,65.6 L141.0,63.9 L144.8,63.9 L144.8,65.7 L141.0,65.7 L120.0,67.4 L100.0,69.4 L70.0,71.2 L55.0,71.5 L30.0,70.4 L0.0,69.1 L-4.0,69.1 Z" fill="#e8d010" opacity="1" filter="url(#sbBbb)"/><rect width="140.8" height="99.6" filter="url(#dkBbb)" opacity="0.3"/></g><rect x="7.9" y="78.1" width="15.7" height="15.6" fill="none" stroke="#c4c4c4" stroke-width="0.8"/><line x1="7.9" y1="85.8" x2="23.6" y2="85.8" stroke="#c4c4c4" stroke-width="0.8"/><path d="M21.1,84.3 L23.1,85.8 L21.1,87.3" fill="none" stroke="#c4c4c4" stroke-width="0.6"/><text x="3.3000000000000007" y="87.69999999999999" font-size="5.3" text-anchor="start" font-weight="normal" fill="#d8d8d8" >N</text><text x="26.299999999999997" y="87.69999999999999" font-size="5.3" text-anchor="start" font-weight="normal" fill="#d8d8d8" >T</text></g>
<line x1="0" y1="373.3" x2="315.5" y2="373.3" stroke="#555" stroke-width="1.4"/>
<rect x="0.6" y="376.3" width="134.6" height="38.3" fill="none" stroke="#999" stroke-width="1.1"/>
<text x="1.9" y="383.5" font-size="6.45" text-anchor="start" font-weight="normal" fill="#222" >Comments</text>
<text x="139.9" y="382.8" font-size="6.4" text-anchor="start" font-weight="normal" fill="#222" >Doctor's Signature</text>
<line x1="139" y1="412.2" x2="250" y2="412.2" stroke="#555" stroke-width="0.8"/>
<text x="255.6" y="386.7" font-size="5.1" text-anchor="start" font-weight="normal" fill="#222" >SW Ver: 8.1.0.117</text>
<text x="255.6" y="392.3" font-size="5.1" text-anchor="start" font-weight="normal" fill="#222" >Copyright 2015</text>
<text x="255.6" y="397.9" font-size="5.1" text-anchor="start" font-weight="normal" fill="#222" >Carl Zeiss Meditec, Inc</text>
<text x="255.6" y="403.5" font-size="5.1" text-anchor="start" font-weight="normal" fill="#222" >All Rights Reserved</text>
<text x="255.6" y="412.5" font-size="5.3" text-anchor="start" font-weight="normal" fill="#222" >Page 1 of 1</text>
</g>
</svg>
</body></html>
